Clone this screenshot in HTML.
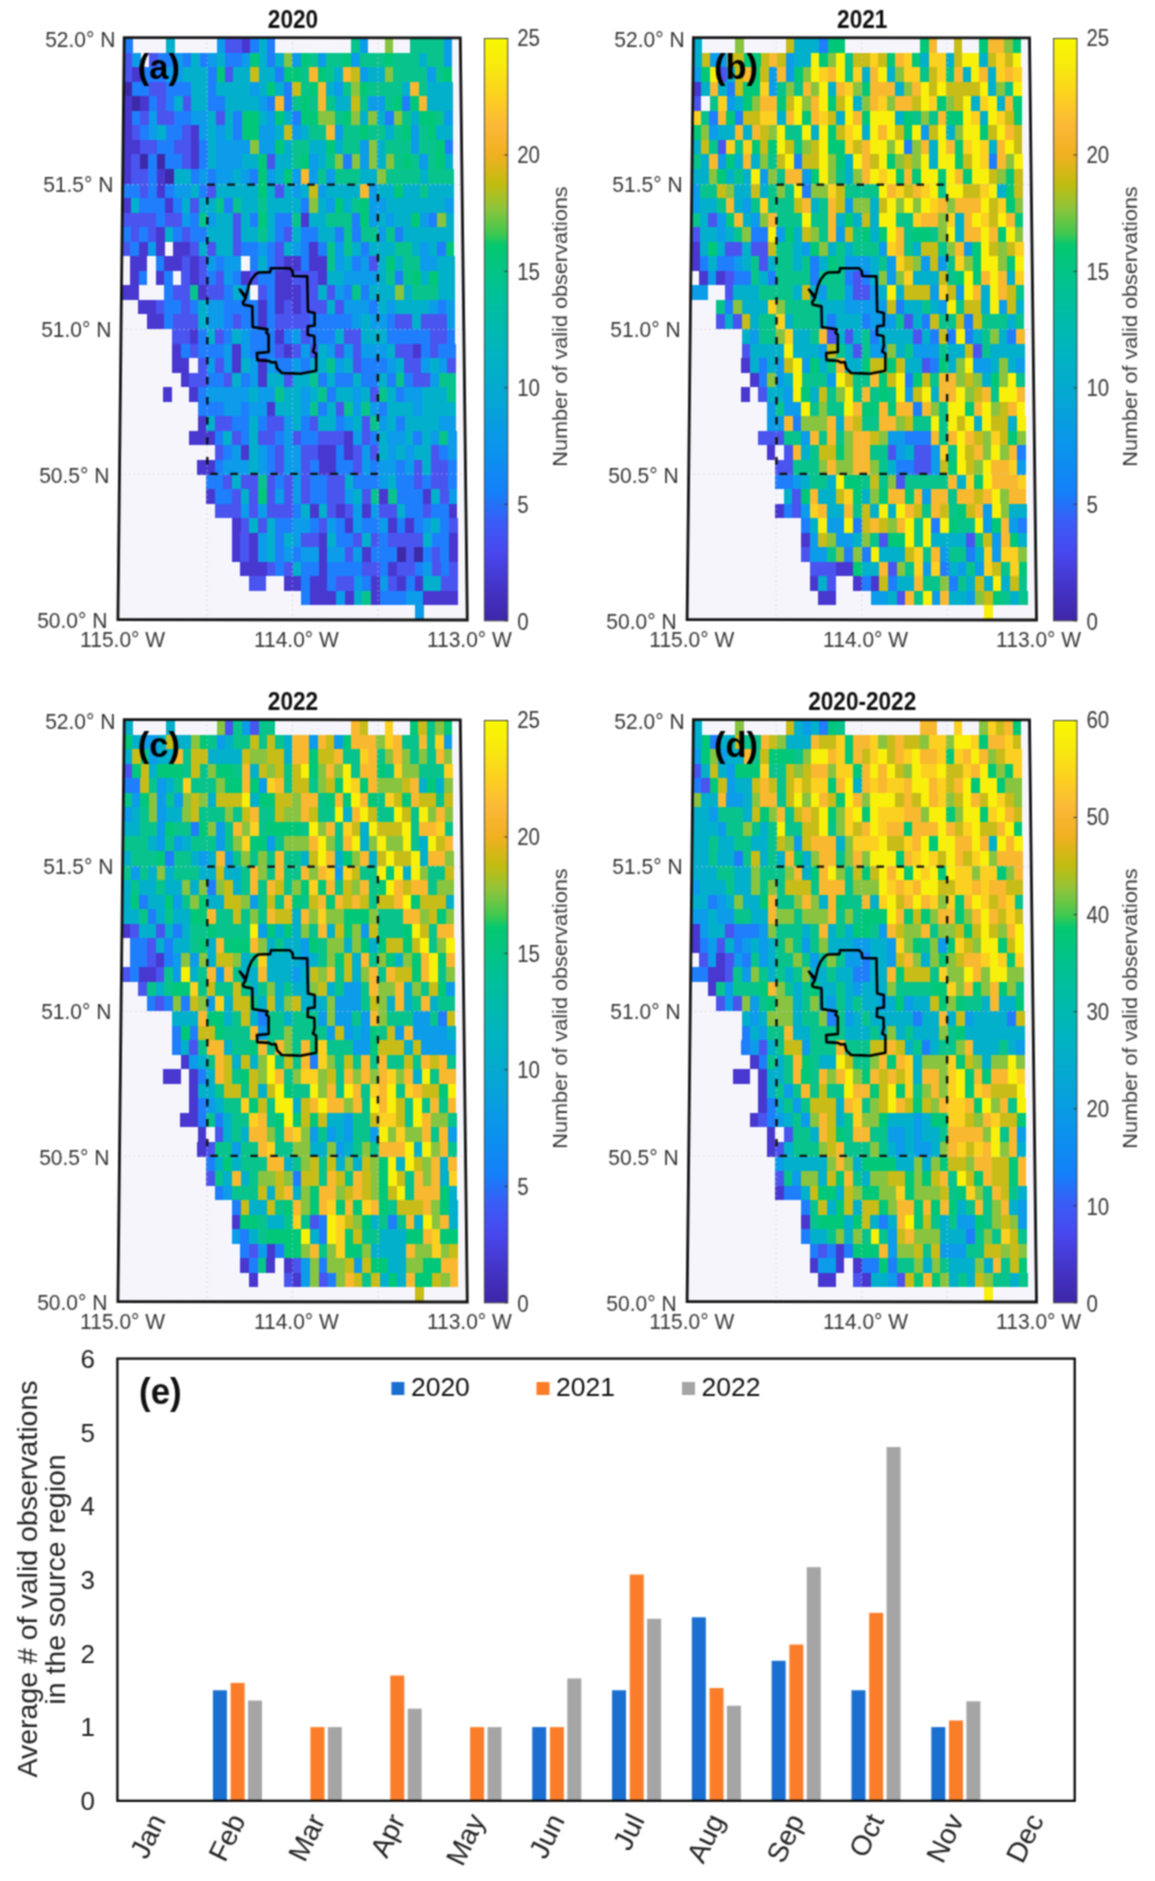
<!DOCTYPE html>
<html><head><meta charset="utf-8"><style>
html,body{margin:0;padding:0;background:#fff;width:1155px;height:1881px;overflow:hidden}
svg{display:block}
text{font-family:"Liberation Sans",sans-serif}
</style></head><body>
<svg width="1155" height="1881" viewBox="0 0 1155 1881" font-family="Liberation Sans, sans-serif">
<defs><filter id="soft" x="0" y="0" width="1155" height="1881" filterUnits="userSpaceOnUse" color-interpolation-filters="sRGB"><feConvolveMatrix order="3" kernelMatrix="1 2 1 2 4 2 1 2 1" divisor="16" edgeMode="duplicate"/></filter></defs>
<g filter="url(#soft)">
<rect width="1155" height="1881" fill="#fff"/>
<polygon points="124.20,37.60 460.30,37.80 467.30,620.00 117.90,619.60" fill="#f5f5fb"/>
<g shape-rendering="crispEdges">
<path fill="#3e2aa8" d="M123.6 81.65H132.1V96.20H123.6zM131.9 96.20H140.4V110.75H131.9zM139.8 154.40H148.3V168.95H139.8zM156.8 154.40H165.2V168.95H156.8zM165.1 168.95H173.6V183.50H165.1zM396.9 547.25H405.6V561.80H396.9zM414.3 547.25H423.0V561.80H414.3z"/>
<path fill="#4838d0" d="M241.8 38.00H250.2V52.55H241.8zM132.2 67.10H140.7V81.65H132.2zM123.5 96.20H131.9V110.75H123.5zM140.4 96.20H148.8V110.75H140.4zM123.3 110.75H131.8V125.30H123.3zM123.2 125.30H131.6V139.85H123.2zM190.8 125.30H199.3V139.85H190.8zM123.0 139.85H139.9V154.40H123.0zM190.7 139.85H199.2V154.40H190.7zM122.9 154.40H131.3V168.95H122.9zM190.6 154.40H199.1V168.95H190.6zM122.7 168.95H131.2V183.50H122.7zM156.6 168.95H165.1V183.50H156.6zM156.5 183.50H165.0V198.05H156.5zM122.4 198.05H130.9V212.60H122.4zM164.9 198.05H173.4V212.60H164.9zM300.9 212.60H309.4V227.15H300.9zM156.1 227.15H164.6V241.70H156.1zM139.0 241.70H147.5V256.25H139.0zM156.0 241.70H164.5V256.25H156.0zM173.1 241.70H190.1V256.25H173.1zM309.4 241.70H317.9V256.25H309.4zM130.3 256.25H147.4V270.80H130.3zM164.4 256.25H181.5V270.80H164.4zM190.0 256.25H198.5V270.80H190.0zM283.9 256.25H300.9V270.80H283.9zM309.4 256.25H326.5V270.80H309.4zM130.1 270.80H138.7V285.35H130.1zM155.8 270.80H164.3V285.35H155.8zM189.9 270.80H198.5V285.35H189.9zM241.2 270.80H249.7V285.35H241.2zM275.3 270.80H292.4V285.35H275.3zM318.0 270.80H326.6V285.35H318.0zM121.4 285.35H138.5V299.90H121.4zM198.4 285.35H206.9V299.90H198.4zM275.3 285.35H301.0V299.90H275.3zM138.4 299.90H155.5V314.45H138.4zM258.2 299.90H266.7V314.45H258.2zM275.3 299.90H283.9V314.45H275.3zM292.4 299.90H301.0V314.45H292.4zM146.8 314.45H164.0V329.00H146.8zM258.2 314.45H266.7V329.00H258.2zM189.6 329.00H198.1V343.55H189.6zM275.3 329.00H283.9V343.55H275.3zM172.3 343.55H180.9V358.10H172.3zM232.4 343.55H241.0V358.10H232.4zM283.9 343.55H292.4V358.10H283.9zM412.6 343.55H421.2V358.10H412.6zM172.2 358.10H189.4V372.65H172.2zM232.3 358.10H240.9V372.65H232.3zM258.1 358.10H266.7V372.65H258.1zM180.7 372.65H189.3V387.20H180.7zM258.1 372.65H266.7V387.20H258.1zM163.4 387.20H172.0V401.75H163.4zM189.2 387.20H197.8V401.75H189.2zM266.6 401.75H275.2V416.30H266.6zM197.6 416.30H206.3V430.85H197.6zM188.9 430.85H214.8V445.40H188.9zM344.3 430.85H352.9V445.40H344.3zM240.7 445.40H249.3V459.95H240.7zM318.4 445.40H335.7V459.95H318.4zM344.3 445.40H353.0V459.95H344.3zM197.4 459.95H214.7V474.50H197.4zM318.5 459.95H335.7V474.50H318.5zM205.9 489.05H214.5V503.60H205.9zM379.2 489.05H387.8V503.60H379.2zM422.5 489.05H431.2V503.60H422.5zM309.9 503.60H318.6V518.15H309.9zM335.9 503.60H344.6V518.15H335.9zM361.9 503.60H370.6V518.15H361.9zM448.6 503.60H457.3V518.15H448.6zM231.8 518.15H240.5V532.70H231.8zM344.6 518.15H353.3V532.70H344.6zM388.0 518.15H396.7V532.70H388.0zM405.4 518.15H414.1V532.70H405.4zM231.7 532.70H240.4V547.25H231.7zM249.1 532.70H257.8V547.25H249.1zM318.6 532.70H327.3V547.25H318.6zM449.0 532.70H457.6V547.25H449.0zM231.7 547.25H240.4V561.80H231.7zM249.1 547.25H257.8V561.80H249.1zM318.7 547.25H327.4V561.80H318.7zM362.1 547.25H370.8V561.80H362.1zM449.1 547.25H457.8V561.80H449.1zM240.3 561.80H266.5V576.35H240.3zM318.7 561.80H327.4V576.35H318.7zM388.3 561.80H397.0V576.35H388.3zM283.9 576.35H301.3V590.90H283.9zM310.0 576.35H327.4V590.90H310.0zM371.0 576.35H379.7V590.90H371.0zM397.1 576.35H405.9V590.90H397.1zM414.6 576.35H423.3V590.90H414.6zM310.0 590.90H336.2V605.45H310.0zM344.9 590.90H353.6V605.45H344.9zM371.1 590.90H379.8V605.45H371.1zM423.4 590.90H458.3V605.45H423.4z"/>
<path fill="#4a55f0" d="M225.0 38.00H241.8V52.55H225.0zM124.0 52.55H132.4V67.10H124.0zM149.2 52.55H157.6V67.10H149.2zM123.8 67.10H132.2V81.65H123.8zM224.9 67.10H233.3V81.65H224.9zM148.9 81.65H165.8V96.20H148.9zM157.3 96.20H165.7V110.75H157.3zM182.6 96.20H191.0V110.75H182.6zM140.2 110.75H148.7V125.30H140.2zM157.1 110.75H174.0V125.30H157.1zM216.3 110.75H224.7V125.30H216.3zM131.6 125.30H140.1V139.85H131.6zM182.4 125.30H190.8V139.85H182.4zM139.9 139.85H156.9V154.40H139.9zM173.8 139.85H190.7V154.40H173.8zM131.3 154.40H139.8V168.95H131.3zM182.2 154.40H190.6V168.95H182.2zM266.9 154.40H275.4V168.95H266.9zM131.2 168.95H148.1V183.50H131.2zM139.5 183.50H148.0V198.05H139.5zM207.4 183.50H215.9V198.05H207.4zM275.4 183.50H283.9V198.05H275.4zM190.4 198.05H198.9V212.60H190.4zM122.2 212.60H156.3V227.15H122.2zM164.8 212.60H181.8V227.15H164.8zM232.8 212.60H241.3V227.15H232.8zM130.6 227.15H139.1V241.70H130.6zM147.6 227.15H156.1V241.70H147.6zM181.7 227.15H190.2V241.70H181.7zM232.8 227.15H241.3V241.70H232.8zM283.9 227.15H292.4V241.70H283.9zM121.9 241.70H130.4V256.25H121.9zM190.1 241.70H198.6V256.25H190.1zM207.1 241.70H215.7V256.25H207.1zM232.7 241.70H241.2V256.25H232.7zM275.3 241.70H283.9V256.25H275.3zM181.5 256.25H190.0V270.80H181.5zM198.5 256.25H207.1V270.80H198.5zM275.3 256.25H283.9V270.80H275.3zM369.2 256.25H377.7V270.80H369.2zM181.4 270.80H189.9V285.35H181.4zM198.5 270.80H207.0V285.35H198.5zM215.5 270.80H224.1V285.35H215.5zM249.7 270.80H258.2V285.35H249.7zM292.4 270.80H318.0V285.35H292.4zM172.7 285.35H189.8V299.90H172.7zM206.9 285.35H224.0V299.90H206.9zM258.2 285.35H266.8V299.90H258.2zM301.0 285.35H318.0V299.90H301.0zM326.6 285.35H335.1V299.90H326.6zM155.5 299.90H164.1V314.45H155.5zM181.2 299.90H189.7V314.45H181.2zM283.9 299.90H292.4V314.45H283.9zM301.0 299.90H326.6V314.45H301.0zM335.2 299.90H343.7V314.45H335.2zM172.5 314.45H198.2V329.00H172.5zM232.5 314.45H241.0V329.00H232.5zM275.3 314.45H309.5V329.00H275.3zM395.2 314.45H412.3V329.00H395.2zM420.9 314.45H446.6V329.00H420.9zM172.4 329.00H189.6V343.55H172.4zM215.3 329.00H223.8V343.55H215.3zM301.0 329.00H309.6V343.55H301.0zM343.9 329.00H361.0V343.55H343.9zM429.6 329.00H446.7V343.55H429.6zM189.5 343.55H198.0V358.10H189.5zM275.3 343.55H283.9V358.10H275.3zM292.4 343.55H301.0V358.10H292.4zM309.6 343.55H318.2V358.10H309.6zM335.3 343.55H343.9V358.10H335.3zM352.5 343.55H361.1V358.10H352.5zM395.4 343.55H412.6V358.10H395.4zM429.7 343.55H438.3V358.10H429.7zM198.0 358.10H206.6V372.65H198.0zM215.1 358.10H223.7V372.65H215.1zM352.6 358.10H361.2V372.65H352.6zM404.1 358.10H421.3V372.65H404.1zM447.1 358.10H455.6V372.65H447.1zM189.3 372.65H206.5V387.20H189.3zM223.7 372.65H232.3V387.20H223.7zM283.9 372.65H292.5V387.20H283.9zM412.8 372.65H430.0V387.20H412.8zM369.9 387.20H378.5V401.75H369.9zM335.5 401.75H344.2V416.30H335.5zM214.9 416.30H232.1V430.85H214.9zM266.6 416.30H283.9V430.85H266.6zM309.7 416.30H318.4V430.85H309.7zM361.5 416.30H370.1V430.85H361.5zM232.1 430.85H240.7V445.40H232.1zM258.0 430.85H275.2V445.40H258.0zM292.5 430.85H301.1V445.40H292.5zM318.4 430.85H344.3V445.40H318.4zM361.5 430.85H370.2V445.40H361.5zM214.7 445.40H223.4V459.95H214.7zM275.2 445.40H283.9V459.95H275.2zM301.1 445.40H318.4V459.95H301.1zM353.0 445.40H361.6V459.95H353.0zM370.3 445.40H378.9V459.95H370.3zM430.7 445.40H439.4V459.95H430.7zM275.2 459.95H283.9V474.50H275.2zM301.2 459.95H309.8V474.50H301.2zM353.0 459.95H361.7V474.50H353.0zM413.6 459.95H422.2V474.50H413.6zM430.9 459.95H448.2V474.50H430.9zM223.3 474.50H231.9V489.05H223.3zM240.6 474.50H257.9V489.05H240.6zM266.5 474.50H275.2V489.05H266.5zM283.9 474.50H292.5V489.05H283.9zM301.2 474.50H309.8V489.05H301.2zM327.1 474.50H344.5V489.05H327.1zM413.7 474.50H422.4V489.05H413.7zM431.0 474.50H448.3V489.05H431.0zM231.9 489.05H240.5V503.60H231.9zM249.2 489.05H257.9V503.60H249.2zM266.5 489.05H275.2V503.60H266.5zM283.9 489.05H292.5V503.60H283.9zM301.2 489.05H309.9V503.60H301.2zM327.2 489.05H344.5V503.60H327.2zM361.8 489.05H370.5V503.60H361.8zM439.8 489.05H448.5V503.60H439.8zM214.5 503.60H240.5V518.15H214.5zM249.2 503.60H257.8V518.15H249.2zM266.5 503.60H292.5V518.15H266.5zM327.2 503.60H335.9V518.15H327.2zM344.6 503.60H353.2V518.15H344.6zM379.3 503.60H396.6V518.15H379.3zM422.6 503.60H431.3V518.15H422.6zM240.5 518.15H249.1V532.70H240.5zM257.8 518.15H266.5V532.70H257.8zM318.6 518.15H327.3V532.70H318.6zM448.8 518.15H457.5V532.70H448.8zM240.4 532.70H249.1V547.25H240.4zM301.2 532.70H318.6V547.25H301.2zM353.4 532.70H362.1V547.25H353.4zM370.8 532.70H379.4V547.25H370.8zM388.1 532.70H422.9V547.25H388.1zM240.4 547.25H249.1V561.80H240.4zM344.7 547.25H353.4V561.80H344.7zM405.6 547.25H414.3V561.80H405.6zM431.7 547.25H440.4V561.80H431.7zM266.5 561.80H275.2V576.35H266.5zM283.9 561.80H292.6V576.35H283.9zM362.2 561.80H379.6V576.35H362.2zM397.0 561.80H414.5V576.35H397.0zM431.9 561.80H440.6V576.35H431.9zM449.3 561.80H458.0V576.35H449.3zM249.0 576.35H266.4V590.90H249.0zM336.1 576.35H353.6V590.90H336.1zM388.4 576.35H397.1V590.90H388.4zM440.7 576.35H458.1V590.90H440.7z"/>
<path fill="#1e7efb" d="M124.1 38.00H132.5V52.55H124.1zM250.2 38.00H258.6V52.55H250.2zM267.0 38.00H275.4V52.55H267.0zM157.6 52.55H174.5V67.10H157.6zM182.9 52.55H191.3V67.10H182.9zM199.7 52.55H208.1V67.10H199.7zM224.9 52.55H241.8V67.10H224.9zM267.0 52.55H275.4V67.10H267.0zM140.7 67.10H165.9V81.65H140.7zM208.0 67.10H216.5V81.65H208.0zM275.4 67.10H283.8V81.65H275.4zM132.1 81.65H148.9V96.20H132.1zM165.8 81.65H191.1V96.20H165.8zM208.0 81.65H216.4V96.20H208.0zM283.8 81.65H292.3V96.20H283.8zM148.8 96.20H157.3V110.75H148.8zM165.7 96.20H174.1V110.75H165.7zM207.9 96.20H224.8V110.75H207.9zM267.0 96.20H275.4V110.75H267.0zM283.8 96.20H292.3V110.75H283.8zM402.0 96.20H410.4V110.75H402.0zM131.8 110.75H140.2V125.30H131.8zM174.0 110.75H190.9V125.30H174.0zM233.2 110.75H241.6V125.30H233.2zM292.3 110.75H300.7V125.30H292.3zM385.2 110.75H393.7V125.30H385.2zM140.1 125.30H148.5V139.85H140.1zM165.5 125.30H182.4V139.85H165.5zM233.1 125.30H241.6V139.85H233.1zM156.9 139.85H173.8V154.40H156.9zM199.2 139.85H207.7V154.40H199.2zM444.7 139.85H453.1V154.40H444.7zM148.3 154.40H156.8V168.95H148.3zM165.2 154.40H182.2V168.95H165.2zM199.1 154.40H207.6V168.95H199.1zM343.2 154.40H351.6V168.95H343.2zM148.1 168.95H156.6V183.50H148.1zM190.6 168.95H199.0V183.50H190.6zM207.5 168.95H216.0V183.50H207.5zM249.9 168.95H258.4V183.50H249.9zM122.5 183.50H139.5V198.05H122.5zM148.0 183.50H156.5V198.05H148.0zM165.0 183.50H173.5V198.05H165.0zM199.0 183.50H207.4V198.05H199.0zM139.4 198.05H164.9V212.60H139.4zM173.4 198.05H181.9V212.60H173.4zM224.4 198.05H232.9V212.60H224.4zM300.8 198.05H309.3V212.60H300.8zM156.3 212.60H164.8V227.15H156.3zM190.3 212.60H198.8V227.15H190.3zM249.8 212.60H258.3V227.15H249.8zM275.3 212.60H292.4V227.15H275.3zM351.9 212.60H360.4V227.15H351.9zM428.5 212.60H437.0V227.15H428.5zM122.1 227.15H130.6V241.70H122.1zM139.1 227.15H147.6V241.70H139.1zM173.2 227.15H181.7V241.70H173.2zM190.2 227.15H207.2V241.70H190.2zM275.3 227.15H283.9V241.70H275.3zM300.9 227.15H317.9V241.70H300.9zM334.9 227.15H343.5V241.70H334.9zM352.0 227.15H360.5V241.70H352.0zM394.5 227.15H403.1V241.70H394.5zM130.4 241.70H139.0V256.25H130.4zM241.2 241.70H258.3V256.25H241.2zM266.8 241.70H275.3V256.25H266.8zM300.9 241.70H309.4V256.25H300.9zM317.9 241.70H326.5V256.25H317.9zM360.6 241.70H369.1V256.25H360.6zM437.3 241.70H445.8V256.25H437.3zM155.9 256.25H164.4V270.80H155.9zM215.6 256.25H224.1V270.80H215.6zM249.7 256.25H258.3V270.80H249.7zM266.8 256.25H275.3V270.80H266.8zM300.9 256.25H309.4V270.80H300.9zM352.1 256.25H360.6V270.80H352.1zM138.7 270.80H147.2V285.35H138.7zM164.3 270.80H172.8V285.35H164.3zM207.0 270.80H215.5V285.35H207.0zM232.6 270.80H241.2V285.35H232.6zM258.2 270.80H275.3V285.35H258.2zM394.9 270.80H403.4V285.35H394.9zM164.2 285.35H172.7V299.90H164.2zM224.0 285.35H232.6V299.90H224.0zM266.8 285.35H275.3V299.90H266.8zM343.7 285.35H352.2V299.90H343.7zM360.8 285.35H369.3V299.90H360.8zM164.1 299.90H181.2V314.45H164.1zM189.7 299.90H198.3V314.45H189.7zM224.0 299.90H258.2V314.45H224.0zM266.7 299.90H275.3V314.45H266.7zM369.4 299.90H378.0V314.45H369.4zM437.9 299.90H446.4V314.45H437.9zM164.0 314.45H172.5V329.00H164.0zM223.9 314.45H232.5V329.00H223.9zM241.0 314.45H258.2V329.00H241.0zM266.7 314.45H275.3V329.00H266.7zM309.5 314.45H352.4V329.00H309.5zM386.6 314.45H395.2V329.00H386.6zM198.1 329.00H206.7V343.55H198.1zM223.8 329.00H232.4V343.55H223.8zM249.6 329.00H275.3V343.55H249.6zM283.9 329.00H292.4V343.55H283.9zM309.6 329.00H335.3V343.55H309.6zM386.7 329.00H429.6V343.55H386.7zM446.7 329.00H455.3V343.55H446.7zM180.9 343.55H189.5V358.10H180.9zM198.0 343.55H223.8V358.10H198.0zM249.5 343.55H275.3V358.10H249.5zM421.2 343.55H429.7V358.10H421.2zM438.3 343.55H455.5V358.10H438.3zM275.3 358.10H292.4V372.65H275.3zM301.0 358.10H309.6V372.65H301.0zM361.2 358.10H386.9V372.65H361.2zM206.5 372.65H223.7V387.20H206.5zM240.9 372.65H249.5V387.20H240.9zM318.2 372.65H326.8V387.20H318.2zM335.4 372.65H352.6V387.20H335.4zM361.2 372.65H378.4V387.20H361.2zM387.0 372.65H395.6V387.20H387.0zM404.2 372.65H412.8V387.20H404.2zM197.8 387.20H206.4V401.75H197.8zM326.9 387.20H335.5V401.75H326.9zM395.7 387.20H404.3V401.75H395.7zM197.7 401.75H223.6V416.30H197.7zM240.8 401.75H249.4V416.30H240.8zM318.3 401.75H326.9V416.30H318.3zM378.6 401.75H387.2V416.30H378.6zM232.1 416.30H249.4V430.85H232.1zM258.0 416.30H266.6V430.85H258.0zM301.1 416.30H309.7V430.85H301.1zM335.6 416.30H344.2V430.85H335.6zM396.0 416.30H404.6V430.85H396.0zM214.8 430.85H223.4V445.40H214.8zM240.7 430.85H249.3V445.40H240.7zM275.2 430.85H283.9V445.40H275.2zM301.1 430.85H318.4V445.40H301.1zM370.2 430.85H378.8V445.40H370.2zM413.3 430.85H422.0V445.40H413.3zM223.4 445.40H232.0V459.95H223.4zM266.6 445.40H275.2V459.95H266.6zM335.7 445.40H344.3V459.95H335.7zM439.4 445.40H448.0V459.95H439.4zM214.7 459.95H223.3V474.50H214.7zM266.6 459.95H275.2V474.50H266.6zM309.8 459.95H318.5V474.50H309.8zM335.7 459.95H353.0V474.50H335.7zM370.3 459.95H379.0V474.50H370.3zM396.3 459.95H404.9V474.50H396.3zM448.2 459.95H456.8V474.50H448.2zM206.0 474.50H223.3V489.05H206.0zM275.2 474.50H283.9V489.05H275.2zM309.8 474.50H327.1V489.05H309.8zM353.1 474.50H379.1V489.05H353.1zM396.4 474.50H413.7V489.05H396.4zM422.4 474.50H431.0V489.05H422.4zM448.3 474.50H457.0V489.05H448.3zM214.5 489.05H231.9V503.60H214.5zM309.9 489.05H327.2V503.60H309.9zM396.5 489.05H422.5V503.60H396.5zM292.5 503.60H301.2V518.15H292.5zM405.3 503.60H422.6V518.15H405.3zM431.3 503.60H448.6V518.15H431.3zM275.2 518.15H292.5V532.70H275.2zM309.9 518.15H318.6V532.70H309.9zM335.9 518.15H344.6V532.70H335.9zM362.0 518.15H379.4V532.70H362.0zM396.7 518.15H405.4V532.70H396.7zM414.1 518.15H422.8V532.70H414.1zM440.1 518.15H448.8V532.70H440.1zM275.2 532.70H283.9V547.25H275.2zM336.0 532.70H353.4V547.25H336.0zM379.4 532.70H388.1V547.25H379.4zM431.6 532.70H449.0V547.25H431.6zM275.2 547.25H283.9V561.80H275.2zM292.6 547.25H301.3V561.80H292.6zM370.8 547.25H396.9V561.80H370.8zM423.0 547.25H431.7V561.80H423.0zM440.4 547.25H449.1V561.80H440.4zM275.2 561.80H283.9V576.35H275.2zM301.3 561.80H318.7V576.35H301.3zM327.4 561.80H362.2V576.35H327.4zM379.6 561.80H388.3V576.35H379.6zM414.5 561.80H423.2V576.35H414.5zM440.6 561.80H449.3V576.35H440.6zM301.3 576.35H310.0V590.90H301.3zM327.4 576.35H336.1V590.90H327.4zM362.3 576.35H371.0V590.90H362.3zM405.9 576.35H414.6V590.90H405.9zM301.3 590.90H310.0V605.45H301.3zM379.8 590.90H406.0V605.45H379.8z"/>
<path fill="#0c9cea" d="M216.6 38.00H225.0V52.55H216.6zM359.5 38.00H367.9V52.55H359.5zM443.6 38.00H452.0V52.55H443.6zM132.4 52.55H140.8V67.10H132.4zM174.5 52.55H182.9V67.10H174.5zM208.1 52.55H216.5V67.10H208.1zM241.8 52.55H250.2V67.10H241.8zM292.3 52.55H300.7V67.10H292.3zM317.5 52.55H325.9V67.10H317.5zM351.2 52.55H359.6V67.10H351.2zM443.7 52.55H452.1V67.10H443.7zM165.9 67.10H182.8V81.65H165.9zM359.7 67.10H368.1V81.65H359.7zM427.0 67.10H435.5V81.65H427.0zM250.1 81.65H258.6V96.20H250.1zM334.4 81.65H342.9V96.20H334.4zM258.5 96.20H267.0V110.75H258.5zM368.2 96.20H385.1V110.75H368.2zM148.7 110.75H157.1V125.30H148.7zM190.9 110.75H207.8V125.30H190.9zM267.0 110.75H275.4V125.30H267.0zM444.4 110.75H452.8V125.30H444.4zM148.5 125.30H157.0V139.85H148.5zM199.3 125.30H207.7V139.85H199.3zM216.2 125.30H224.7V139.85H216.2zM258.5 125.30H275.4V139.85H258.5zM292.3 125.30H300.8V139.85H292.3zM334.6 125.30H343.0V139.85H334.6zM410.7 125.30H419.2V139.85H410.7zM216.1 139.85H250.0V154.40H216.1zM258.5 139.85H275.4V154.40H258.5zM360.0 139.85H368.5V154.40H360.0zM410.8 139.85H419.3V154.40H410.8zM216.1 154.40H241.5V168.95H216.1zM309.3 154.40H317.7V168.95H309.3zM360.1 154.40H368.6V168.95H360.1zM419.4 154.40H427.9V168.95H419.4zM199.0 168.95H207.5V183.50H199.0zM216.0 168.95H233.0V183.50H216.0zM241.4 168.95H249.9V183.50H241.4zM266.9 168.95H275.4V183.50H266.9zM292.3 168.95H300.8V183.50H292.3zM309.3 168.95H317.8V183.50H309.3zM326.3 168.95H334.7V183.50H326.3zM173.5 183.50H190.5V198.05H173.5zM292.3 183.50H300.8V198.05H292.3zM317.8 183.50H326.3V198.05H317.8zM368.7 183.50H377.2V198.05H368.7zM326.3 198.05H334.8V212.60H326.3zM368.8 198.05H385.8V212.60H368.8zM445.3 198.05H453.8V212.60H445.3zM181.8 212.60H190.3V227.15H181.8zM207.3 212.60H215.8V227.15H207.3zM368.9 212.60H377.4V227.15H368.9zM385.9 212.60H394.4V227.15H385.9zM420.0 212.60H428.5V227.15H420.0zM377.5 227.15H386.0V241.70H377.5zM147.5 241.70H156.0V256.25H147.5zM258.3 241.70H266.8V256.25H258.3zM292.4 241.70H300.9V256.25H292.4zM335.0 241.70H343.5V256.25H335.0zM420.2 241.70H428.7V256.25H420.2zM207.1 256.25H215.6V270.80H207.1zM224.1 256.25H241.2V270.80H224.1zM335.0 256.25H343.6V270.80H335.0zM360.6 256.25H369.2V270.80H360.6zM420.4 256.25H437.4V270.80H420.4zM224.1 270.80H232.6V285.35H224.1zM343.6 270.80H377.8V285.35H343.6zM241.1 285.35H249.7V299.90H241.1zM335.1 285.35H343.7V299.90H335.1zM206.8 299.90H224.0V314.45H206.8zM343.7 299.90H369.4V314.45H343.7zM386.5 299.90H395.1V314.45H386.5zM429.3 299.90H437.9V314.45H429.3zM446.4 299.90H455.0V314.45H446.4zM206.8 314.45H223.9V329.00H206.8zM352.4 314.45H360.9V329.00H352.4zM369.5 314.45H386.6V329.00H369.5zM446.6 314.45H455.1V329.00H446.6zM241.0 329.00H249.6V343.55H241.0zM292.4 329.00H301.0V343.55H292.4zM223.8 343.55H232.4V358.10H223.8zM241.0 343.55H249.5V358.10H241.0zM301.0 343.55H309.6V358.10H301.0zM326.8 343.55H335.3V358.10H326.8zM343.9 343.55H352.5V358.10H343.9zM361.1 343.55H386.8V358.10H361.1zM206.6 358.10H215.1V372.65H206.6zM223.7 358.10H232.3V372.65H223.7zM249.5 358.10H258.1V372.65H249.5zM266.7 358.10H275.3V372.65H266.7zM292.4 358.10H301.0V372.65H292.4zM335.4 358.10H344.0V372.65H335.4zM386.9 358.10H395.5V372.65H386.9zM421.3 358.10H429.9V372.65H421.3zM438.5 358.10H447.1V372.65H438.5zM249.5 372.65H258.1V387.20H249.5zM430.0 372.65H438.6V387.20H430.0zM206.4 387.20H249.4V401.75H206.4zM258.0 387.20H275.3V401.75H258.0zM301.1 387.20H309.7V401.75H301.1zM352.7 387.20H361.3V401.75H352.7zM404.3 387.20H421.6V401.75H404.3zM223.6 401.75H240.8V416.30H223.6zM249.4 401.75H266.6V416.30H249.4zM301.1 401.75H309.7V416.30H301.1zM352.8 401.75H361.4V416.30H352.8zM370.0 401.75H378.6V416.30H370.0zM413.1 401.75H421.7V416.30H413.1zM283.9 416.30H292.5V430.85H283.9zM344.2 416.30H352.8V430.85H344.2zM378.7 416.30H387.3V430.85H378.7zM439.1 416.30H456.3V430.85H439.1zM283.9 430.85H292.5V445.40H283.9zM352.9 430.85H361.5V445.40H352.9zM387.4 430.85H404.7V445.40H387.4zM430.6 430.85H439.2V445.40H430.6zM447.9 430.85H456.5V445.40H447.9zM232.0 445.40H240.7V459.95H232.0zM257.9 445.40H266.6V459.95H257.9zM283.9 445.40H301.1V459.95H283.9zM361.6 445.40H370.3V459.95H361.6zM387.5 445.40H396.2V459.95H387.5zM404.8 445.40H413.5V459.95H404.8zM448.0 445.40H456.6V459.95H448.0zM223.3 459.95H249.3V474.50H223.3zM257.9 459.95H266.6V474.50H257.9zM283.9 459.95H301.2V474.50H283.9zM361.7 459.95H370.3V474.50H361.7zM379.0 459.95H396.3V474.50H379.0zM404.9 459.95H413.6V474.50H404.9zM292.5 474.50H301.2V489.05H292.5zM379.1 474.50H387.7V489.05H379.1zM275.2 489.05H283.9V503.60H275.2zM292.5 489.05H301.2V503.60H292.5zM344.5 489.05H353.2V503.60H344.5zM448.5 489.05H457.1V503.60H448.5zM240.5 503.60H249.2V518.15H240.5zM257.8 503.60H266.5V518.15H257.8zM353.2 503.60H361.9V518.15H353.2zM370.6 503.60H379.3V518.15H370.6zM292.5 518.15H309.9V532.70H292.5zM327.3 518.15H335.9V532.70H327.3zM353.3 518.15H362.0V532.70H353.3zM379.4 518.15H388.0V532.70H379.4zM422.8 518.15H431.4V532.70H422.8zM257.8 532.70H266.5V547.25H257.8zM292.6 532.70H301.2V547.25H292.6zM257.8 547.25H266.5V561.80H257.8zM283.9 547.25H292.6V561.80H283.9zM301.3 547.25H318.7V561.80H301.3zM327.4 547.25H344.7V561.80H327.4zM353.4 547.25H362.1V561.80H353.4zM423.2 561.80H431.9V576.35H423.2zM353.6 576.35H362.3V590.90H353.6zM379.7 576.35H388.4V590.90H379.7zM336.2 590.90H344.9V605.45H336.2zM406.0 590.90H423.4V605.45H406.0zM414.8 605.45H423.6V620.00H414.8z"/>
<path fill="#02b0cc" d="M166.2 38.00H174.6V52.55H166.2zM258.6 38.00H267.0V52.55H258.6zM191.3 52.55H199.7V67.10H191.3zM216.5 52.55H224.9V67.10H216.5zM258.6 52.55H267.0V67.10H258.6zM275.4 52.55H283.8V67.10H275.4zM418.5 52.55H426.9V67.10H418.5zM182.8 67.10H208.0V81.65H182.8zM233.3 67.10H250.2V81.65H233.3zM258.6 67.10H275.4V81.65H258.6zM334.4 67.10H342.8V81.65H334.4zM368.1 67.10H384.9V81.65H368.1zM191.1 81.65H208.0V96.20H191.1zM216.4 81.65H250.1V96.20H216.4zM258.6 81.65H267.0V96.20H258.6zM275.4 81.65H283.8V96.20H275.4zM326.0 81.65H334.4V96.20H326.0zM401.9 81.65H410.3V96.20H401.9zM427.2 81.65H452.5V96.20H427.2zM174.1 96.20H182.6V110.75H174.1zM191.0 96.20H207.9V110.75H191.0zM224.8 96.20H258.5V110.75H224.8zM334.5 96.20H351.4V110.75H334.5zM427.3 96.20H452.6V110.75H427.3zM207.8 110.75H216.3V125.30H207.8zM224.7 110.75H233.2V125.30H224.7zM258.5 110.75H267.0V125.30H258.5zM283.8 110.75H292.3V125.30H283.8zM359.9 110.75H368.3V125.30H359.9zM376.8 110.75H385.2V125.30H376.8zM410.6 110.75H419.0V125.30H410.6zM157.0 125.30H165.5V139.85H157.0zM207.7 125.30H216.2V139.85H207.7zM224.7 125.30H233.1V139.85H224.7zM275.4 125.30H283.9V139.85H275.4zM300.8 125.30H309.2V139.85H300.8zM385.3 125.30H393.8V139.85H385.3zM436.1 125.30H453.0V139.85H436.1zM207.7 139.85H216.1V154.40H207.7zM283.9 139.85H292.3V154.40H283.9zM309.2 139.85H326.2V154.40H309.2zM334.6 139.85H343.1V154.40H334.6zM377.0 139.85H385.4V154.40H377.0zM207.6 154.40H216.1V168.95H207.6zM241.5 154.40H258.4V168.95H241.5zM275.4 154.40H292.3V168.95H275.4zM317.7 154.40H326.2V168.95H317.7zM377.1 154.40H385.5V168.95H377.1zM444.8 154.40H453.3V168.95H444.8zM173.6 168.95H190.6V183.50H173.6zM233.0 168.95H241.4V183.50H233.0zM275.4 168.95H283.9V183.50H275.4zM360.2 168.95H377.1V183.50H360.2zM419.6 168.95H428.0V183.50H419.6zM190.5 183.50H199.0V198.05H190.5zM215.9 183.50H258.4V198.05H215.9zM266.9 183.50H275.4V198.05H266.9zM283.9 183.50H292.3V198.05H283.9zM300.8 183.50H309.3V198.05H300.8zM326.3 183.50H360.3V198.05H326.3zM377.2 183.50H394.2V198.05H377.2zM402.7 183.50H419.7V198.05H402.7zM428.2 183.50H453.6V198.05H428.2zM130.9 198.05H139.4V212.60H130.9zM181.9 198.05H190.4V212.60H181.9zM198.9 198.05H215.9V212.60H198.9zM241.4 198.05H258.4V212.60H241.4zM266.9 198.05H300.8V212.60H266.9zM317.8 198.05H326.3V212.60H317.8zM343.3 198.05H351.8V212.60H343.3zM385.8 198.05H445.3V212.60H385.8zM215.8 212.60H232.8V227.15H215.8zM241.3 212.60H249.8V227.15H241.3zM266.8 212.60H275.3V227.15H266.8zM309.4 212.60H326.4V227.15H309.4zM377.4 212.60H385.9V227.15H377.4zM394.4 212.60H411.4V227.15H394.4zM445.5 212.60H454.0V227.15H445.5zM164.6 227.15H173.2V241.70H164.6zM207.2 227.15H232.8V241.70H207.2zM241.3 227.15H258.3V241.70H241.3zM266.8 227.15H275.3V241.70H266.8zM292.4 227.15H300.9V241.70H292.4zM317.9 227.15H334.9V241.70H317.9zM403.1 227.15H454.1V241.70H403.1zM198.6 241.70H207.1V256.25H198.6zM215.7 241.70H232.7V256.25H215.7zM283.9 241.70H292.4V256.25H283.9zM352.0 241.70H360.6V256.25H352.0zM369.1 241.70H394.7V256.25H369.1zM411.7 241.70H420.2V256.25H411.7zM428.7 241.70H437.3V256.25H428.7zM258.3 256.25H266.8V270.80H258.3zM343.6 256.25H352.1V270.80H343.6zM377.7 256.25H386.2V270.80H377.7zM394.8 256.25H403.3V270.80H394.8zM437.4 256.25H454.5V270.80H437.4zM326.6 270.80H343.6V285.35H326.6zM377.8 270.80H386.3V285.35H377.8zM420.5 270.80H429.0V285.35H420.5zM437.6 270.80H454.6V285.35H437.6zM232.6 285.35H241.1V299.90H232.6zM318.0 285.35H326.6V299.90H318.0zM369.3 285.35H395.0V299.90H369.3zM403.5 285.35H412.1V299.90H403.5zM437.7 285.35H454.8V299.90H437.7zM198.3 299.90H206.8V314.45H198.3zM326.6 299.90H335.2V314.45H326.6zM378.0 299.90H386.5V314.45H378.0zM395.1 299.90H429.3V314.45H395.1zM198.2 314.45H206.8V329.00H198.2zM360.9 314.45H369.5V329.00H360.9zM412.3 314.45H420.9V329.00H412.3zM206.7 329.00H215.3V343.55H206.7zM232.4 329.00H241.0V343.55H232.4zM335.3 329.00H343.9V343.55H335.3zM361.0 329.00H386.7V343.55H361.0zM318.2 343.55H326.8V358.10H318.2zM386.8 343.55H395.4V358.10H386.8zM240.9 358.10H249.5V372.65H240.9zM309.6 358.10H326.8V372.65H309.6zM344.0 358.10H352.6V372.65H344.0zM395.5 358.10H404.1V372.65H395.5zM429.9 358.10H438.5V372.65H429.9zM232.3 372.65H240.9V387.20H232.3zM266.7 372.65H283.9V387.20H266.7zM292.5 372.65H309.7V387.20H292.5zM326.8 372.65H335.4V387.20H326.8zM352.6 372.65H361.2V387.20H352.6zM378.4 372.65H387.0V387.20H378.4zM249.4 387.20H258.0V401.75H249.4zM283.9 387.20H301.1V401.75H283.9zM309.7 387.20H318.3V401.75H309.7zM335.5 387.20H352.7V401.75H335.5zM361.3 387.20H369.9V401.75H361.3zM387.1 387.20H395.7V401.75H387.1zM421.6 387.20H447.4V401.75H421.6zM275.2 401.75H301.1V416.30H275.2zM326.9 401.75H335.5V416.30H326.9zM387.2 401.75H413.1V416.30H387.2zM421.7 401.75H456.1V416.30H421.7zM206.3 416.30H214.9V430.85H206.3zM249.4 416.30H258.0V430.85H249.4zM292.5 416.30H301.1V430.85H292.5zM318.4 416.30H335.6V430.85H318.4zM352.8 416.30H361.5V430.85H352.8zM387.3 416.30H396.0V430.85H387.3zM404.6 416.30H439.1V430.85H404.6zM223.4 430.85H232.1V445.40H223.4zM249.3 430.85H258.0V445.40H249.3zM378.8 430.85H387.4V445.40H378.8zM404.7 430.85H413.3V445.40H404.7zM422.0 430.85H430.6V445.40H422.0zM249.3 445.40H257.9V459.95H249.3zM378.9 445.40H387.5V459.95H378.9zM396.2 445.40H404.8V459.95H396.2zM413.5 445.40H430.7V459.95H413.5zM249.3 459.95H257.9V474.50H249.3zM422.2 459.95H430.9V474.50H422.2zM231.9 474.50H240.6V489.05H231.9zM344.5 474.50H353.1V489.05H344.5zM387.7 474.50H396.4V489.05H387.7zM240.5 489.05H249.2V503.60H240.5zM353.2 489.05H361.8V503.60H353.2zM431.2 489.05H439.8V503.60H431.2zM301.2 503.60H309.9V518.15H301.2zM318.6 503.60H327.2V518.15H318.6zM396.6 503.60H405.3V518.15H396.6zM249.1 518.15H257.8V532.70H249.1zM266.5 518.15H275.2V532.70H266.5zM431.4 518.15H440.1V532.70H431.4zM266.5 532.70H275.2V547.25H266.5zM283.9 532.70H292.6V547.25H283.9zM327.3 532.70H336.0V547.25H327.3zM362.1 532.70H370.8V547.25H362.1zM422.9 532.70H431.6V547.25H422.9zM266.5 547.25H275.2V561.80H266.5zM292.6 561.80H301.3V576.35H292.6zM423.3 576.35H440.7V590.90H423.3zM353.6 590.90H362.4V605.45H353.6z"/>
<path fill="#08c48c" d="M351.1 38.00H359.5V52.55H351.1zM409.9 38.00H443.6V52.55H409.9zM309.1 52.55H317.5V67.10H309.1zM325.9 52.55H342.8V67.10H325.9zM359.6 52.55H384.8V67.10H359.6zM393.2 52.55H418.5V67.10H393.2zM426.9 52.55H443.7V67.10H426.9zM300.7 67.10H309.1V81.65H300.7zM326.0 67.10H334.4V81.65H326.0zM393.4 67.10H427.0V81.65H393.4zM435.5 67.10H443.9V81.65H435.5zM300.7 81.65H309.1V96.20H300.7zM342.9 81.65H351.3V96.20H342.9zM368.2 81.65H401.9V96.20H368.2zM418.8 81.65H427.2V96.20H418.8zM292.3 96.20H300.7V110.75H292.3zM309.2 96.20H317.6V110.75H309.2zM326.0 96.20H334.5V110.75H326.0zM359.8 96.20H368.2V110.75H359.8zM385.1 96.20H393.6V110.75H385.1zM334.5 110.75H343.0V125.30H334.5zM402.1 110.75H410.6V125.30H402.1zM435.9 110.75H444.4V125.30H435.9zM309.2 125.30H326.1V139.85H309.2zM343.0 125.30H360.0V139.85H343.0zM368.4 125.30H385.3V139.85H368.4zM393.8 125.30H402.2V139.85H393.8zM419.2 125.30H427.6V139.85H419.2zM292.3 139.85H309.2V154.40H292.3zM343.1 139.85H360.0V154.40H343.1zM385.4 139.85H410.8V154.40H385.4zM419.3 139.85H436.2V154.40H419.3zM292.3 154.40H300.8V168.95H292.3zM326.2 154.40H334.7V168.95H326.2zM394.0 154.40H402.5V168.95H394.0zM410.9 154.40H419.4V168.95H410.9zM427.9 154.40H436.4V168.95H427.9zM317.8 168.95H326.3V183.50H317.8zM334.7 168.95H360.2V183.50H334.7zM385.6 168.95H419.6V183.50H385.6zM428.0 168.95H453.5V183.50H428.0zM419.7 183.50H428.2V198.05H419.7zM215.9 198.05H224.4V212.60H215.9zM232.9 198.05H241.4V212.60H232.9zM258.4 198.05H266.9V212.60H258.4zM351.8 198.05H360.3V212.60H351.8zM198.8 212.60H207.3V227.15H198.8zM292.4 212.60H300.9V227.15H292.4zM326.4 212.60H351.9V227.15H326.4zM258.3 227.15H266.8V241.70H258.3zM343.5 227.15H352.0V241.70H343.5zM360.5 227.15H377.5V241.70H360.5zM386.0 227.15H394.5V241.70H386.0zM326.5 241.70H335.0V256.25H326.5zM343.5 241.70H352.0V256.25H343.5zM394.7 241.70H411.7V256.25H394.7zM326.5 256.25H335.0V270.80H326.5zM403.3 256.25H420.4V270.80H403.3zM386.3 270.80H394.9V285.35H386.3zM403.4 270.80H411.9V285.35H403.4zM189.8 285.35H198.4V299.90H189.8zM352.2 285.35H360.8V299.90H352.2zM412.1 285.35H437.7V299.90H412.1zM326.8 358.10H335.4V372.65H326.8zM309.7 372.65H318.2V387.20H309.7zM395.6 372.65H404.2V387.20H395.6zM438.6 372.65H455.8V387.20H438.6zM275.3 387.20H283.9V401.75H275.3zM318.3 387.20H326.9V401.75H318.3zM378.5 387.20H387.1V401.75H378.5zM447.4 387.20H456.0V401.75H447.4zM309.7 401.75H318.3V416.30H309.7zM344.2 401.75H352.8V416.30H344.2zM361.4 401.75H370.0V416.30H361.4zM370.1 416.30H378.7V430.85H370.1zM439.2 430.85H447.9V445.40H439.2zM257.9 474.50H266.5V489.05H257.9zM370.5 489.05H379.2V503.60H370.5zM387.8 489.05H396.5V503.60H387.8zM362.4 590.90H371.1V605.45H362.4z"/>
<path fill="#00c878" d="M250.2 52.55H258.6V67.10H250.2zM300.7 52.55H309.1V67.10H300.7zM342.8 52.55H351.2V67.10H342.8zM384.8 52.55H393.2V67.10H384.8zM216.5 67.10H224.9V81.65H216.5zM283.8 67.10H300.7V81.65H283.8zM317.5 67.10H326.0V81.65H317.5zM443.9 67.10H452.3V81.65H443.9zM267.0 81.65H275.4V96.20H267.0zM309.1 81.65H317.6V96.20H309.1zM359.7 81.65H368.2V96.20H359.7zM300.7 96.20H309.2V110.75H300.7zM393.6 96.20H402.0V110.75H393.6zM410.4 96.20H418.9V110.75H410.4zM241.6 110.75H258.5V125.30H241.6zM275.4 110.75H283.8V125.30H275.4zM300.7 110.75H317.6V125.30H300.7zM343.0 110.75H351.4V125.30H343.0zM419.0 110.75H435.9V125.30H419.0zM241.6 125.30H258.5V139.85H241.6zM360.0 125.30H368.4V139.85H360.0zM402.2 125.30H410.7V139.85H402.2zM427.6 125.30H436.1V139.85H427.6zM275.4 139.85H283.9V154.40H275.4zM326.2 139.85H334.6V154.40H326.2zM436.2 139.85H444.7V154.40H436.2zM258.4 154.40H266.9V168.95H258.4zM300.8 154.40H309.3V168.95H300.8zM402.5 154.40H410.9V168.95H402.5zM436.4 154.40H444.8V168.95H436.4zM258.4 168.95H266.9V183.50H258.4zM283.9 168.95H292.3V183.50H283.9zM258.4 183.50H266.9V198.05H258.4zM394.2 183.50H402.7V198.05H394.2zM334.8 198.05H343.3V212.60H334.8zM360.3 198.05H368.8V212.60H360.3zM258.3 212.60H266.8V227.15H258.3zM360.4 212.60H368.9V227.15H360.4zM411.4 212.60H420.0V227.15H411.4zM445.8 241.70H454.3V256.25H445.8zM386.2 256.25H394.8V270.80H386.2zM411.9 270.80H420.5V285.35H411.9zM429.0 270.80H437.6V285.35H429.0zM257.9 489.05H266.5V503.60H257.9z"/>
<path fill="#88c440" d="M384.7 38.00H393.1V52.55H384.7zM283.8 52.55H292.3V67.10H283.8zM384.9 67.10H393.4V81.65H384.9zM351.3 81.65H359.7V96.20H351.3zM317.6 110.75H334.5V125.30H317.6zM351.4 110.75H359.9V125.30H351.4zM368.3 110.75H376.8V125.30H368.3zM393.7 110.75H402.1V125.30H393.7zM250.0 139.85H258.5V154.40H250.0zM368.5 139.85H377.0V154.40H368.5zM334.7 154.40H343.2V168.95H334.7zM351.6 154.40H360.1V168.95H351.6zM368.6 154.40H377.1V168.95H368.6zM385.5 154.40H394.0V168.95H385.5zM377.1 168.95H385.6V183.50H377.1zM309.3 198.05H317.8V212.60H309.3zM437.0 212.60H445.5V227.15H437.0zM395.0 285.35H403.5V299.90H395.0z"/>
<path fill="#c8bc18" d="M250.2 67.10H258.6V81.65H250.2zM351.2 67.10H359.7V81.65H351.2zM292.3 81.65H300.7V96.20H292.3zM351.4 96.20H359.8V110.75H351.4zM283.9 125.30H292.3V139.85H283.9zM309.3 183.50H317.8V198.05H309.3z"/>
<path fill="#f8b830" d="M309.1 67.10H317.5V81.65H309.1zM342.8 67.10H351.2V81.65H342.8zM317.6 81.65H326.0V96.20H317.6zM410.3 81.65H418.8V96.20H410.3zM275.4 96.20H283.8V110.75H275.4zM317.6 96.20H326.0V110.75H317.6zM418.9 96.20H427.3V110.75H418.9zM326.1 125.30H334.6V139.85H326.1zM300.8 168.95H309.3V183.50H300.8zM360.3 183.50H368.7V198.05H360.3z"/>
</g>
<line x1="207.0" y1="38" x2="207.0" y2="620" stroke="#d2c8d4" stroke-width="1.1" stroke-dasharray="1.4 3.4" opacity="0.7"/>
<line x1="292.4" y1="38" x2="292.4" y2="620" stroke="#d2c8d4" stroke-width="1.1" stroke-dasharray="1.4 3.4" opacity="0.7"/>
<line x1="378.0" y1="38" x2="378.0" y2="620" stroke="#d2c8d4" stroke-width="1.1" stroke-dasharray="1.4 3.4" opacity="0.7"/>
<line x1="122.61309278350515" y1="184.6" x2="462.06323024054984" y2="184.6" stroke="#d2c8d4" stroke-width="1.1" stroke-dasharray="1.4 3.4" opacity="0.7"/>
<line x1="121.04458762886598" y1="329.5" x2="463.8060137457045" y2="329.5" stroke="#d2c8d4" stroke-width="1.1" stroke-dasharray="1.4 3.4" opacity="0.7"/>
<line x1="119.48041237113402" y1="474.0" x2="465.54398625429553" y2="474.0" stroke="#d2c8d4" stroke-width="1.1" stroke-dasharray="1.4 3.4" opacity="0.7"/>
<polyline points="270.96,268.18 289.66,268.18 292.39,270.91 293.17,275.97 307.20,276.36 307.98,311.43 314.60,312.99 314.60,325.46 307.98,326.24 307.59,334.81 314.21,335.98 314.60,345.72 313.04,351.56 316.16,353.51 316.16,370.65 300.57,373.77 292.78,373.38 281.87,372.99 277.20,368.31 275.64,362.08 271.74,362.47 268.62,360.91 257.33,360.13 256.94,353.12 268.62,351.95 268.62,334.81 266.29,332.86 267.45,329.35 252.65,327.01 252.26,306.36 243.69,304.81 242.91,302.47 245.64,298.18 239.79,289.61 246.03,296.62 248.75,285.71 251.48,279.48 255.38,274.42 258.88,272.47 270.18,272.08 270.96,268.18" fill="none" stroke="#000" stroke-width="2.6" stroke-linejoin="round" stroke-linecap="round"/>
<polygon points="124.20,37.60 460.30,37.80 467.30,620.00 117.90,619.60" fill="none" stroke="#141414" stroke-width="2.8"/>
<rect x="207.3" y="184.6" width="170.6" height="289.3" fill="none" stroke="#111" stroke-width="2.4" stroke-dasharray="7.5 12.5"/>
<text transform="translate(293.00,28.00) scale(1.0,1.13)" font-size="22.6" text-anchor="middle" font-weight="bold" fill="#111" >2020</text>
<text transform="translate(115.40,46.60) scale(1.0,1.09)" font-size="21" text-anchor="end" font-weight="normal" fill="#383838" >52.0° N</text>
<text transform="translate(113.38,191.80) scale(1.0,1.09)" font-size="21" text-anchor="end" font-weight="normal" fill="#383838" >51.5° N</text>
<text transform="translate(111.39,337.30) scale(1.0,1.09)" font-size="21" text-anchor="end" font-weight="normal" fill="#383838" >51.0° N</text>
<text transform="translate(109.40,482.50) scale(1.0,1.09)" font-size="21" text-anchor="end" font-weight="normal" fill="#383838" >50.5° N</text>
<text transform="translate(107.40,627.50) scale(1.0,1.09)" font-size="21" text-anchor="end" font-weight="normal" fill="#383838" >50.0° N</text>
<text transform="translate(122.60,646.90) scale(1.0,1.09)" font-size="21" text-anchor="middle" font-weight="normal" fill="#383838" >115.0° W</text>
<text transform="translate(296.40,646.90) scale(1.0,1.09)" font-size="21" text-anchor="middle" font-weight="normal" fill="#383838" >114.0° W</text>
<text transform="translate(469.40,646.90) scale(1.0,1.09)" font-size="21" text-anchor="middle" font-weight="normal" fill="#383838" >113.0° W</text>
<defs><linearGradient id="cba" x1="0" y1="0" x2="0" y2="1"><stop offset="0.000" stop-color="#f8f800"/><stop offset="0.050" stop-color="#f8e810"/><stop offset="0.100" stop-color="#fcd020"/><stop offset="0.150" stop-color="#fbb838"/><stop offset="0.200" stop-color="#f0b020"/><stop offset="0.250" stop-color="#c0bc10"/><stop offset="0.290" stop-color="#90c43a"/><stop offset="0.335" stop-color="#40c850"/><stop offset="0.355" stop-color="#05c870"/><stop offset="0.440" stop-color="#00c098"/><stop offset="0.540" stop-color="#00b4c0"/><stop offset="0.620" stop-color="#06a6d4"/><stop offset="0.700" stop-color="#0a94ec"/><stop offset="0.780" stop-color="#1480fa"/><stop offset="0.830" stop-color="#3a5cf6"/><stop offset="0.880" stop-color="#4848f0"/><stop offset="0.940" stop-color="#4434c8"/><stop offset="1.000" stop-color="#3e26a8"/></linearGradient></defs>
<rect x="484.4" y="38.5" width="23.400000000000034" height="582.3" fill="url(#cba)" stroke="#444" stroke-width="1"/>
<line x1="504.3" x2="507.8" y1="620.8" y2="620.8" stroke="#333" stroke-width="1"/>
<text transform="translate(517.20,630.10) scale(1.0,1.13)" font-size="20.5" text-anchor="start" font-weight="normal" fill="#383838" >0</text>
<line x1="504.3" x2="507.8" y1="504.34" y2="504.34" stroke="#333" stroke-width="1"/>
<text transform="translate(517.20,513.24) scale(1.0,1.13)" font-size="20.5" text-anchor="start" font-weight="normal" fill="#383838" >5</text>
<line x1="504.3" x2="507.8" y1="387.88" y2="387.88" stroke="#333" stroke-width="1"/>
<text transform="translate(517.20,396.38) scale(1.0,1.13)" font-size="20.5" text-anchor="start" font-weight="normal" fill="#383838" >10</text>
<line x1="504.3" x2="507.8" y1="271.41999999999996" y2="271.41999999999996" stroke="#333" stroke-width="1"/>
<text transform="translate(517.20,279.52) scale(1.0,1.13)" font-size="20.5" text-anchor="start" font-weight="normal" fill="#383838" >15</text>
<line x1="504.3" x2="507.8" y1="154.95999999999998" y2="154.95999999999998" stroke="#333" stroke-width="1"/>
<text transform="translate(517.20,162.66) scale(1.0,1.13)" font-size="20.5" text-anchor="start" font-weight="normal" fill="#383838" >20</text>
<line x1="504.3" x2="507.8" y1="38.5" y2="38.5" stroke="#333" stroke-width="1"/>
<text transform="translate(517.20,45.80) scale(1.0,1.13)" font-size="20.5" text-anchor="start" font-weight="normal" fill="#383838" >25</text>
<text transform="translate(567.30,326.50) rotate(-90) scale(1.056,1.0)" font-size="20.5" text-anchor="middle" font-weight="normal" fill="#383838" >Number of valid observations</text>
<text transform="translate(137.80,78.60)" font-size="34.5" text-anchor="start" font-weight="bold" fill="#000" >(a)</text>
<polygon points="693.40,37.60 1029.50,37.80 1036.50,620.00 687.10,619.60" fill="#f5f5fb"/>
<g shape-rendering="crispEdges">
<path fill="#4838d0" d="M692.8 81.65H701.3V96.20H692.8zM691.1 241.70H699.6V256.25H691.1zM691.0 256.25H699.5V270.80H691.0zM699.3 270.80H707.9V285.35H699.3zM716.4 270.80H725.0V285.35H716.4zM741.4 358.10H750.0V372.65H741.4zM749.9 372.65H758.5V387.20H749.9zM741.2 387.20H749.8V401.75H741.2zM766.7 445.40H775.3V459.95H766.7zM775.0 503.60H783.7V518.15H775.0zM800.9 532.70H809.6V547.25H800.9zM835.7 561.80H853.1V576.35H835.7zM809.5 576.35H818.2V590.90H809.5zM853.1 576.35H861.8V590.90H853.1zM870.5 576.35H879.2V590.90H870.5zM818.2 590.90H835.6V605.45H818.2z"/>
<path fill="#4a55f0" d="M718.3 67.10H726.7V81.65H718.3zM692.7 96.20H701.1V110.75H692.7zM717.6 139.85H726.1V154.40H717.6zM708.4 212.60H717.0V227.15H708.4zM691.3 227.15H699.8V241.70H691.3zM725.2 241.70H742.3V256.25H725.2zM750.8 241.70H767.8V256.25H750.8zM759.2 256.25H767.7V270.80H759.2zM725.0 270.80H733.5V285.35H725.0zM853.1 270.80H861.6V285.35H853.1zM724.8 285.35H733.4V299.90H724.8zM853.1 285.35H870.2V299.90H853.1zM716.0 314.45H724.6V329.00H716.0zM733.2 314.45H741.7V329.00H733.2zM904.4 314.45H913.0V329.00H904.4zM827.3 329.00H835.9V343.55H827.3zM844.5 329.00H853.1V343.55H844.5zM913.1 329.00H921.6V343.55H913.1zM741.5 343.55H750.1V358.10H741.5zM853.1 343.55H861.6V358.10H853.1zM973.2 343.55H981.8V358.10H973.2zM921.8 358.10H930.4V372.65H921.8zM758.4 387.20H767.0V401.75H758.4zM758.1 430.85H784.0V445.40H758.1zM783.9 445.40H792.6V459.95H783.9zM887.6 445.40H896.3V459.95H887.6zM913.5 445.40H930.8V459.95H913.5zM775.2 459.95H792.5V474.50H775.2zM913.6 459.95H930.9V474.50H913.6zM896.3 474.50H905.0V489.05H896.3zM792.4 489.05H801.1V503.60H792.4zM792.4 503.60H801.0V518.15H792.4zM879.1 532.70H887.8V547.25H879.1zM966.0 532.70H974.7V547.25H966.0zM800.9 547.25H809.6V561.80H800.9zM809.5 561.80H835.7V576.35H809.5zM887.9 561.80H896.6V576.35H887.9zM826.9 576.35H835.6V590.90H826.9zM896.7 590.90H905.4V605.45H896.7z"/>
<path fill="#1e7efb" d="M819.4 38.00H827.8V52.55H819.4zM726.6 81.65H735.0V96.20H726.6zM709.4 110.75H717.9V125.30H709.4zM734.8 110.75H743.2V125.30H734.8zM903.8 139.85H912.3V154.40H903.8zM793.7 154.40H802.2V168.95H793.7zM988.6 154.40H997.1V168.95H988.6zM802.1 183.50H810.6V198.05H802.1zM750.9 227.15H767.9V241.70H750.9zM699.5 256.25H708.0V270.80H699.5zM716.6 256.25H733.6V270.80H716.6zM810.4 256.25H818.9V270.80H810.4zM733.5 270.80H750.6V285.35H733.5zM767.7 270.80H776.2V285.35H767.7zM810.4 270.80H818.9V285.35H810.4zM844.5 270.80H853.1V285.35H844.5zM861.6 270.80H870.1V285.35H861.6zM724.7 299.90H733.3V314.45H724.7zM895.8 299.90H904.4V314.45H895.8zM827.4 314.45H835.9V329.00H827.4zM861.6 314.45H870.2V329.00H861.6zM921.6 314.45H930.1V329.00H921.6zM964.4 314.45H973.0V329.00H964.4zM870.2 329.00H878.8V343.55H870.2zM930.2 329.00H938.8V343.55H930.2zM947.4 329.00H955.9V343.55H947.4zM964.5 329.00H973.1V343.55H964.5zM1007.4 329.00H1015.9V343.55H1007.4zM758.6 358.10H767.2V372.65H758.6zM930.4 358.10H939.0V372.65H930.4zM758.5 372.65H767.1V387.20H758.5zM904.6 372.65H913.2V387.20H904.6zM913.4 401.75H922.0V416.30H913.4zM792.7 416.30H801.3V430.85H792.7zM904.8 430.85H930.7V445.40H904.8zM1017.2 445.40H1025.8V459.95H1017.2zM896.3 459.95H913.6V474.50H896.3zM775.2 474.50H792.5V489.05H775.2zM783.7 503.60H792.4V518.15H783.7zM801.0 518.15H809.7V532.70H801.0zM853.1 518.15H861.7V532.70H853.1zM931.2 518.15H939.9V532.70H931.2zM1018.0 518.15H1026.7V532.70H1018.0zM844.4 547.25H853.1V561.80H844.4zM861.8 547.25H870.5V561.80H861.8zM966.1 547.25H974.8V561.80H966.1zM940.1 561.80H948.8V576.35H940.1zM861.8 576.35H870.5V590.90H861.8zM887.9 576.35H896.6V590.90H887.9zM948.9 576.35H957.6V590.90H948.9z"/>
<path fill="#0c9cea" d="M710.0 52.55H726.8V67.10H710.0zM785.7 52.55H794.1V67.10H785.7zM693.0 67.10H701.4V81.65H693.0zM768.8 67.10H777.2V81.65H768.8zM785.7 67.10H794.1V81.65H785.7zM768.7 81.65H777.2V96.20H768.7zM726.5 96.20H734.9V110.75H726.5zM709.3 125.30H717.7V139.85H709.3zM920.7 125.30H929.2V139.85H920.7zM717.5 154.40H726.0V168.95H717.5zM759.8 168.95H768.2V183.50H759.8zM802.2 168.95H810.6V183.50H802.2zM691.7 183.50H700.2V198.05H691.7zM691.6 198.05H700.1V212.60H691.6zM742.6 198.05H751.1V212.60H742.6zM844.6 198.05H853.1V212.60H844.6zM717.0 212.60H725.5V227.15H717.0zM751.0 212.60H759.5V227.15H751.0zM716.8 227.15H725.3V241.70H716.8zM776.4 227.15H784.9V241.70H776.4zM836.0 227.15H844.5V241.70H836.0zM801.9 241.70H810.4V256.25H801.9zM878.6 241.70H887.1V256.25H878.6zM963.9 241.70H972.4V256.25H963.9zM733.6 256.25H742.1V270.80H733.6zM844.5 256.25H870.1V270.80H844.5zM887.2 256.25H895.7V270.80H887.2zM921.3 256.25H929.8V270.80H921.3zM938.4 256.25H946.9V270.80H938.4zM707.9 270.80H716.4V285.35H707.9zM887.2 270.80H895.8V285.35H887.2zM690.6 285.35H707.7V299.90H690.6zM818.9 285.35H827.4V299.90H818.9zM844.5 285.35H853.1V299.90H844.5zM870.2 285.35H878.7V299.90H870.2zM930.0 285.35H938.5V299.90H930.0zM955.6 285.35H964.2V299.90H955.6zM844.5 299.90H887.3V314.45H844.5zM938.6 299.90H947.2V314.45H938.6zM998.5 299.90H1007.1V314.45H998.5zM870.2 314.45H895.9V329.00H870.2zM750.2 329.00H758.8V343.55H750.2zM818.7 343.55H827.3V358.10H818.7zM870.2 343.55H887.4V358.10H870.2zM913.1 343.55H938.9V358.10H913.1zM775.8 358.10H784.3V372.65H775.8zM801.5 358.10H810.1V372.65H801.5zM973.3 358.10H990.5V372.65H973.3zM1016.3 358.10H1024.8V372.65H1016.3zM775.7 372.65H784.3V387.20H775.7zM827.3 372.65H835.9V387.20H827.3zM784.2 387.20H792.8V401.75H784.2zM904.7 387.20H913.3V401.75H904.7zM766.9 401.75H775.5V416.30H766.9zM784.1 401.75H801.4V416.30H784.1zM766.8 416.30H784.1V430.85H766.8zM801.3 430.85H809.9V445.40H801.3zM887.6 430.85H904.8V445.40H887.6zM896.3 445.40H904.9V459.95H896.3zM930.8 445.40H939.5V459.95H930.8zM930.9 459.95H939.5V474.50H930.9zM1017.4 459.95H1026.0V474.50H1017.4zM792.5 474.50H801.1V489.05H792.5zM922.4 489.05H931.0V503.60H922.4zM801.0 503.60H809.7V518.15H801.0zM983.2 503.60H991.8V518.15H983.2zM827.0 518.15H844.4V532.70H827.0zM983.3 518.15H992.0V532.70H983.3zM1009.3 518.15H1018.0V532.70H1009.3zM809.6 532.70H818.3V547.25H809.6zM835.7 532.70H853.1V547.25H835.7zM992.1 532.70H1000.8V547.25H992.1zM809.6 547.25H827.0V561.80H809.6zM940.0 547.25H948.7V561.80H940.0zM992.2 547.25H1000.9V561.80H992.2zM922.7 561.80H931.4V576.35H922.7zM957.5 561.80H966.2V576.35H957.5zM974.9 561.80H983.7V576.35H974.9zM870.5 590.90H888.0V605.45H870.5zM931.6 590.90H940.3V605.45H931.6zM966.5 590.90H975.2V605.45H966.5z"/>
<path fill="#02b0cc" d="M693.3 38.00H701.7V52.55H693.3zM794.2 38.00H819.4V52.55H794.2zM693.2 52.55H701.6V67.10H693.2zM794.1 52.55H811.0V67.10H794.1zM920.4 52.55H928.8V67.10H920.4zM945.6 52.55H954.0V67.10H945.6zM979.3 52.55H987.7V67.10H979.3zM726.7 67.10H735.1V81.65H726.7zM861.5 67.10H869.9V81.65H861.5zM886.7 67.10H895.2V81.65H886.7zM962.6 67.10H971.0V81.65H962.6zM987.8 67.10H996.2V81.65H987.8zM701.3 81.65H709.7V96.20H701.3zM718.1 81.65H726.6V96.20H718.1zM827.8 81.65H836.2V96.20H827.8zM895.2 81.65H903.6V96.20H895.2zM988.0 81.65H996.4V96.20H988.0zM734.9 96.20H743.3V110.75H734.9zM853.0 96.20H861.5V110.75H853.0zM971.2 96.20H979.6V110.75H971.2zM996.5 96.20H1005.0V110.75H996.5zM777.0 110.75H785.5V125.30H777.0zM836.2 110.75H844.6V125.30H836.2zM895.3 110.75H903.7V125.30H895.3zM979.8 110.75H988.2V125.30H979.8zM717.7 125.30H734.7V139.85H717.7zM743.1 125.30H751.6V139.85H743.1zM810.8 125.30H819.2V139.85H810.8zM861.5 125.30H870.0V139.85H861.5zM946.1 125.30H954.5V139.85H946.1zM692.2 139.85H700.7V154.40H692.2zM929.2 139.85H937.7V154.40H929.2zM988.5 139.85H997.0V154.40H988.5zM700.5 154.40H709.0V168.95H700.5zM734.4 154.40H742.9V168.95H734.4zM751.4 154.40H759.8V168.95H751.4zM844.6 154.40H853.1V168.95H844.6zM929.3 154.40H937.8V168.95H929.3zM691.9 168.95H708.9V183.50H691.9zM725.8 168.95H734.3V183.50H725.8zM742.8 168.95H751.3V183.50H742.8zM844.6 168.95H853.1V183.50H844.6zM734.2 183.50H751.2V198.05H734.2zM759.7 183.50H768.2V198.05H759.7zM997.4 183.50H1005.9V198.05H997.4zM700.1 198.05H717.1V212.60H700.1zM734.1 198.05H742.6V212.60H734.1zM810.6 198.05H819.1V212.60H810.6zM870.0 198.05H878.5V212.60H870.0zM699.9 212.60H708.4V227.15H699.9zM742.5 212.60H751.0V227.15H742.5zM836.0 212.60H844.5V227.15H836.0zM853.1 212.60H861.6V227.15H853.1zM870.1 212.60H878.6V227.15H870.1zM955.1 212.60H963.6V227.15H955.1zM699.8 227.15H716.8V241.70H699.8zM725.3 227.15H733.8V241.70H725.3zM793.5 227.15H802.0V241.70H793.5zM870.1 227.15H878.6V241.70H870.1zM955.2 227.15H963.7V241.70H955.2zM699.6 241.70H708.2V256.25H699.6zM716.7 241.70H725.2V256.25H716.7zM742.3 241.70H750.8V256.25H742.3zM793.4 241.70H801.9V256.25H793.4zM827.5 241.70H836.0V256.25H827.5zM844.5 241.70H853.1V256.25H844.5zM912.7 241.70H921.2V256.25H912.7zM708.0 256.25H716.6V270.80H708.0zM742.1 256.25H750.7V270.80H742.1zM767.7 256.25H776.3V270.80H767.7zM793.3 256.25H801.9V270.80H793.3zM818.9 256.25H827.5V270.80H818.9zM870.1 256.25H878.6V270.80H870.1zM759.1 270.80H767.7V285.35H759.1zM870.1 270.80H878.7V285.35H870.1zM912.8 270.80H938.5V285.35H912.8zM1006.8 270.80H1015.3V285.35H1006.8zM733.4 285.35H759.0V299.90H733.4zM793.2 285.35H801.8V299.90H793.2zM810.3 285.35H818.9V299.90H810.3zM878.7 285.35H887.2V299.90H878.7zM895.8 285.35H904.3V299.90H895.8zM981.3 285.35H989.8V299.90H981.3zM741.8 299.90H767.5V314.45H741.8zM818.8 299.90H844.5V314.45H818.8zM904.4 299.90H921.5V314.45H904.4zM930.1 299.90H938.6V314.45H930.1zM981.4 299.90H990.0V314.45H981.4zM1015.6 299.90H1024.2V314.45H1015.6zM724.6 314.45H733.2V329.00H724.6zM750.3 314.45H758.8V329.00H750.3zM784.5 314.45H793.1V329.00H784.5zM818.8 314.45H827.4V329.00H818.8zM835.9 314.45H861.6V329.00H835.9zM913.0 314.45H921.6V329.00H913.0zM1007.2 314.45H1015.8V329.00H1007.2zM741.6 329.00H750.2V343.55H741.6zM793.0 329.00H810.2V343.55H793.0zM835.9 329.00H844.5V343.55H835.9zM853.1 329.00H861.6V343.55H853.1zM878.8 329.00H913.1V343.55H878.8zM921.6 329.00H930.2V343.55H921.6zM973.1 329.00H981.7V343.55H973.1zM998.8 329.00H1007.4V343.55H998.8zM750.1 343.55H784.4V358.10H750.1zM793.0 343.55H818.7V358.10H793.0zM844.5 343.55H853.1V358.10H844.5zM896.0 343.55H904.5V358.10H896.0zM947.5 343.55H964.6V358.10H947.5zM990.4 343.55H1024.7V358.10H990.4zM750.0 358.10H758.6V372.65H750.0zM767.2 358.10H775.8V372.65H767.2zM818.7 358.10H827.3V372.65H818.7zM844.5 358.10H861.6V372.65H844.5zM904.6 358.10H921.8V372.65H904.6zM947.5 358.10H956.1V372.65H947.5zM990.5 358.10H999.1V372.65H990.5zM1007.7 358.10H1016.3V372.65H1007.7zM784.3 372.65H792.9V387.20H784.3zM982.0 372.65H990.6V387.20H982.0zM767.0 387.20H784.2V401.75H767.0zM810.0 387.20H818.6V401.75H810.0zM930.5 387.20H939.1V401.75H930.5zM835.8 416.30H844.4V430.85H835.8zM973.8 416.30H982.4V430.85H973.8zM1008.3 416.30H1016.9V430.85H1008.3zM801.2 445.40H809.9V459.95H801.2zM904.9 445.40H913.5V459.95H904.9zM887.7 459.95H896.3V474.50H887.7zM801.1 474.50H809.8V489.05H801.1zM827.1 474.50H835.7V489.05H827.1zM956.9 474.50H965.6V489.05H956.9zM783.7 489.05H792.4V503.60H783.7zM818.4 489.05H835.7V503.60H818.4zM861.7 489.05H870.4V503.60H861.7zM827.0 503.60H844.4V518.15H827.0zM870.4 503.60H879.1V518.15H870.4zM887.8 503.60H896.4V518.15H887.8zM1009.2 503.60H1026.5V518.15H1009.2zM809.7 518.15H818.3V532.70H809.7zM853.1 532.70H861.8V547.25H853.1zM931.3 532.70H966.0V547.25H931.3zM1018.2 532.70H1026.8V547.25H1018.2zM879.2 547.25H905.2V561.80H879.2zM974.8 547.25H983.5V561.80H974.8zM861.8 561.80H879.2V576.35H861.8zM948.8 561.80H957.5V576.35H948.8zM818.2 576.35H826.9V590.90H818.2zM896.6 576.35H914.1V590.90H896.6zM966.3 576.35H975.1V590.90H966.3zM983.8 576.35H992.5V590.90H983.8zM1001.2 576.35H1009.9V590.90H1001.2zM888.0 590.90H896.7V605.45H888.0zM949.0 590.90H966.5V605.45H949.0zM1010.1 590.90H1018.8V605.45H1010.1z"/>
<path fill="#08c48c" d="M844.6 52.55H853.0V67.10H844.6zM844.6 67.10H853.0V81.65H844.6zM920.4 67.10H928.9V81.65H920.4zM945.7 67.10H954.1V81.65H945.7zM777.2 81.65H785.6V96.20H777.2zM794.0 81.65H802.5V96.20H794.0zM1004.8 81.65H1013.2V96.20H1004.8zM709.6 96.20H718.0V110.75H709.6zM701.0 110.75H709.4V125.30H701.0zM912.2 110.75H920.6V125.30H912.2zM929.1 110.75H937.5V125.30H929.1zM785.4 125.30H802.3V139.85H785.4zM709.1 139.85H717.6V154.40H709.1zM734.5 139.85H743.0V154.40H734.5zM793.8 139.85H802.3V154.40H793.8zM692.1 154.40H700.5V168.95H692.1zM768.3 154.40H776.8V168.95H768.3zM734.3 168.95H742.8V183.50H734.3zM776.7 168.95H785.2V183.50H776.7zM836.1 168.95H844.6V183.50H836.1zM700.2 183.50H717.2V198.05H700.2zM768.2 183.50H776.6V198.05H768.2zM785.1 183.50H793.6V198.05H785.1zM844.6 183.50H878.5V198.05H844.6zM937.9 183.50H946.4V198.05H937.9zM717.1 198.05H725.6V212.60H717.1zM751.1 198.05H759.6V212.60H751.1zM768.1 198.05H793.6V212.60H768.1zM819.1 198.05H827.6V212.60H819.1zM691.4 212.60H699.9V227.15H691.4zM776.5 212.60H802.0V227.15H776.5zM810.5 212.60H827.5V227.15H810.5zM895.6 212.60H912.6V227.15H895.6zM733.8 227.15H742.4V241.70H733.8zM819.0 227.15H827.5V241.70H819.0zM853.1 227.15H861.6V241.70H853.1zM904.1 227.15H912.7V241.70H904.1zM929.7 227.15H938.2V241.70H929.7zM776.3 241.70H793.4V256.25H776.3zM836.0 241.70H844.5V256.25H836.0zM853.1 241.70H878.6V256.25H853.1zM904.2 241.70H912.7V256.25H904.2zM938.3 241.70H946.8V256.25H938.3zM750.7 256.25H759.2V270.80H750.7zM776.3 256.25H793.3V270.80H776.3zM801.9 256.25H810.4V270.80H801.9zM836.0 256.25H844.5V270.80H836.0zM878.6 256.25H887.2V270.80H878.6zM946.9 256.25H955.4V270.80H946.9zM750.6 270.80H759.1V285.35H750.6zM776.2 270.80H810.4V285.35H776.2zM818.9 270.80H844.5V285.35H818.9zM947.0 270.80H955.5V285.35H947.0zM759.0 285.35H793.2V299.90H759.0zM827.4 285.35H844.5V299.90H827.4zM1015.5 285.35H1024.0V299.90H1015.5zM716.2 299.90H724.7V314.45H716.2zM784.6 299.90H818.8V314.45H784.6zM921.5 299.90H930.1V314.45H921.5zM955.7 299.90H964.3V314.45H955.7zM758.8 314.45H776.0V329.00H758.8zM793.1 314.45H818.8V329.00H793.1zM895.9 314.45H904.4V329.00H895.9zM938.7 314.45H955.8V329.00H938.7zM981.5 314.45H1007.2V329.00H981.5zM1015.8 314.45H1024.3V329.00H1015.8zM758.8 329.00H775.9V343.55H758.8zM810.2 329.00H818.8V343.55H810.2zM861.6 329.00H870.2V343.55H861.6zM981.7 329.00H990.2V343.55H981.7zM835.9 343.55H844.5V358.10H835.9zM861.6 343.55H870.2V358.10H861.6zM904.5 343.55H913.1V358.10H904.5zM938.9 343.55H947.5V358.10H938.9zM981.8 343.55H990.4V358.10H981.8zM827.3 358.10H835.9V372.65H827.3zM801.5 372.65H827.3V387.20H801.5zM853.1 372.65H870.3V387.20H853.1zM930.4 372.65H939.0V387.20H930.4zM1016.4 372.65H1025.0V387.20H1016.4zM827.2 387.20H835.8V401.75H827.2zM853.1 387.20H861.7V401.75H853.1zM870.3 387.20H878.9V401.75H870.3zM887.5 387.20H896.1V401.75H887.5zM990.8 387.20H999.4V401.75H990.8zM775.5 401.75H784.1V416.30H775.5zM810.0 401.75H818.6V416.30H810.0zM827.2 401.75H844.4V416.30H827.2zM939.2 401.75H947.8V416.30H939.2zM861.7 416.30H878.9V430.85H861.7zM913.4 416.30H930.7V430.85H913.4zM939.3 416.30H947.9V430.85H939.3zM784.0 430.85H801.3V445.40H784.0zM818.5 430.85H827.2V445.40H818.5zM835.8 430.85H844.4V445.40H835.8zM939.4 430.85H948.0V445.40H939.4zM809.9 445.40H818.5V459.95H809.9zM870.3 445.40H887.6V459.95H870.3zM948.1 445.40H956.7V459.95H948.1zM792.5 459.95H818.5V474.50H792.5zM879.0 459.95H887.7V474.50H879.0zM809.8 474.50H827.1V489.05H809.8zM861.7 474.50H870.4V489.05H861.7zM879.0 474.50H887.7V489.05H879.0zM905.0 474.50H948.3V489.05H905.0zM948.4 489.05H957.0V503.60H948.4zM853.1 503.60H861.7V518.15H853.1zM922.4 503.60H931.1V518.15H922.4zM948.5 503.60H957.1V518.15H948.5zM913.8 518.15H922.5V532.70H913.8zM957.2 518.15H974.6V532.70H957.2zM870.4 532.70H879.1V547.25H870.4zM913.9 532.70H922.6V547.25H913.9zM974.7 532.70H983.4V547.25H974.7zM827.0 547.25H835.7V561.80H827.0zM922.6 547.25H931.3V561.80H922.6zM948.7 547.25H966.1V561.80H948.7zM905.3 561.80H914.0V576.35H905.3zM966.2 561.80H974.9V576.35H966.2zM1001.1 561.80H1009.8V576.35H1001.1zM922.8 576.35H940.2V590.90H922.8zM957.6 576.35H966.3V590.90H957.6zM1018.6 576.35H1027.3V590.90H1018.6zM914.1 590.90H922.8V605.45H914.1zM1001.3 590.90H1010.1V605.45H1001.3zM1018.8 590.90H1027.5V605.45H1018.8z"/>
<path fill="#00c878" d="M827.8 38.00H844.6V52.55H827.8zM920.3 38.00H928.7V52.55H920.3zM979.1 38.00H987.6V52.55H979.1zM1012.8 38.00H1021.2V52.55H1012.8zM743.7 52.55H760.5V67.10H743.7zM819.4 52.55H827.8V67.10H819.4zM886.7 52.55H895.1V67.10H886.7zM912.0 52.55H920.4V67.10H912.0zM701.4 67.10H709.9V81.65H701.4zM752.0 67.10H760.4V81.65H752.0zM794.1 67.10H802.5V81.65H794.1zM743.4 81.65H760.3V96.20H743.4zM861.5 81.65H869.9V96.20H861.5zM743.3 96.20H751.8V110.75H743.3zM777.1 96.20H785.5V110.75H777.1zM827.7 96.20H836.2V110.75H827.7zM937.4 96.20H945.9V110.75H937.4zM1013.4 96.20H1021.8V110.75H1013.4zM726.3 110.75H734.8V125.30H726.3zM802.4 110.75H810.8V125.30H802.4zM861.5 110.75H869.9V125.30H861.5zM903.7 110.75H912.2V125.30H903.7zM946.0 110.75H962.9V125.30H946.0zM1013.6 110.75H1022.0V125.30H1013.6zM692.4 125.30H700.8V139.85H692.4zM827.7 125.30H836.1V139.85H827.7zM903.8 125.30H912.2V139.85H903.8zM979.9 125.30H988.4V139.85H979.9zM751.5 139.85H759.9V154.40H751.5zM768.4 139.85H776.9V154.40H768.4zM827.7 139.85H844.6V154.40H827.7zM954.6 139.85H963.1V154.40H954.6zM726.0 154.40H734.4V168.95H726.0zM836.1 154.40H844.6V168.95H836.1zM886.9 154.40H895.4V168.95H886.9zM954.7 154.40H963.2V168.95H954.7zM717.3 168.95H725.8V183.50H717.3zM810.6 168.95H819.1V183.50H810.6zM895.5 168.95H903.9V183.50H895.5zM912.4 168.95H920.9V183.50H912.4zM937.9 168.95H946.3V183.50H937.9zM963.3 168.95H971.8V183.50H963.3zM1005.7 168.95H1014.2V183.50H1005.7zM1005.9 183.50H1014.4V198.05H1005.9zM1006.0 198.05H1014.5V212.60H1006.0zM725.5 212.60H734.0V227.15H725.5zM844.5 212.60H853.1V227.15H844.5zM1014.7 212.60H1023.2V227.15H1014.7zM784.9 227.15H793.5V241.70H784.9zM861.6 227.15H870.1V241.70H861.6zM878.6 227.15H887.1V241.70H878.6zM912.7 227.15H929.7V241.70H912.7zM997.8 227.15H1006.3V241.70H997.8zM708.2 241.70H716.7V256.25H708.2zM810.4 241.70H819.0V256.25H810.4zM972.4 241.70H980.9V256.25H972.4zM827.5 256.25H836.0V270.80H827.5zM972.5 256.25H981.0V270.80H972.5zM1006.6 256.25H1015.1V270.80H1006.6zM955.5 270.80H964.1V285.35H955.5zM972.6 270.80H981.1V285.35H972.6zM810.1 358.10H818.7V372.65H810.1zM861.6 358.10H870.2V372.65H861.6zM887.4 358.10H896.0V372.65H887.4zM939.0 358.10H947.5V372.65H939.0zM878.9 372.65H887.4V387.20H878.9zM913.2 372.65H921.8V387.20H913.2zM990.6 372.65H999.2V387.20H990.6zM801.4 387.20H810.0V401.75H801.4zM878.9 387.20H887.5V401.75H878.9zM861.7 401.75H878.9V416.30H861.7zM887.5 401.75H896.1V416.30H887.5zM965.0 401.75H973.7V416.30H965.0zM1008.4 430.85H1017.1V445.40H1008.4zM835.8 445.40H844.4V459.95H835.8zM948.2 459.95H956.8V474.50H948.2zM844.4 474.50H861.7V489.05H844.4zM974.2 474.50H982.9V489.05H974.2zM801.1 489.05H809.7V503.60H801.1zM853.1 489.05H861.7V503.60H853.1zM879.1 489.05H887.7V503.60H879.1zM905.0 489.05H913.7V503.60H905.0zM957.1 503.60H965.8V518.15H957.1zM948.6 518.15H957.2V532.70H948.6zM992.0 518.15H1000.6V532.70H992.0zM887.8 532.70H905.2V547.25H887.8zM1009.5 532.70H1018.2V547.25H1009.5zM853.1 561.80H861.8V576.35H853.1zM1018.5 561.80H1027.2V576.35H1018.5zM992.6 590.90H1001.3V605.45H992.6z"/>
<path fill="#88c440" d="M735.4 38.00H743.8V52.55H735.4zM1004.4 38.00H1012.8V52.55H1004.4zM827.8 52.55H836.2V67.10H827.8zM802.5 67.10H810.9V81.65H802.5zM895.2 67.10H903.6V81.65H895.2zM785.6 81.65H794.0V96.20H785.6zM810.9 81.65H819.3V96.20H810.9zM853.0 81.65H861.5V96.20H853.0zM903.6 81.65H912.1V96.20H903.6zM996.4 81.65H1004.8V96.20H996.4zM751.8 96.20H760.2V110.75H751.8zM802.4 96.20H810.8V110.75H802.4zM861.5 96.20H869.9V110.75H861.5zM886.8 96.20H895.2V110.75H886.8zM945.9 96.20H954.3V110.75H945.9zM920.6 110.75H929.1V125.30H920.6zM700.8 125.30H709.3V139.85H700.8zM768.5 125.30H776.9V139.85H768.5zM954.5 125.30H963.0V139.85H954.5zM802.3 139.85H810.7V154.40H802.3zM886.9 139.85H895.4V154.40H886.9zM912.3 139.85H920.8V154.40H912.3zM759.8 154.40H768.3V168.95H759.8zM827.6 154.40H836.1V168.95H827.6zM895.4 154.40H903.9V168.95H895.4zM912.4 154.40H920.8V168.95H912.4zM1005.6 154.40H1014.0V168.95H1005.6zM708.9 168.95H717.3V183.50H708.9zM768.2 168.95H776.7V183.50H768.2zM827.6 168.95H836.1V183.50H827.6zM853.1 168.95H861.5V183.50H853.1zM997.2 168.95H1005.7V183.50H997.2zM725.7 183.50H734.2V198.05H725.7zM776.6 183.50H785.1V198.05H776.6zM810.6 183.50H827.6V198.05H810.6zM853.1 198.05H870.0V212.60H853.1zM895.5 198.05H904.0V212.60H895.5zM912.5 198.05H921.0V212.60H912.5zM946.5 198.05H955.0V212.60H946.5zM1014.5 198.05H1023.0V212.60H1014.5zM759.5 212.60H768.0V227.15H759.5zM938.1 212.60H946.6V227.15H938.1zM742.4 227.15H750.9V241.70H742.4zM810.5 227.15H819.0V241.70H810.5zM938.2 227.15H946.7V241.70H938.2zM1014.8 227.15H1023.3V241.70H1014.8zM819.0 241.70H827.5V256.25H819.0zM946.8 241.70H955.3V256.25H946.8zM997.9 241.70H1006.5V256.25H997.9zM912.8 256.25H921.3V270.80H912.8zM964.0 256.25H972.5V270.80H964.0zM998.1 256.25H1006.6V270.80H998.1zM878.7 270.80H887.2V285.35H878.7zM895.8 270.80H904.3V285.35H895.8zM733.3 299.90H741.8V314.45H733.3zM776.0 299.90H784.6V314.45H776.0zM775.9 329.00H784.5V343.55H775.9zM990.2 329.00H998.8V343.55H990.2zM887.4 343.55H896.0V358.10H887.4zM956.1 358.10H964.7V372.65H956.1zM999.1 358.10H1007.7V372.65H999.1zM767.1 372.65H775.7V387.20H767.1zM956.2 372.65H964.8V387.20H956.2zM973.4 372.65H982.0V387.20H973.4zM999.2 372.65H1007.8V387.20H999.2zM835.8 387.20H844.5V401.75H835.8zM964.9 387.20H973.5V401.75H964.9zM818.6 401.75H827.2V416.30H818.6zM930.6 401.75H939.2V416.30H930.6zM990.9 401.75H999.5V416.30H990.9zM801.3 416.30H827.2V430.85H801.3zM896.2 416.30H904.8V430.85H896.2zM844.4 430.85H853.1V445.40H844.4zM879.0 430.85H887.6V445.40H879.0zM982.5 430.85H991.2V445.40H982.5zM1017.1 430.85H1025.7V445.40H1017.1zM844.4 445.40H853.1V459.95H844.4zM982.7 445.40H991.3V459.95H982.7zM999.9 445.40H1008.6V459.95H999.9zM818.5 459.95H827.1V474.50H818.5zM835.8 459.95H853.1V474.50H835.8zM870.4 459.95H879.0V474.50H870.4zM974.1 459.95H982.8V474.50H974.1zM887.7 474.50H896.3V489.05H887.7zM870.4 489.05H879.1V503.60H870.4zM1000.4 489.05H1009.0V503.60H1000.4zM1000.5 503.60H1009.2V518.15H1000.5zM887.8 518.15H896.5V532.70H887.8zM827.0 532.70H835.7V547.25H827.0zM861.8 532.70H870.4V547.25H861.8zM835.7 547.25H844.4V561.80H835.7zM853.1 547.25H861.8V561.80H853.1zM1018.3 547.25H1027.0V561.80H1018.3zM896.6 561.80H905.3V576.35H896.6zM940.2 576.35H948.9V590.90H940.2zM975.2 590.90H983.9V605.45H975.2z"/>
<path fill="#c8bc18" d="M785.8 38.00H794.2V52.55H785.8zM953.9 38.00H962.3V52.55H953.9zM701.6 52.55H710.0V67.10H701.6zM726.8 52.55H743.7V67.10H726.8zM760.5 52.55H768.9V67.10H760.5zM777.3 52.55H785.7V67.10H777.3zM853.0 52.55H869.9V67.10H853.0zM878.3 52.55H886.7V67.10H878.3zM954.0 52.55H962.4V67.10H954.0zM987.7 52.55H996.1V67.10H987.7zM1004.5 52.55H1012.9V67.10H1004.5zM735.1 67.10H743.5V81.65H735.1zM760.4 67.10H768.8V81.65H760.4zM928.9 67.10H937.3V81.65H928.9zM735.0 81.65H743.4V96.20H735.0zM928.9 81.65H937.4V96.20H928.9zM945.8 81.65H979.5V96.20H945.8zM785.5 96.20H794.0V110.75H785.5zM836.2 96.20H844.6V110.75H836.2zM912.1 96.20H920.6V110.75H912.1zM954.3 96.20H962.8V110.75H954.3zM743.2 110.75H760.1V125.30H743.2zM827.7 110.75H836.2V125.30H827.7zM1005.1 110.75H1013.6V125.30H1005.1zM760.0 125.30H768.5V139.85H760.0zM836.1 125.30H844.6V139.85H836.1zM895.3 125.30H903.8V139.85H895.3zM929.2 125.30H937.6V139.85H929.2zM988.4 125.30H996.8V139.85H988.4zM1013.7 125.30H1022.2V139.85H1013.7zM700.7 139.85H709.1V154.40H700.7zM759.9 139.85H768.4V154.40H759.9zM785.3 139.85H793.8V154.40H785.3zM810.7 139.85H819.2V154.40H810.7zM853.1 139.85H861.5V154.40H853.1zM1013.9 139.85H1022.3V154.40H1013.9zM776.8 154.40H785.3V168.95H776.8zM802.2 154.40H819.2V168.95H802.2zM870.0 154.40H878.5V168.95H870.0zM903.9 154.40H912.4V168.95H903.9zM963.2 154.40H971.7V168.95H963.2zM988.8 168.95H997.2V183.50H988.8zM1014.2 168.95H1022.7V183.50H1014.2zM717.2 183.50H725.7V198.05H717.2zM751.2 183.50H759.7V198.05H751.2zM836.1 183.50H844.6V198.05H836.1zM904.0 183.50H912.5V198.05H904.0zM963.4 183.50H980.4V198.05H963.4zM1014.4 183.50H1022.8V198.05H1014.4zM793.6 198.05H802.1V212.60H793.6zM836.1 198.05H844.6V212.60H836.1zM878.5 198.05H887.0V212.60H878.5zM989.0 198.05H997.5V212.60H989.0zM861.6 212.60H870.1V227.15H861.6zM989.2 212.60H997.7V227.15H989.2zM802.0 227.15H810.5V241.70H802.0zM844.5 227.15H853.1V241.70H844.5zM767.8 241.70H776.3V256.25H767.8zM921.2 241.70H938.3V256.25H921.2zM989.4 241.70H997.9V256.25H989.4zM1006.5 241.70H1015.0V256.25H1006.5zM904.2 256.25H912.8V270.80H904.2zM929.8 256.25H938.4V270.80H929.8zM938.5 270.80H947.0V285.35H938.5zM801.8 285.35H810.3V299.90H801.8zM904.3 285.35H930.0V299.90H904.3zM947.1 285.35H955.6V299.90H947.1zM1006.9 285.35H1015.5V299.90H1006.9zM887.3 299.90H895.8V314.45H887.3zM964.3 299.90H981.4V314.45H964.3zM1007.1 299.90H1015.6V314.45H1007.1zM741.7 314.45H750.3V329.00H741.7zM930.1 314.45H938.7V329.00H930.1zM955.8 314.45H964.4V329.00H955.8zM973.0 314.45H981.5V329.00H973.0zM938.8 329.00H947.4V343.55H938.8zM827.3 343.55H835.9V358.10H827.3zM964.6 343.55H973.2V358.10H964.6zM784.3 358.10H792.9V372.65H784.3zM870.2 358.10H887.4V372.65H870.2zM896.0 358.10H904.6V372.65H896.0zM844.5 372.65H853.1V387.20H844.5zM887.4 372.65H896.0V387.20H887.4zM921.8 372.65H930.4V387.20H921.8zM964.8 372.65H973.4V387.20H964.8zM818.6 387.20H827.2V401.75H818.6zM913.3 387.20H921.9V401.75H913.3zM973.5 387.20H982.2V401.75H973.5zM999.5 401.75H1008.1V416.30H999.5zM853.1 416.30H861.7V430.85H853.1zM904.8 416.30H913.4V430.85H904.8zM956.5 416.30H965.2V430.85H956.5zM991.0 416.30H1008.3V430.85H991.0zM870.3 430.85H879.0V445.40H870.3zM973.9 430.85H982.5V445.40H973.9zM999.8 430.85H1008.4V445.40H999.8zM818.5 445.40H835.8V459.95H818.5zM965.4 445.40H974.0V459.95H965.4zM939.5 459.95H948.2V474.50H939.5zM965.5 459.95H974.1V474.50H965.5zM870.4 474.50H879.0V489.05H870.4zM835.7 489.05H844.4V503.60H835.7zM974.4 489.05H983.0V503.60H974.4zM861.7 503.60H870.4V518.15H861.7zM913.8 503.60H922.4V518.15H913.8zM939.8 503.60H948.5V518.15H939.8zM965.8 503.60H974.5V518.15H965.8zM861.7 518.15H870.4V532.70H861.7zM879.1 518.15H887.8V532.70H879.1zM818.3 532.70H827.0V547.25H818.3zM983.4 532.70H992.1V547.25H983.4zM905.2 547.25H913.9V561.80H905.2zM992.4 561.80H1001.1V576.35H992.4zM879.2 576.35H887.9V590.90H879.2zM975.1 576.35H983.8V590.90H975.1zM1009.9 576.35H1018.6V590.90H1009.9zM983.9 590.90H992.6V605.45H983.9z"/>
<path fill="#f8b830" d="M928.7 38.00H937.1V52.55H928.7zM987.6 38.00H1004.4V52.55H987.6zM768.9 52.55H777.3V67.10H768.9zM895.1 52.55H903.5V67.10H895.1zM743.5 67.10H752.0V81.65H743.5zM777.2 67.10H785.7V81.65H777.2zM827.8 67.10H836.2V81.65H827.8zM869.9 67.10H878.3V81.65H869.9zM954.1 67.10H962.6V81.65H954.1zM979.4 67.10H987.8V81.65H979.4zM1004.7 67.10H1013.1V81.65H1004.7zM709.7 81.65H718.1V96.20H709.7zM802.5 81.65H810.9V96.20H802.5zM836.2 81.65H844.6V96.20H836.2zM869.9 81.65H895.2V96.20H869.9zM912.1 81.65H920.5V96.20H912.1zM760.2 96.20H777.1V110.75H760.2zM810.8 96.20H819.3V110.75H810.8zM869.9 96.20H878.4V110.75H869.9zM895.2 96.20H912.1V110.75H895.2zM1005.0 96.20H1013.4V110.75H1005.0zM717.9 110.75H726.3V125.30H717.9zM785.5 110.75H793.9V125.30H785.5zM810.8 110.75H819.3V125.30H810.8zM853.0 110.75H861.5V125.30H853.0zM937.5 110.75H946.0V125.30H937.5zM734.7 125.30H743.1V139.85H734.7zM751.6 125.30H760.0V139.85H751.6zM878.4 125.30H886.9V139.85H878.4zM1005.3 125.30H1013.7V139.85H1005.3zM861.5 139.85H870.0V154.40H861.5zM920.8 139.85H929.2V154.40H920.8zM946.2 139.85H954.6V154.40H946.2zM997.0 139.85H1005.4V154.40H997.0zM709.0 154.40H717.5V168.95H709.0zM742.9 154.40H751.4V168.95H742.9zM861.5 154.40H870.0V168.95H861.5zM997.1 154.40H1005.6V168.95H997.1zM785.2 168.95H802.2V183.50H785.2zM861.5 168.95H870.0V183.50H861.5zM903.9 168.95H912.4V183.50H903.9zM954.8 168.95H963.3V183.50H954.8zM887.0 183.50H895.5V198.05H887.0zM912.5 183.50H921.0V198.05H912.5zM725.6 198.05H734.1V212.60H725.6zM802.1 198.05H810.6V212.60H802.1zM827.6 198.05H836.1V212.60H827.6zM938.0 198.05H946.5V212.60H938.0zM955.0 198.05H980.5V212.60H955.0zM734.0 212.60H742.5V227.15H734.0zM768.0 212.60H776.5V227.15H768.0zM827.5 212.60H836.0V227.15H827.5zM921.1 212.60H938.1V227.15H921.1zM963.6 212.60H972.1V227.15H963.6zM1006.2 212.60H1014.7V227.15H1006.2zM827.5 227.15H836.0V241.70H827.5zM895.6 227.15H904.1V241.70H895.6zM963.7 227.15H980.8V241.70H963.7zM989.3 227.15H997.8V241.70H989.3zM895.7 241.70H904.2V256.25H895.7zM955.3 241.70H963.9V256.25H955.3zM981.1 270.80H989.7V285.35H981.1zM998.2 270.80H1006.8V285.35H998.2zM972.7 285.35H981.3V299.90H972.7zM998.4 285.35H1006.9V299.90H998.4zM818.8 329.00H827.3V343.55H818.8zM1015.9 329.00H1024.5V343.55H1015.9zM835.9 358.10H844.5V372.65H835.9zM870.3 372.65H878.9V387.20H870.3zM939.0 372.65H956.2V387.20H939.0zM861.7 387.20H870.3V401.75H861.7zM939.1 387.20H956.3V401.75H939.1zM982.2 387.20H990.8V401.75H982.2zM1016.6 387.20H1025.2V401.75H1016.6zM853.1 401.75H861.7V416.30H853.1zM878.9 401.75H887.5V416.30H878.9zM896.1 401.75H913.4V416.30H896.1zM922.0 401.75H930.6V416.30H922.0zM973.7 401.75H982.3V416.30H973.7zM1008.1 401.75H1016.7V416.30H1008.1zM784.1 416.30H792.7V430.85H784.1zM827.2 416.30H835.8V430.85H827.2zM844.4 416.30H853.1V430.85H844.4zM878.9 416.30H896.2V430.85H878.9zM809.9 430.85H818.5V445.40H809.9zM827.2 430.85H835.8V445.40H827.2zM853.1 430.85H870.3V445.40H853.1zM930.7 430.85H939.4V445.40H930.7zM948.0 430.85H956.6V445.40H948.0zM965.3 430.85H973.9V445.40H965.3zM792.6 445.40H801.2V459.95H792.6zM853.1 445.40H870.3V459.95H853.1zM974.0 445.40H982.7V459.95H974.0zM1008.6 445.40H1017.2V459.95H1008.6zM827.1 459.95H835.8V474.50H827.1zM853.1 459.95H870.4V474.50H853.1zM991.4 459.95H1008.7V474.50H991.4zM948.3 474.50H956.9V489.05H948.3zM991.6 474.50H1017.5V489.05H991.6zM809.7 489.05H818.4V503.60H809.7zM887.7 489.05H905.0V503.60H887.7zM913.7 489.05H922.4V503.60H913.7zM931.0 489.05H948.4V503.60H931.0zM957.0 489.05H974.4V503.60H957.0zM983.0 489.05H991.7V503.60H983.0zM1009.0 489.05H1026.3V503.60H1009.0zM818.4 503.60H827.0V518.15H818.4zM844.4 503.60H853.1V518.15H844.4zM905.1 503.60H913.8V518.15H905.1zM931.1 503.60H939.8V518.15H931.1zM974.5 503.60H983.2V518.15H974.5zM870.4 518.15H879.1V532.70H870.4zM896.5 518.15H905.1V532.70H896.5zM1000.6 518.15H1009.3V532.70H1000.6zM1000.8 532.70H1009.5V547.25H1000.8zM931.3 547.25H940.0V561.80H931.3zM879.2 561.80H887.9V576.35H879.2zM914.1 576.35H922.8V590.90H914.1zM905.4 590.90H914.1V605.45H905.4zM940.3 590.90H949.0V605.45H940.3z"/>
<path fill="#fcd020" d="M869.9 52.55H878.3V67.10H869.9zM903.5 52.55H912.0V67.10H903.5zM928.8 52.55H945.6V67.10H928.8zM996.1 52.55H1004.5V67.10H996.1zM819.4 67.10H827.8V81.65H819.4zM853.0 67.10H861.5V81.65H853.0zM903.6 67.10H920.4V81.65H903.6zM937.3 67.10H945.7V81.65H937.3zM996.2 67.10H1004.7V81.65H996.2zM1013.1 67.10H1021.5V81.65H1013.1zM760.3 81.65H768.7V96.20H760.3zM844.6 81.65H853.0V96.20H844.6zM718.0 96.20H726.5V110.75H718.0zM878.4 96.20H886.8V110.75H878.4zM929.0 96.20H937.4V110.75H929.0zM979.6 96.20H988.1V110.75H979.6zM692.5 110.75H701.0V125.30H692.5zM760.1 110.75H777.0V125.30H760.1zM819.3 110.75H827.7V125.30H819.3zM971.3 110.75H979.8V125.30H971.3zM996.7 110.75H1005.1V125.30H996.7zM844.6 125.30H853.1V139.85H844.6zM726.1 139.85H734.5V154.40H726.1zM743.0 139.85H751.5V154.40H743.0zM844.6 139.85H853.1V154.40H844.6zM963.1 139.85H971.6V154.40H963.1zM980.0 139.85H988.5V154.40H980.0zM980.1 154.40H988.6V168.95H980.1zM878.5 168.95H887.0V183.50H878.5zM827.6 183.50H836.1V198.05H827.6zM895.5 183.50H904.0V198.05H895.5zM921.0 183.50H929.5V198.05H921.0zM980.4 183.50H988.9V198.05H980.4zM759.6 198.05H768.1V212.60H759.6zM929.5 198.05H938.0V212.60H929.5zM997.5 198.05H1006.0V212.60H997.5zM912.6 212.60H921.1V227.15H912.6zM946.6 212.60H955.1V227.15H946.6zM980.6 212.60H989.2V227.15H980.6zM887.1 241.70H895.7V256.25H887.1zM1015.0 241.70H1023.5V256.25H1015.0zM895.7 256.25H904.2V270.80H895.7zM955.4 256.25H964.0V270.80H955.4zM904.3 270.80H912.8V285.35H904.3zM1015.3 270.80H1023.8V285.35H1015.3zM938.5 285.35H947.1V299.90H938.5zM767.5 299.90H776.0V314.45H767.5zM776.0 314.45H784.5V329.00H776.0zM784.5 329.00H793.0V343.55H784.5zM991.2 430.85H999.8V445.40H991.2zM939.5 445.40H948.1V459.95H939.5zM1008.7 459.95H1017.4V474.50H1008.7zM965.6 474.50H974.2V489.05H965.6zM1017.5 474.50H1026.2V489.05H1017.5zM844.4 489.05H853.1V503.60H844.4zM809.7 503.60H818.4V518.15H809.7zM913.9 547.25H922.6V561.80H913.9zM983.5 547.25H992.2V561.80H983.5zM1000.9 547.25H1018.3V561.80H1000.9zM914.0 561.80H922.7V576.35H914.0zM931.4 561.80H940.1V576.35H931.4zM983.7 561.80H992.4V576.35H983.7zM1009.8 561.80H1018.5V576.35H1009.8z"/>
<path fill="#f8f00a" d="M811.0 52.55H819.4V67.10H811.0zM836.2 52.55H844.6V67.10H836.2zM962.4 52.55H979.3V67.10H962.4zM1012.9 52.55H1021.3V67.10H1012.9zM709.9 67.10H718.3V81.65H709.9zM810.9 67.10H819.4V81.65H810.9zM836.2 67.10H844.6V81.65H836.2zM878.3 67.10H886.7V81.65H878.3zM971.0 67.10H979.4V81.65H971.0zM819.3 81.65H827.8V96.20H819.3zM920.5 81.65H928.9V96.20H920.5zM937.4 81.65H945.8V96.20H937.4zM979.5 81.65H988.0V96.20H979.5zM1013.2 81.65H1021.7V96.20H1013.2zM794.0 96.20H802.4V110.75H794.0zM819.3 96.20H827.7V110.75H819.3zM844.6 96.20H853.0V110.75H844.6zM920.6 96.20H929.0V110.75H920.6zM962.8 96.20H971.2V110.75H962.8zM988.1 96.20H996.5V110.75H988.1zM793.9 110.75H802.4V125.30H793.9zM844.6 110.75H853.0V125.30H844.6zM869.9 110.75H895.3V125.30H869.9zM962.9 110.75H971.3V125.30H962.9zM988.2 110.75H996.7V125.30H988.2zM776.9 125.30H785.4V139.85H776.9zM802.3 125.30H810.8V139.85H802.3zM819.2 125.30H827.7V139.85H819.2zM853.1 125.30H861.5V139.85H853.1zM870.0 125.30H878.4V139.85H870.0zM886.9 125.30H895.3V139.85H886.9zM912.2 125.30H920.7V139.85H912.2zM937.6 125.30H946.1V139.85H937.6zM963.0 125.30H979.9V139.85H963.0zM996.8 125.30H1005.3V139.85H996.8zM776.9 139.85H785.3V154.40H776.9zM819.2 139.85H827.7V154.40H819.2zM870.0 139.85H886.9V154.40H870.0zM895.4 139.85H903.8V154.40H895.4zM937.7 139.85H946.2V154.40H937.7zM971.6 139.85H980.0V154.40H971.6zM1005.4 139.85H1013.9V154.40H1005.4zM785.3 154.40H793.7V168.95H785.3zM819.2 154.40H827.6V168.95H819.2zM853.1 154.40H861.5V168.95H853.1zM878.5 154.40H886.9V168.95H878.5zM920.8 154.40H929.3V168.95H920.8zM937.8 154.40H954.7V168.95H937.8zM971.7 154.40H980.1V168.95H971.7zM1014.0 154.40H1022.5V168.95H1014.0zM751.3 168.95H759.8V183.50H751.3zM819.1 168.95H827.6V183.50H819.1zM870.0 168.95H878.5V183.50H870.0zM887.0 168.95H895.5V183.50H887.0zM920.9 168.95H937.9V183.50H920.9zM946.3 168.95H954.8V183.50H946.3zM971.8 168.95H988.8V183.50H971.8zM793.6 183.50H802.1V198.05H793.6zM878.5 183.50H887.0V198.05H878.5zM929.5 183.50H937.9V198.05H929.5zM946.4 183.50H963.4V198.05H946.4zM988.9 183.50H997.4V198.05H988.9zM887.0 198.05H895.5V212.60H887.0zM904.0 198.05H912.5V212.60H904.0zM921.0 198.05H929.5V212.60H921.0zM980.5 198.05H989.0V212.60H980.5zM802.0 212.60H810.5V227.15H802.0zM878.6 212.60H895.6V227.15H878.6zM972.1 212.60H980.6V227.15H972.1zM997.7 212.60H1006.2V227.15H997.7zM767.9 227.15H776.4V241.70H767.9zM887.1 227.15H895.6V241.70H887.1zM946.7 227.15H955.2V241.70H946.7zM980.8 227.15H989.3V241.70H980.8zM1006.3 227.15H1014.8V241.70H1006.3zM980.9 241.70H989.4V256.25H980.9zM981.0 256.25H998.1V270.80H981.0zM1015.1 256.25H1023.7V270.80H1015.1zM964.1 270.80H972.6V285.35H964.1zM989.7 270.80H998.2V285.35H989.7zM887.2 285.35H895.8V299.90H887.2zM964.2 285.35H972.7V299.90H964.2zM989.8 285.35H998.4V299.90H989.8zM947.2 299.90H955.7V314.45H947.2zM990.0 299.90H998.5V314.45H990.0zM955.9 329.00H964.5V343.55H955.9zM784.4 343.55H793.0V358.10H784.4zM792.9 358.10H801.5V372.65H792.9zM964.7 358.10H973.3V372.65H964.7zM792.9 372.65H801.5V387.20H792.9zM835.9 372.65H844.5V387.20H835.9zM896.0 372.65H904.6V387.20H896.0zM1007.8 372.65H1016.4V387.20H1007.8zM792.8 387.20H801.4V401.75H792.8zM844.5 387.20H853.1V401.75H844.5zM896.1 387.20H904.7V401.75H896.1zM921.9 387.20H930.5V401.75H921.9zM956.3 387.20H964.9V401.75H956.3zM999.4 387.20H1016.6V401.75H999.4zM801.4 401.75H810.0V416.30H801.4zM844.4 401.75H853.1V416.30H844.4zM947.8 401.75H965.0V416.30H947.8zM982.3 401.75H990.9V416.30H982.3zM1016.7 401.75H1025.3V416.30H1016.7zM930.7 416.30H939.3V430.85H930.7zM947.9 416.30H956.5V430.85H947.9zM965.2 416.30H973.8V430.85H965.2zM982.4 416.30H991.0V430.85H982.4zM1016.9 416.30H1025.5V430.85H1016.9zM956.6 430.85H965.3V445.40H956.6zM956.7 445.40H965.4V459.95H956.7zM991.3 445.40H999.9V459.95H991.3zM956.8 459.95H965.5V474.50H956.8zM982.8 459.95H991.4V474.50H982.8zM835.7 474.50H844.4V489.05H835.7zM982.9 474.50H991.6V489.05H982.9zM991.7 489.05H1000.4V503.60H991.7zM879.1 503.60H887.8V518.15H879.1zM896.4 503.60H905.1V518.15H896.4zM991.8 503.60H1000.5V518.15H991.8zM818.3 518.15H827.0V532.70H818.3zM844.4 518.15H853.1V532.70H844.4zM905.1 518.15H913.8V532.70H905.1zM922.5 518.15H931.2V532.70H922.5zM939.9 518.15H948.6V532.70H939.9zM974.6 518.15H983.3V532.70H974.6zM905.2 532.70H913.9V547.25H905.2zM922.6 532.70H931.3V547.25H922.6zM870.5 547.25H879.2V561.80H870.5zM992.5 576.35H1001.2V590.90H992.5zM922.8 590.90H931.6V605.45H922.8zM984.0 605.45H992.8V620.00H984.0z"/>
</g>
<line x1="776.2" y1="38" x2="776.2" y2="620" stroke="#d2c8d4" stroke-width="1.1" stroke-dasharray="1.4 3.4" opacity="0.7"/>
<line x1="861.6" y1="38" x2="861.6" y2="620" stroke="#d2c8d4" stroke-width="1.1" stroke-dasharray="1.4 3.4" opacity="0.7"/>
<line x1="947.2" y1="38" x2="947.2" y2="620" stroke="#d2c8d4" stroke-width="1.1" stroke-dasharray="1.4 3.4" opacity="0.7"/>
<line x1="691.8130927835052" y1="184.6" x2="1031.26323024055" y2="184.6" stroke="#d2c8d4" stroke-width="1.1" stroke-dasharray="1.4 3.4" opacity="0.7"/>
<line x1="690.244587628866" y1="329.5" x2="1033.0060137457044" y2="329.5" stroke="#d2c8d4" stroke-width="1.1" stroke-dasharray="1.4 3.4" opacity="0.7"/>
<line x1="688.680412371134" y1="474.0" x2="1034.7439862542956" y2="474.0" stroke="#d2c8d4" stroke-width="1.1" stroke-dasharray="1.4 3.4" opacity="0.7"/>
<polyline points="840.16,268.18 858.86,268.18 861.59,270.91 862.37,275.97 876.40,276.36 877.18,311.43 883.80,312.99 883.80,325.46 877.18,326.24 876.79,334.81 883.41,335.98 883.80,345.72 882.24,351.56 885.36,353.51 885.36,370.65 869.77,373.77 861.98,373.38 851.07,372.99 846.40,368.31 844.84,362.08 840.94,362.47 837.82,360.91 826.53,360.13 826.14,353.12 837.82,351.95 837.82,334.81 835.49,332.86 836.65,329.35 821.85,327.01 821.46,306.36 812.89,304.81 812.11,302.47 814.84,298.18 808.99,289.61 815.23,296.62 817.95,285.71 820.68,279.48 824.58,274.42 828.08,272.47 839.38,272.08 840.16,268.18" fill="none" stroke="#000" stroke-width="2.6" stroke-linejoin="round" stroke-linecap="round"/>
<polygon points="693.40,37.60 1029.50,37.80 1036.50,620.00 687.10,619.60" fill="none" stroke="#141414" stroke-width="2.8"/>
<rect x="776.5" y="184.6" width="170.6" height="289.3" fill="none" stroke="#111" stroke-width="2.4" stroke-dasharray="7.5 12.5"/>
<text transform="translate(862.20,28.00) scale(1.0,1.13)" font-size="22.6" text-anchor="middle" font-weight="bold" fill="#111" >2021</text>
<text transform="translate(684.60,46.60) scale(1.0,1.09)" font-size="21" text-anchor="end" font-weight="normal" fill="#383838" >52.0° N</text>
<text transform="translate(682.58,191.80) scale(1.0,1.09)" font-size="21" text-anchor="end" font-weight="normal" fill="#383838" >51.5° N</text>
<text transform="translate(680.59,337.30) scale(1.0,1.09)" font-size="21" text-anchor="end" font-weight="normal" fill="#383838" >51.0° N</text>
<text transform="translate(678.60,482.50) scale(1.0,1.09)" font-size="21" text-anchor="end" font-weight="normal" fill="#383838" >50.5° N</text>
<text transform="translate(676.60,628.50) scale(1.0,1.09)" font-size="21" text-anchor="end" font-weight="normal" fill="#383838" >50.0° N</text>
<text transform="translate(691.80,646.90) scale(1.0,1.09)" font-size="21" text-anchor="middle" font-weight="normal" fill="#383838" >115.0° W</text>
<text transform="translate(865.60,646.90) scale(1.0,1.09)" font-size="21" text-anchor="middle" font-weight="normal" fill="#383838" >114.0° W</text>
<text transform="translate(1038.60,646.90) scale(1.0,1.09)" font-size="21" text-anchor="middle" font-weight="normal" fill="#383838" >113.0° W</text>
<defs><linearGradient id="cbb" x1="0" y1="0" x2="0" y2="1"><stop offset="0.000" stop-color="#f8f800"/><stop offset="0.050" stop-color="#f8e810"/><stop offset="0.100" stop-color="#fcd020"/><stop offset="0.150" stop-color="#fbb838"/><stop offset="0.200" stop-color="#f0b020"/><stop offset="0.250" stop-color="#c0bc10"/><stop offset="0.290" stop-color="#90c43a"/><stop offset="0.335" stop-color="#40c850"/><stop offset="0.355" stop-color="#05c870"/><stop offset="0.440" stop-color="#00c098"/><stop offset="0.540" stop-color="#00b4c0"/><stop offset="0.620" stop-color="#06a6d4"/><stop offset="0.700" stop-color="#0a94ec"/><stop offset="0.780" stop-color="#1480fa"/><stop offset="0.830" stop-color="#3a5cf6"/><stop offset="0.880" stop-color="#4848f0"/><stop offset="0.940" stop-color="#4434c8"/><stop offset="1.000" stop-color="#3e26a8"/></linearGradient></defs>
<rect x="1053.6" y="38.5" width="23.400000000000034" height="582.3" fill="url(#cbb)" stroke="#444" stroke-width="1"/>
<line x1="1073.5" x2="1077.0" y1="620.8" y2="620.8" stroke="#333" stroke-width="1"/>
<text transform="translate(1086.40,630.10) scale(1.0,1.13)" font-size="20.5" text-anchor="start" font-weight="normal" fill="#383838" >0</text>
<line x1="1073.5" x2="1077.0" y1="504.34" y2="504.34" stroke="#333" stroke-width="1"/>
<text transform="translate(1086.40,513.24) scale(1.0,1.13)" font-size="20.5" text-anchor="start" font-weight="normal" fill="#383838" >5</text>
<line x1="1073.5" x2="1077.0" y1="387.88" y2="387.88" stroke="#333" stroke-width="1"/>
<text transform="translate(1086.40,396.38) scale(1.0,1.13)" font-size="20.5" text-anchor="start" font-weight="normal" fill="#383838" >10</text>
<line x1="1073.5" x2="1077.0" y1="271.41999999999996" y2="271.41999999999996" stroke="#333" stroke-width="1"/>
<text transform="translate(1086.40,279.52) scale(1.0,1.13)" font-size="20.5" text-anchor="start" font-weight="normal" fill="#383838" >15</text>
<line x1="1073.5" x2="1077.0" y1="154.95999999999998" y2="154.95999999999998" stroke="#333" stroke-width="1"/>
<text transform="translate(1086.40,162.66) scale(1.0,1.13)" font-size="20.5" text-anchor="start" font-weight="normal" fill="#383838" >20</text>
<line x1="1073.5" x2="1077.0" y1="38.5" y2="38.5" stroke="#333" stroke-width="1"/>
<text transform="translate(1086.40,45.80) scale(1.0,1.13)" font-size="20.5" text-anchor="start" font-weight="normal" fill="#383838" >25</text>
<text transform="translate(1136.50,326.50) rotate(-90) scale(1.056,1.0)" font-size="20.5" text-anchor="middle" font-weight="normal" fill="#383838" >Number of valid observations</text>
<text transform="translate(714.00,78.60)" font-size="34.5" text-anchor="start" font-weight="bold" fill="#000" >(b)</text>
<polygon points="124.20,719.60 460.30,719.80 467.30,1302.00 117.90,1301.60" fill="#f5f5fb"/>
<g shape-rendering="crispEdges">
<path fill="#4838d0" d="M121.9 923.70H130.4V938.25H121.9zM155.8 952.80H164.3V967.35H155.8zM138.5 967.35H155.6V981.90H138.5zM180.7 1054.65H189.3V1069.20H180.7zM163.4 1069.20H180.6V1083.75H163.4zM189.2 1069.20H197.8V1083.75H189.2zM189.1 1083.75H197.7V1098.30H189.1zM189.0 1098.30H197.6V1112.85H189.0zM180.3 1112.85H197.5V1127.40H180.3zM197.5 1127.40H206.1V1141.95H197.5zM197.4 1141.95H206.0V1156.50H197.4zM231.7 1214.70H240.4V1229.25H231.7zM266.5 1243.80H275.2V1258.35H266.5zM240.3 1258.35H249.0V1272.90H240.3zM266.4 1258.35H275.1V1272.90H266.4zM283.9 1258.35H292.6V1272.90H283.9zM249.0 1272.90H257.7V1287.45H249.0zM292.6 1272.90H301.3V1287.45H292.6z"/>
<path fill="#4a55f0" d="M225.0 720.00H233.4V734.55H225.0zM250.2 720.00H258.6V734.55H250.2zM123.6 763.65H132.1V778.20H123.6zM130.4 923.70H139.0V938.25H130.4zM156.0 923.70H164.5V938.25H156.0zM147.4 938.25H155.9V952.80H147.4zM147.2 952.80H155.8V967.35H147.2zM121.4 967.35H130.0V981.90H121.4zM155.6 967.35H164.2V981.90H155.6zM138.4 981.90H147.0V996.45H138.4zM155.4 996.45H164.0V1011.00H155.4zM189.4 1040.10H198.0V1054.65H189.4zM214.7 1127.40H223.4V1141.95H214.7zM206.0 1141.95H214.7V1156.50H206.0zM205.9 1171.05H214.5V1185.60H205.9zM309.9 1214.70H318.6V1229.25H309.9zM249.0 1243.80H257.7V1258.35H249.0zM292.6 1258.35H301.3V1272.90H292.6zM283.9 1272.90H292.6V1287.45H283.9zM318.8 1272.90H327.5V1287.45H318.8z"/>
<path fill="#1e7efb" d="M123.5 778.20H140.4V792.75H123.5zM190.7 821.85H199.2V836.40H190.7zM165.1 850.95H173.6V865.50H165.1zM207.4 880.05H215.9V894.60H207.4zM139.2 894.60H147.8V909.15H139.2zM147.6 909.15H156.1V923.70H147.6zM173.1 923.70H181.6V938.25H173.1zM130.3 938.25H147.4V952.80H130.3zM164.4 938.25H172.9V952.80H164.4zM130.1 952.80H147.2V967.35H130.1zM164.3 952.80H172.8V967.35H164.3zM130.0 967.35H138.5V981.90H130.0zM146.8 996.45H155.4V1011.00H146.8zM164.0 996.45H172.5V1011.00H164.0zM181.1 996.45H189.6V1011.00H181.1zM258.1 1011.00H266.7V1025.55H258.1zM438.2 1011.00H446.7V1025.55H438.2zM172.3 1025.55H180.9V1040.10H172.3zM189.5 1025.55H198.0V1040.10H189.5zM172.2 1040.10H180.8V1054.65H172.2zM309.7 1054.65H318.2V1069.20H309.7zM197.8 1069.20H206.4V1083.75H197.8zM197.6 1098.30H206.3V1112.85H197.6zM197.5 1112.85H206.2V1127.40H197.5zM214.8 1112.85H223.4V1127.40H214.8zM206.0 1156.50H214.6V1171.05H206.0zM292.5 1171.05H301.2V1185.60H292.5zM214.5 1185.60H223.2V1200.15H214.5zM231.8 1200.15H240.5V1214.70H231.8zM318.6 1214.70H327.3V1229.25H318.6zM388.1 1214.70H396.8V1229.25H388.1zM240.4 1229.25H249.1V1243.80H240.4zM318.7 1229.25H327.4V1243.80H318.7zM240.3 1243.80H249.0V1258.35H240.3zM275.2 1243.80H283.9V1258.35H275.2zM249.0 1258.35H257.7V1272.90H249.0zM318.7 1258.35H327.4V1272.90H318.7zM327.5 1272.90H336.2V1287.45H327.5z"/>
<path fill="#0c9cea" d="M241.8 720.00H250.2V734.55H241.8zM140.8 734.55H157.6V749.10H140.8zM216.5 734.55H224.9V749.10H216.5zM309.1 734.55H317.5V749.10H309.1zM334.3 734.55H342.8V749.10H334.3zM443.7 734.55H452.1V749.10H443.7zM149.1 749.10H157.5V763.65H149.1zM157.3 778.20H165.7V792.75H157.3zM258.5 778.20H267.0V792.75H258.5zM131.8 792.75H140.2V807.30H131.8zM157.1 792.75H165.6V807.30H157.1zM174.0 792.75H182.5V807.30H174.0zM123.2 807.30H131.6V821.85H123.2zM157.0 807.30H165.5V821.85H157.0zM156.9 821.85H165.3V836.40H156.9zM216.1 821.85H224.6V836.40H216.1zM156.8 836.40H165.2V850.95H156.8zM173.7 836.40H182.2V850.95H173.7zM216.1 836.40H224.5V850.95H216.1zM266.9 836.40H275.4V850.95H266.9zM199.0 850.95H207.5V865.50H199.0zM224.5 850.95H233.0V865.50H224.5zM131.0 865.50H139.5V880.05H131.0zM334.8 865.50H343.3V880.05H334.8zM173.3 894.60H181.8V909.15H173.3zM249.8 894.60H258.3V909.15H249.8zM258.3 923.70H266.8V938.25H258.3zM360.6 923.70H369.1V938.25H360.6zM300.9 938.25H309.4V952.80H300.9zM172.8 952.80H181.4V967.35H172.8zM189.9 952.80H198.5V967.35H189.9zM300.9 952.80H309.5V967.35H300.9zM172.7 967.35H181.3V981.90H172.7zM215.5 967.35H224.0V981.90H215.5zM292.4 967.35H301.0V981.90H292.4zM343.7 981.90H360.9V996.45H343.7zM446.4 981.90H455.0V996.45H446.4zM206.8 996.45H215.3V1011.00H206.8zM335.2 996.45H360.9V1011.00H335.2zM318.1 1011.00H326.7V1025.55H318.1zM335.3 1011.00H352.4V1025.55H335.3zM361.0 1011.00H369.6V1025.55H361.0zM412.5 1011.00H429.6V1025.55H412.5zM258.1 1025.55H266.7V1040.10H258.1zM326.8 1025.55H335.3V1040.10H326.8zM343.9 1025.55H352.5V1040.10H343.9zM361.1 1025.55H369.7V1040.10H361.1zM395.4 1025.55H404.0V1040.10H395.4zM412.6 1025.55H446.9V1040.10H412.6zM352.6 1040.10H369.8V1054.65H352.6zM421.3 1040.10H455.6V1054.65H421.3zM189.3 1054.65H197.9V1069.20H189.3zM206.3 1098.30H214.9V1112.85H206.3zM344.3 1112.85H352.9V1127.40H344.3zM309.8 1127.40H318.4V1141.95H309.8zM327.1 1127.40H335.7V1141.95H327.1zM344.3 1127.40H353.0V1141.95H344.3zM370.3 1127.40H378.9V1141.95H370.3zM448.0 1127.40H456.6V1141.95H448.0zM232.0 1141.95H240.6V1156.50H232.0zM335.7 1141.95H344.4V1156.50H335.7zM223.2 1185.60H231.8V1200.15H223.2zM231.7 1229.25H240.4V1243.80H231.7zM257.7 1243.80H266.5V1258.35H257.7zM301.3 1258.35H310.0V1272.90H301.3zM353.6 1258.35H362.3V1272.90H353.6zM301.3 1272.90H310.0V1287.45H301.3z"/>
<path fill="#02b0cc" d="M124.1 720.00H132.5V734.55H124.1zM166.2 720.00H174.6V734.55H166.2zM132.4 734.55H140.8V749.10H132.4zM157.6 734.55H166.0V749.10H157.6zM174.5 734.55H191.3V749.10H174.5zM224.9 734.55H233.4V749.10H224.9zM283.8 734.55H292.3V749.10H283.8zM123.8 749.10H132.2V763.65H123.8zM157.5 749.10H174.3V763.65H157.5zM208.0 749.10H241.7V763.65H208.0zM283.8 749.10H292.3V763.65H283.8zM148.9 763.65H157.4V778.20H148.9zM250.1 763.65H258.6V778.20H250.1zM165.7 778.20H174.1V792.75H165.7zM418.9 778.20H427.3V792.75H418.9zM435.8 778.20H444.2V792.75H435.8zM207.8 792.75H216.3V807.30H207.8zM250.1 792.75H258.5V807.30H250.1zM131.6 807.30H140.1V821.85H131.6zM165.5 807.30H182.4V821.85H165.5zM343.0 807.30H351.5V821.85H343.0zM123.0 821.85H139.9V836.40H123.0zM360.0 821.85H368.5V836.40H360.0zM148.3 836.40H156.8V850.95H148.3zM182.2 836.40H190.6V850.95H182.2zM360.1 836.40H368.6V850.95H360.1zM419.4 836.40H427.9V850.95H419.4zM122.7 850.95H131.2V865.50H122.7zM190.6 850.95H199.0V865.50H190.6zM207.5 850.95H216.0V865.50H207.5zM300.8 850.95H309.3V865.50H300.8zM334.7 850.95H343.2V865.50H334.7zM368.7 850.95H377.1V865.50H368.7zM419.6 850.95H428.0V865.50H419.6zM148.0 865.50H156.5V880.05H148.0zM165.0 865.50H173.5V880.05H165.0zM199.0 865.50H215.9V880.05H199.0zM224.4 865.50H241.4V880.05H224.4zM402.7 865.50H411.2V880.05H402.7zM122.4 880.05H130.9V894.60H122.4zM139.4 880.05H156.4V894.60H139.4zM164.9 880.05H181.9V894.60H164.9zM190.4 880.05H198.9V894.60H190.4zM232.9 880.05H241.4V894.60H232.9zM122.2 894.60H130.7V909.15H122.2zM147.8 894.60H164.8V909.15H147.8zM207.3 894.60H224.3V909.15H207.3zM445.5 894.60H454.0V909.15H445.5zM122.1 909.15H139.1V923.70H122.1zM156.1 909.15H164.6V923.70H156.1zM173.2 909.15H190.2V923.70H173.2zM292.4 909.15H300.9V923.70H292.4zM139.0 923.70H156.0V938.25H139.0zM164.5 923.70H173.1V938.25H164.5zM181.6 923.70H190.1V938.25H181.6zM275.3 923.70H283.9V938.25H275.3zM292.4 923.70H300.9V938.25H292.4zM326.5 923.70H335.0V938.25H326.5zM155.9 938.25H164.4V952.80H155.9zM172.9 938.25H190.0V952.80H172.9zM207.1 938.25H215.6V952.80H207.1zM266.8 938.25H275.3V952.80H266.8zM283.9 938.25H300.9V952.80H283.9zM343.6 938.25H352.1V952.80H343.6zM369.2 938.25H377.7V952.80H369.2zM207.0 952.80H215.5V967.35H207.0zM241.2 952.80H249.7V967.35H241.2zM266.8 952.80H300.9V967.35H266.8zM309.5 952.80H318.0V967.35H309.5zM352.2 952.80H360.7V967.35H352.2zM394.9 952.80H403.4V967.35H394.9zM189.8 967.35H198.4V981.90H189.8zM241.1 967.35H258.2V981.90H241.1zM266.8 967.35H292.4V981.90H266.8zM301.0 967.35H309.5V981.90H301.0zM352.2 967.35H360.8V981.90H352.2zM155.5 981.90H164.1V996.45H155.5zM249.6 981.90H258.2V996.45H249.6zM275.3 981.90H283.9V996.45H275.3zM292.4 981.90H309.5V996.45H292.4zM326.6 981.90H335.2V996.45H326.6zM403.6 981.90H412.2V996.45H403.6zM223.9 996.45H232.5V1011.00H223.9zM258.2 996.45H266.7V1011.00H258.2zM275.3 996.45H283.9V1011.00H275.3zM301.0 996.45H326.7V1011.00H301.0zM386.6 996.45H395.2V1011.00H386.6zM403.8 996.45H412.3V1011.00H403.8zM429.5 996.45H438.0V1011.00H429.5zM172.4 1011.00H198.1V1025.55H172.4zM223.8 1011.00H232.4V1025.55H223.8zM249.6 1011.00H258.1V1025.55H249.6zM283.9 1011.00H292.4V1025.55H283.9zM352.5 1025.55H361.1V1040.10H352.5zM446.9 1025.55H455.5V1040.10H446.9zM180.8 1040.10H189.4V1054.65H180.8zM223.7 1040.10H232.3V1054.65H223.7zM404.1 1040.10H412.7V1054.65H404.1zM197.9 1054.65H206.5V1069.20H197.9zM232.3 1054.65H240.9V1069.20H232.3zM249.5 1054.65H258.1V1069.20H249.5zM206.4 1069.20H215.0V1083.75H206.4zM413.0 1069.20H421.6V1083.75H413.0zM197.7 1083.75H214.9V1098.30H197.7zM258.0 1083.75H266.6V1098.30H258.0zM214.9 1098.30H223.5V1112.85H214.9zM292.5 1098.30H301.1V1112.85H292.5zM223.4 1112.85H232.1V1127.40H223.4zM327.0 1112.85H344.3V1127.40H327.0zM223.4 1127.40H232.0V1141.95H223.4zM240.7 1127.40H249.3V1141.95H240.7zM335.7 1127.40H344.3V1141.95H335.7zM309.8 1141.95H327.1V1156.50H309.8zM344.4 1141.95H353.0V1156.50H344.4zM413.6 1141.95H422.2V1156.50H413.6zM214.6 1156.50H223.3V1171.05H214.6zM231.9 1156.50H240.6V1171.05H231.9zM283.9 1156.50H292.5V1171.05H283.9zM335.8 1156.50H344.5V1171.05H335.8zM353.1 1156.50H361.8V1171.05H353.1zM396.4 1156.50H405.0V1171.05H396.4zM439.7 1156.50H448.3V1171.05H439.7zM223.2 1171.05H231.9V1185.60H223.2zM240.5 1171.05H249.2V1185.60H240.5zM439.8 1171.05H448.5V1185.60H439.8zM266.5 1185.60H275.2V1200.15H266.5zM292.5 1185.60H301.2V1200.15H292.5zM448.6 1185.60H457.3V1200.15H448.6zM249.1 1200.15H266.5V1214.70H249.1zM448.8 1200.15H457.5V1214.70H448.8zM266.5 1214.70H283.9V1229.25H266.5zM370.8 1214.70H379.4V1229.25H370.8zM414.2 1214.70H422.9V1229.25H414.2zM449.0 1214.70H457.6V1229.25H449.0zM249.1 1229.25H257.8V1243.80H249.1zM310.0 1229.25H318.7V1243.80H310.0zM379.5 1229.25H405.6V1243.80H379.5zM370.9 1243.80H405.7V1258.35H370.9zM388.4 1258.35H405.9V1272.90H388.4zM379.8 1272.90H388.5V1287.45H379.8zM397.3 1272.90H406.0V1287.45H397.3z"/>
<path fill="#08c48c" d="M233.4 720.00H241.8V734.55H233.4zM258.6 720.00H275.4V734.55H258.6zM426.8 720.00H435.2V734.55H426.8zM208.1 734.55H216.5V749.10H208.1zM233.4 734.55H250.2V749.10H233.4zM258.6 734.55H267.0V749.10H258.6zM275.4 734.55H283.8V749.10H275.4zM401.7 734.55H418.5V749.10H401.7zM426.9 734.55H435.3V749.10H426.9zM140.7 749.10H149.1V763.65H140.7zM182.8 749.10H191.2V763.65H182.8zM342.8 749.10H359.7V763.65H342.8zM376.5 749.10H384.9V763.65H376.5zM410.2 749.10H418.6V763.65H410.2zM427.0 749.10H435.5V763.65H427.0zM182.7 763.65H191.1V778.20H182.7zM199.5 763.65H208.0V778.20H199.5zM233.3 763.65H241.7V778.20H233.3zM283.8 763.65H292.3V778.20H283.8zM351.3 763.65H359.7V778.20H351.3zM385.0 763.65H393.5V778.20H385.0zM418.8 763.65H444.0V778.20H418.8zM148.8 778.20H157.3V792.75H148.8zM174.1 778.20H182.6V792.75H174.1zM191.0 778.20H216.3V792.75H191.0zM283.8 778.20H292.3V792.75H283.8zM309.2 778.20H317.6V792.75H309.2zM123.3 792.75H131.8V807.30H123.3zM165.6 792.75H174.0V807.30H165.6zM317.6 792.75H326.1V807.30H317.6zM376.8 792.75H385.2V807.30H376.8zM435.9 792.75H444.4V807.30H435.9zM140.1 807.30H148.5V821.85H140.1zM199.3 807.30H224.7V821.85H199.3zM233.1 807.30H241.6V821.85H233.1zM258.5 807.30H275.4V821.85H258.5zM317.7 807.30H334.6V821.85H317.7zM376.9 807.30H393.8V821.85H376.9zM410.7 807.30H419.2V821.85H410.7zM139.9 821.85H156.9V836.40H139.9zM173.8 821.85H190.7V836.40H173.8zM224.6 821.85H233.1V836.40H224.6zM258.5 821.85H266.9V836.40H258.5zM300.8 821.85H309.2V836.40H300.8zM334.6 821.85H343.1V836.40H334.6zM410.8 821.85H419.3V836.40H410.8zM444.7 821.85H453.1V836.40H444.7zM122.9 836.40H148.3V850.95H122.9zM165.2 836.40H173.7V850.95H165.2zM190.6 836.40H216.1V850.95H190.6zM224.5 836.40H233.0V850.95H224.5zM275.4 836.40H283.9V850.95H275.4zM334.7 836.40H343.2V850.95H334.7zM410.9 836.40H419.4V850.95H410.9zM131.2 850.95H156.6V865.50H131.2zM173.6 850.95H190.6V865.50H173.6zM233.0 850.95H241.4V865.50H233.0zM249.9 850.95H258.4V865.50H249.9zM266.9 850.95H275.4V865.50H266.9zM283.9 850.95H300.8V865.50H283.9zM122.5 865.50H131.0V880.05H122.5zM139.5 865.50H148.0V880.05H139.5zM173.5 865.50H199.0V880.05H173.5zM241.4 865.50H249.9V880.05H241.4zM266.9 865.50H275.4V880.05H266.9zM283.9 865.50H300.8V880.05H283.9zM360.3 865.50H377.2V880.05H360.3zM428.2 865.50H445.2V880.05H428.2zM130.9 880.05H139.4V894.60H130.9zM156.4 880.05H164.9V894.60H156.4zM241.4 880.05H249.9V894.60H241.4zM258.4 880.05H266.9V894.60H258.4zM283.9 880.05H292.4V894.60H283.9zM334.8 880.05H343.3V894.60H334.8zM368.8 880.05H377.3V894.60H368.8zM428.3 880.05H436.8V894.60H428.3zM181.8 894.60H190.3V909.15H181.8zM258.3 894.60H266.8V909.15H258.3zM275.3 894.60H283.9V909.15H275.3zM300.9 894.60H309.4V909.15H300.9zM368.9 894.60H377.4V909.15H368.9zM139.1 909.15H147.6V923.70H139.1zM164.6 909.15H173.2V923.70H164.6zM215.7 909.15H232.8V923.70H215.7zM241.3 909.15H249.8V923.70H241.3zM258.3 909.15H266.8V923.70H258.3zM377.5 909.15H403.1V923.70H377.5zM190.1 923.70H207.1V938.25H190.1zM215.7 923.70H249.8V938.25H215.7zM309.4 923.70H317.9V938.25H309.4zM377.6 923.70H403.2V938.25H377.6zM428.7 923.70H437.3V938.25H428.7zM190.0 938.25H198.5V952.80H190.0zM275.3 938.25H283.9V952.80H275.3zM318.0 938.25H326.5V952.80H318.0zM428.9 938.25H437.4V952.80H428.9zM249.7 952.80H258.2V967.35H249.7zM318.0 952.80H326.6V967.35H318.0zM369.3 952.80H377.8V967.35H369.3zM164.2 967.35H172.7V981.90H164.2zM198.4 967.35H206.9V981.90H198.4zM232.6 967.35H241.1V981.90H232.6zM335.1 967.35H343.7V981.90H335.1zM377.9 967.35H386.4V981.90H377.9zM437.7 967.35H446.3V981.90H437.7zM147.0 981.90H155.5V996.45H147.0zM164.1 981.90H172.6V996.45H164.1zM198.3 981.90H206.8V996.45H198.3zM215.4 981.90H232.5V996.45H215.4zM241.1 981.90H249.6V996.45H241.1zM258.2 981.90H266.7V996.45H258.2zM283.9 981.90H292.4V996.45H283.9zM335.2 981.90H343.7V996.45H335.2zM360.9 981.90H369.4V996.45H360.9zM420.8 981.90H429.3V996.45H420.8zM249.6 996.45H258.2V1011.00H249.6zM360.9 996.45H369.5V1011.00H360.9zM412.3 996.45H420.9V1011.00H412.3zM438.0 996.45H455.1V1011.00H438.0zM232.4 1011.00H241.0V1025.55H232.4zM266.7 1011.00H283.9V1025.55H266.7zM292.4 1011.00H318.1V1025.55H292.4zM352.4 1011.00H361.0V1025.55H352.4zM386.7 1011.00H412.5V1025.55H386.7zM429.6 1011.00H438.2V1025.55H429.6zM223.8 1025.55H249.5V1040.10H223.8zM266.7 1025.55H283.9V1040.10H266.7zM292.4 1025.55H326.8V1040.10H292.4zM378.3 1025.55H386.8V1040.10H378.3zM198.0 1040.10H206.6V1054.65H198.0zM232.3 1040.10H249.5V1054.65H232.3zM266.7 1040.10H275.3V1054.65H266.7zM292.4 1040.10H301.0V1054.65H292.4zM326.8 1040.10H352.6V1054.65H326.8zM206.5 1054.65H215.1V1069.20H206.5zM275.3 1054.65H283.9V1069.20H275.3zM292.5 1054.65H301.1V1069.20H292.5zM335.4 1054.65H344.0V1069.20H335.4zM352.6 1054.65H361.2V1069.20H352.6zM369.8 1054.65H378.4V1069.20H369.8zM387.0 1054.65H404.2V1069.20H387.0zM412.8 1054.65H421.4V1069.20H412.8zM447.2 1054.65H455.8V1069.20H447.2zM232.2 1069.20H240.8V1083.75H232.2zM283.9 1069.20H292.5V1083.75H283.9zM335.5 1069.20H344.1V1083.75H335.5zM430.2 1069.20H438.8V1083.75H430.2zM214.9 1083.75H223.6V1098.30H214.9zM240.8 1083.75H249.4V1098.30H240.8zM292.5 1083.75H309.7V1098.30H292.5zM335.5 1083.75H344.2V1098.30H335.5zM361.4 1083.75H370.0V1098.30H361.4zM395.8 1083.75H404.5V1098.30H395.8zM223.5 1098.30H240.7V1112.85H223.5zM266.6 1098.30H275.2V1112.85H266.6zM361.5 1098.30H370.1V1112.85H361.5zM404.6 1098.30H413.2V1112.85H404.6zM421.8 1098.30H430.4V1112.85H421.8zM439.1 1098.30H447.7V1112.85H439.1zM206.2 1112.85H214.8V1127.40H206.2zM232.1 1112.85H249.3V1127.40H232.1zM266.6 1112.85H275.2V1127.40H266.6zM352.9 1112.85H370.2V1127.40H352.9zM404.7 1112.85H413.3V1127.40H404.7zM447.9 1112.85H456.5V1127.40H447.9zM232.0 1127.40H240.7V1141.95H232.0zM275.2 1127.40H283.9V1141.95H275.2zM318.4 1127.40H327.1V1141.95H318.4zM353.0 1127.40H370.3V1141.95H353.0zM430.7 1127.40H439.4V1141.95H430.7zM214.7 1141.95H232.0V1156.50H214.7zM240.6 1141.95H257.9V1156.50H240.6zM275.2 1141.95H292.5V1156.50H275.2zM353.0 1141.95H361.7V1156.50H353.0zM370.3 1141.95H379.0V1156.50H370.3zM448.2 1141.95H456.8V1156.50H448.2zM240.6 1156.50H266.5V1171.05H240.6zM292.5 1156.50H301.2V1171.05H292.5zM318.5 1156.50H327.1V1171.05H318.5zM214.5 1171.05H223.2V1185.60H214.5zM249.2 1171.05H257.9V1185.60H249.2zM318.5 1171.05H327.2V1185.60H318.5zM344.5 1171.05H353.2V1185.60H344.5zM405.2 1171.05H413.8V1185.60H405.2zM231.8 1185.60H257.8V1200.15H231.8zM405.3 1185.60H414.0V1200.15H405.3zM275.2 1200.15H283.9V1214.70H275.2zM388.0 1200.15H396.7V1214.70H388.0zM257.8 1214.70H266.5V1229.25H257.8zM283.9 1214.70H292.6V1229.25H283.9zM301.2 1214.70H309.9V1229.25H301.2zM379.4 1214.70H388.1V1229.25H379.4zM396.8 1214.70H405.5V1229.25H396.8zM257.8 1229.25H266.5V1243.80H257.8zM362.1 1229.25H379.5V1243.80H362.1zM318.7 1243.80H327.4V1258.35H318.7zM257.7 1258.35H266.4V1272.90H257.7zM362.4 1272.90H371.1V1287.45H362.4z"/>
<path fill="#00c878" d="M409.9 720.00H418.4V734.55H409.9zM443.6 720.00H452.0V734.55H443.6zM124.0 734.55H132.4V749.10H124.0zM199.7 734.55H208.1V749.10H199.7zM342.8 734.55H351.2V749.10H342.8zM309.1 749.10H317.5V763.65H309.1zM132.1 763.65H140.5V778.20H132.1zM157.4 763.65H182.7V778.20H157.4zM216.4 763.65H233.3V778.20H216.4zM309.1 763.65H317.6V778.20H309.1zM376.6 763.65H385.0V778.20H376.6zM224.8 778.20H241.6V792.75H224.8zM250.1 778.20H258.5V792.75H250.1zM334.5 778.20H342.9V792.75H334.5zM359.8 778.20H368.2V792.75H359.8zM427.3 778.20H435.8V792.75H427.3zM140.2 792.75H148.7V807.30H140.2zM258.5 792.75H275.4V807.30H258.5zM326.1 792.75H334.5V807.30H326.1zM343.0 792.75H351.4V807.30H343.0zM368.3 792.75H376.8V807.30H368.3zM402.1 792.75H410.6V807.30H402.1zM165.3 821.85H173.8V836.40H165.3zM199.2 821.85H207.7V836.40H199.2zM266.9 821.85H300.8V836.40H266.9zM250.0 836.40H266.9V850.95H250.0zM156.6 850.95H165.1V865.50H156.6zM343.2 850.95H351.7V865.50H343.2zM385.7 865.50H394.2V880.05H385.7zM300.8 880.05H309.3V894.60H300.8zM317.8 880.05H326.3V894.60H317.8zM377.3 880.05H385.8V894.60H377.3zM130.7 894.60H139.2V909.15H130.7zM164.8 894.60H173.3V909.15H164.8zM198.8 894.60H207.3V909.15H198.8zM292.4 894.60H300.9V909.15H292.4zM326.4 894.60H334.9V909.15H326.4zM411.4 894.60H420.0V909.15H411.4zM190.2 909.15H207.2V923.70H190.2zM343.5 909.15H369.0V923.70H343.5zM437.1 909.15H445.6V923.70H437.1zM207.1 923.70H215.7V938.25H207.1zM266.8 923.70H275.3V938.25H266.8zM283.9 923.70H292.4V938.25H283.9zM343.5 923.70H352.0V938.25H343.5zM403.2 923.70H411.7V938.25H403.2zM198.5 938.25H207.1V952.80H198.5zM224.1 938.25H249.7V952.80H224.1zM309.4 938.25H318.0V952.80H309.4zM360.6 938.25H369.2V952.80H360.6zM377.7 938.25H386.2V952.80H377.7zM403.3 938.25H411.8V952.80H403.3zM335.1 952.80H343.6V967.35H335.1zM386.3 952.80H394.9V967.35H386.3zM411.9 952.80H420.5V967.35H411.9zM437.6 952.80H446.1V967.35H437.6zM412.1 967.35H420.6V981.90H412.1zM172.6 981.90H189.7V996.45H172.6zM437.9 981.90H446.4V996.45H437.9zM206.7 1011.00H223.8V1025.55H206.7zM180.9 1025.55H189.5V1040.10H180.9zM215.2 1025.55H223.8V1040.10H215.2zM369.7 1025.55H378.3V1040.10H369.7zM249.5 1040.10H258.1V1054.65H249.5zM309.6 1040.10H318.2V1054.65H309.6zM369.8 1040.10H378.3V1054.65H369.8zM240.8 1069.20H249.4V1083.75H240.8zM283.9 1083.75H292.5V1098.30H283.9zM438.9 1083.75H447.5V1098.30H438.9zM249.4 1098.30H258.0V1112.85H249.4zM275.2 1112.85H283.9V1127.40H275.2zM292.5 1112.85H301.1V1127.40H292.5zM309.8 1112.85H318.4V1127.40H309.8zM223.3 1156.50H231.9V1171.05H223.3zM379.1 1156.50H387.7V1171.05H379.1zM379.2 1171.05H387.8V1185.60H379.2zM309.9 1185.60H318.6V1200.15H309.9zM379.3 1185.60H387.9V1200.15H379.3zM440.0 1185.60H448.6V1200.15H440.0zM283.9 1200.15H292.5V1214.70H283.9zM309.9 1200.15H318.6V1214.70H309.9zM335.9 1200.15H344.6V1214.70H335.9zM353.3 1200.15H362.0V1214.70H353.3zM379.4 1200.15H388.0V1214.70H379.4zM440.1 1200.15H448.8V1214.70H440.1zM240.4 1214.70H257.8V1229.25H240.4zM362.1 1214.70H370.8V1229.25H362.1zM266.5 1229.25H301.3V1243.80H266.5zM344.7 1229.25H353.4V1243.80H344.7zM405.6 1229.25H423.0V1243.80H405.6zM440.4 1229.25H457.8V1243.80H440.4zM283.9 1243.80H301.3V1258.35H283.9zM344.8 1243.80H362.2V1258.35H344.8zM371.0 1258.35H388.4V1272.90H371.0zM423.3 1258.35H440.7V1272.90H423.3zM388.5 1272.90H397.3V1287.45H388.5zM414.7 1272.90H432.1V1287.45H414.7z"/>
<path fill="#88c440" d="M216.6 720.00H225.0V734.55H216.6zM435.2 720.00H443.6V734.55H435.2zM191.3 734.55H199.7V749.10H191.3zM376.4 734.55H384.8V749.10H376.4zM250.2 749.10H267.0V763.65H250.2zM384.9 749.10H393.4V763.65H384.9zM401.8 749.10H410.2V763.65H401.8zM418.6 749.10H427.0V763.65H418.6zM443.9 749.10H452.3V763.65H443.9zM208.0 763.65H216.4V778.20H208.0zM267.0 763.65H275.4V778.20H267.0zM317.6 763.65H326.0V778.20H317.6zM334.4 763.65H342.9V778.20H334.4zM401.9 763.65H418.8V778.20H401.9zM216.3 778.20H224.8V792.75H216.3zM317.6 778.20H326.0V792.75H317.6zM376.7 778.20H402.0V792.75H376.7zM444.2 778.20H452.6V792.75H444.2zM148.7 792.75H157.1V807.30H148.7zM182.5 792.75H190.9V807.30H182.5zM199.4 792.75H207.8V807.30H199.4zM292.3 792.75H300.7V807.30H292.3zM148.5 807.30H157.0V821.85H148.5zM182.4 807.30H190.8V821.85H182.4zM224.7 807.30H233.1V821.85H224.7zM283.9 807.30H300.8V821.85H283.9zM427.6 807.30H436.1V821.85H427.6zM444.5 807.30H453.0V821.85H444.5zM207.7 821.85H216.1V836.40H207.7zM241.5 821.85H250.0V836.40H241.5zM317.7 821.85H326.2V836.40H317.7zM233.0 836.40H241.5V850.95H233.0zM283.9 836.40H309.3V850.95H283.9zM326.2 836.40H334.7V850.95H326.2zM368.6 836.40H377.1V850.95H368.6zM385.5 836.40H402.5V850.95H385.5zM241.4 850.95H249.9V865.50H241.4zM258.4 850.95H266.9V865.50H258.4zM351.7 850.95H360.2V865.50H351.7zM445.0 850.95H453.5V865.50H445.0zM156.5 865.50H165.0V880.05H156.5zM258.4 865.50H266.9V880.05H258.4zM309.3 865.50H317.8V880.05H309.3zM419.7 865.50H428.2V880.05H419.7zM181.9 880.05H190.4V894.60H181.9zM198.9 880.05H207.4V894.60H198.9zM215.9 880.05H224.4V894.60H215.9zM292.4 880.05H300.8V894.60H292.4zM351.8 880.05H360.3V894.60H351.8zM436.8 880.05H453.8V894.60H436.8zM190.3 894.60H198.8V909.15H190.3zM241.3 894.60H249.8V909.15H241.3zM249.8 909.15H258.3V923.70H249.8zM309.4 909.15H317.9V923.70H309.4zM326.4 909.15H343.5V923.70H326.4zM369.0 909.15H377.5V923.70H369.0zM420.1 909.15H428.6V923.70H420.1zM445.6 909.15H454.1V923.70H445.6zM300.9 923.70H309.4V938.25H300.9zM352.0 923.70H360.6V938.25H352.0zM258.3 938.25H266.8V952.80H258.3zM326.5 938.25H343.6V952.80H326.5zM352.1 938.25H360.6V952.80H352.1zM437.4 938.25H445.9V952.80H437.4zM181.4 952.80H189.9V967.35H181.4zM198.5 952.80H207.0V967.35H198.5zM232.6 952.80H241.2V967.35H232.6zM326.6 952.80H335.1V967.35H326.6zM377.8 952.80H386.3V967.35H377.8zM403.4 952.80H411.9V967.35H403.4zM318.0 967.35H326.6V981.90H318.0zM360.8 967.35H369.3V981.90H360.8zM446.3 967.35H454.8V981.90H446.3zM266.7 981.90H275.3V996.45H266.7zM309.5 981.90H318.1V996.45H309.5zM378.0 981.90H395.1V996.45H378.0zM412.2 981.90H420.8V996.45H412.2zM172.5 996.45H181.1V1011.00H172.5zM198.2 996.45H206.8V1011.00H198.2zM283.9 996.45H292.4V1011.00H283.9zM326.7 996.45H335.2V1011.00H326.7zM378.1 996.45H386.6V1011.00H378.1zM326.7 1011.00H335.3V1025.55H326.7zM378.2 1011.00H386.7V1025.55H378.2zM283.9 1025.55H292.4V1040.10H283.9zM283.9 1040.10H292.4V1054.65H283.9zM258.1 1054.65H266.7V1069.20H258.1zM326.8 1054.65H335.4V1069.20H326.8zM258.0 1069.20H266.6V1083.75H258.0zM292.5 1069.20H301.1V1083.75H292.5zM318.3 1069.20H326.9V1083.75H318.3zM352.7 1069.20H361.3V1083.75H352.7zM369.9 1069.20H378.5V1083.75H369.9zM395.7 1069.20H404.3V1083.75H395.7zM318.3 1083.75H326.9V1098.30H318.3zM344.2 1098.30H352.8V1112.85H344.2zM430.6 1112.85H447.9V1127.40H430.6zM266.6 1127.40H275.2V1141.95H266.6zM301.1 1127.40H309.8V1141.95H301.1zM387.5 1127.40H396.2V1141.95H387.5zM404.8 1127.40H422.1V1141.95H404.8zM292.5 1141.95H309.8V1156.50H292.5zM327.1 1141.95H335.7V1156.50H327.1zM361.7 1141.95H370.3V1156.50H361.7zM430.9 1141.95H439.5V1156.50H430.9zM301.2 1156.50H309.8V1171.05H301.2zM344.5 1156.50H353.1V1171.05H344.5zM370.4 1156.50H379.1V1171.05H370.4zM422.4 1156.50H431.0V1171.05H422.4zM257.9 1171.05H275.2V1185.60H257.9zM283.9 1171.05H292.5V1185.60H283.9zM370.5 1171.05H379.2V1185.60H370.5zM422.5 1171.05H431.2V1185.60H422.5zM301.2 1185.60H309.9V1200.15H301.2zM335.9 1185.60H344.6V1200.15H335.9zM370.6 1185.60H379.3V1200.15H370.6zM301.2 1200.15H309.9V1214.70H301.2zM431.4 1200.15H440.1V1214.70H431.4zM353.4 1214.70H362.1V1229.25H353.4zM431.6 1214.70H440.3V1229.25H431.6zM301.3 1243.80H310.0V1258.35H301.3zM327.4 1243.80H336.1V1258.35H327.4zM362.2 1243.80H370.9V1258.35H362.2zM414.5 1243.80H431.9V1258.35H414.5zM440.6 1243.80H449.3V1258.35H440.6zM310.0 1258.35H318.7V1272.90H310.0zM327.4 1258.35H344.9V1272.90H327.4zM405.9 1258.35H423.3V1272.90H405.9zM310.0 1272.90H318.8V1287.45H310.0zM336.2 1272.90H344.9V1287.45H336.2zM440.9 1272.90H449.6V1287.45H440.9z"/>
<path fill="#c8bc18" d="M359.5 720.00H367.9V734.55H359.5zM418.4 720.00H426.8V734.55H418.4zM166.0 734.55H174.5V749.10H166.0zM250.2 734.55H258.6V749.10H250.2zM267.0 734.55H275.4V749.10H267.0zM325.9 734.55H334.3V749.10H325.9zM132.2 749.10H140.7V763.65H132.2zM191.2 749.10H208.0V763.65H191.2zM241.7 749.10H250.2V763.65H241.7zM267.0 749.10H283.8V763.65H267.0zM317.5 749.10H334.4V763.65H317.5zM140.5 763.65H148.9V778.20H140.5zM191.1 763.65H199.5V778.20H191.1zM258.6 763.65H267.0V778.20H258.6zM275.4 763.65H283.8V778.20H275.4zM292.3 763.65H300.7V778.20H292.3zM140.4 778.20H148.8V792.75H140.4zM292.3 778.20H309.2V792.75H292.3zM326.0 778.20H334.5V792.75H326.0zM402.0 778.20H410.4V792.75H402.0zM190.9 792.75H199.4V807.30H190.9zM216.3 792.75H241.6V807.30H216.3zM275.4 792.75H292.3V807.30H275.4zM393.7 792.75H402.1V807.30H393.7zM419.0 792.75H435.9V807.30H419.0zM444.4 792.75H452.8V807.30H444.4zM190.8 807.30H199.3V821.85H190.8zM241.6 807.30H250.0V821.85H241.6zM275.4 807.30H283.9V821.85H275.4zM309.2 807.30H317.7V821.85H309.2zM368.4 807.30H376.9V821.85H368.4zM402.2 807.30H410.7V821.85H402.2zM351.6 821.85H360.0V836.40H351.6zM377.0 821.85H402.4V836.40H377.0zM436.4 836.40H444.8V850.95H436.4zM309.3 850.95H317.8V865.50H309.3zM377.1 850.95H385.6V865.50H377.1zM394.1 850.95H411.1V865.50H394.1zM215.9 865.50H224.4V880.05H215.9zM351.8 865.50H360.3V880.05H351.8zM445.2 865.50H453.6V880.05H445.2zM224.4 880.05H232.9V894.60H224.4zM275.4 880.05H283.9V894.60H275.4zM343.3 880.05H351.8V894.60H343.3zM402.8 880.05H411.3V894.60H402.8zM224.3 894.60H241.3V909.15H224.3zM266.8 894.60H275.3V909.15H266.8zM309.4 894.60H317.9V909.15H309.4zM343.4 894.60H351.9V909.15H343.4zM360.4 894.60H368.9V909.15H360.4zM377.4 894.60H394.4V909.15H377.4zM420.0 894.60H445.5V909.15H420.0zM232.8 909.15H241.3V923.70H232.8zM275.3 909.15H292.4V923.70H275.3zM428.6 909.15H437.1V923.70H428.6zM335.0 923.70H343.5V938.25H335.0zM369.1 923.70H377.6V938.25H369.1zM420.2 923.70H428.7V938.25H420.2zM386.2 938.25H403.3V952.80H386.2zM411.8 938.25H420.4V952.80H411.8zM215.5 952.80H232.6V967.35H215.5zM343.6 952.80H352.2V967.35H343.6zM309.5 967.35H318.0V981.90H309.5zM343.7 967.35H352.2V981.90H343.7zM395.0 967.35H412.1V981.90H395.0zM206.8 981.90H215.4V996.45H206.8zM232.5 981.90H241.1V996.45H232.5zM318.1 981.90H326.6V996.45H318.1zM429.3 981.90H437.9V996.45H429.3zM189.6 996.45H198.2V1011.00H189.6zM232.5 996.45H249.6V1011.00H232.5zM266.7 996.45H275.3V1011.00H266.7zM292.4 996.45H301.0V1011.00H292.4zM369.5 996.45H378.1V1011.00H369.5zM241.0 1011.00H249.6V1025.55H241.0zM446.7 1011.00H455.3V1025.55H446.7zM198.0 1025.55H215.2V1040.10H198.0zM335.3 1025.55H343.9V1040.10H335.3zM386.8 1025.55H395.4V1040.10H386.8zM378.3 1040.10H404.1V1054.65H378.3zM412.7 1040.10H421.3V1054.65H412.7zM223.7 1054.65H232.3V1069.20H223.7zM240.9 1054.65H249.5V1069.20H240.9zM283.9 1054.65H292.5V1069.20H283.9zM344.0 1054.65H352.6V1069.20H344.0zM404.2 1054.65H412.8V1069.20H404.2zM430.0 1054.65H438.6V1069.20H430.0zM223.6 1069.20H232.2V1083.75H223.6zM249.4 1069.20H258.0V1083.75H249.4zM326.9 1069.20H335.5V1083.75H326.9zM223.6 1083.75H240.8V1098.30H223.6zM249.4 1083.75H258.0V1098.30H249.4zM266.6 1083.75H275.2V1098.30H266.6zM421.7 1083.75H438.9V1098.30H421.7zM258.0 1098.30H266.6V1112.85H258.0zM301.1 1098.30H309.7V1112.85H301.1zM396.0 1098.30H404.6V1112.85H396.0zM301.1 1112.85H309.8V1127.40H301.1zM318.4 1112.85H327.0V1127.40H318.4zM370.2 1112.85H378.8V1127.40H370.2zM396.1 1112.85H404.7V1127.40H396.1zM309.8 1156.50H318.5V1171.05H309.8zM327.1 1156.50H335.8V1171.05H327.1zM361.8 1156.50H370.4V1171.05H361.8zM413.7 1156.50H422.4V1171.05H413.7zM275.2 1171.05H283.9V1185.60H275.2zM301.2 1171.05H318.5V1185.60H301.2zM335.8 1171.05H344.5V1185.60H335.8zM361.8 1171.05H370.5V1185.60H361.8zM396.5 1171.05H405.2V1185.60H396.5zM257.8 1185.60H266.5V1200.15H257.8zM275.2 1185.60H283.9V1200.15H275.2zM344.6 1185.60H353.2V1200.15H344.6zM361.9 1185.60H370.6V1200.15H361.9zM387.9 1185.60H396.6V1200.15H387.9zM240.5 1200.15H249.1V1214.70H240.5zM266.5 1200.15H275.2V1214.70H266.5zM396.7 1200.15H422.8V1214.70H396.7zM344.7 1214.70H353.4V1229.25H344.7zM353.4 1229.25H362.1V1243.80H353.4zM449.3 1243.80H458.0V1258.35H449.3zM344.9 1258.35H353.6V1272.90H344.9zM362.3 1258.35H371.0V1272.90H362.3zM353.6 1272.90H362.4V1287.45H353.6zM371.1 1272.90H379.8V1287.45H371.1zM432.1 1272.90H440.9V1287.45H432.1zM414.8 1287.45H423.6V1302.00H414.8z"/>
<path fill="#f8b830" d="M351.1 720.00H359.5V734.55H351.1zM292.3 734.55H309.1V749.10H292.3zM317.5 734.55H325.9V749.10H317.5zM351.2 734.55H376.4V749.10H351.2zM393.2 734.55H401.7V749.10H393.2zM418.5 734.55H426.9V749.10H418.5zM174.3 749.10H182.8V763.65H174.3zM292.3 749.10H309.1V763.65H292.3zM334.4 749.10H342.8V763.65H334.4zM368.1 749.10H376.5V763.65H368.1zM393.4 749.10H401.8V763.65H393.4zM435.5 749.10H443.9V763.65H435.5zM241.7 763.65H250.1V778.20H241.7zM326.0 763.65H334.4V778.20H326.0zM359.7 763.65H376.6V778.20H359.7zM241.6 778.20H250.1V792.75H241.6zM275.4 778.20H283.8V792.75H275.4zM368.2 778.20H376.7V792.75H368.2zM410.4 778.20H418.9V792.75H410.4zM300.7 792.75H317.6V807.30H300.7zM334.5 792.75H343.0V807.30H334.5zM359.9 792.75H368.3V807.30H359.9zM410.6 792.75H419.0V807.30H410.6zM250.0 807.30H258.5V821.85H250.0zM300.8 807.30H309.2V821.85H300.8zM351.5 807.30H360.0V821.85H351.5zM436.1 807.30H444.5V821.85H436.1zM233.1 821.85H241.5V836.40H233.1zM326.2 821.85H334.6V836.40H326.2zM419.3 821.85H436.2V836.40H419.3zM309.3 836.40H317.7V850.95H309.3zM343.2 836.40H351.6V850.95H343.2zM444.8 836.40H453.3V850.95H444.8zM216.0 850.95H224.5V865.50H216.0zM275.4 850.95H283.9V865.50H275.4zM326.3 850.95H334.7V865.50H326.3zM360.2 850.95H368.7V865.50H360.2zM428.0 850.95H445.0V865.50H428.0zM249.9 865.50H258.4V880.05H249.9zM275.4 865.50H283.9V880.05H275.4zM300.8 865.50H309.3V880.05H300.8zM317.8 865.50H326.3V880.05H317.8zM249.9 880.05H258.4V894.60H249.9zM266.9 880.05H275.4V894.60H266.9zM326.3 880.05H334.8V894.60H326.3zM360.3 880.05H368.8V894.60H360.3zM394.3 880.05H402.8V894.60H394.3zM411.3 880.05H428.3V894.60H411.3zM283.9 894.60H292.4V909.15H283.9zM317.9 894.60H326.4V909.15H317.9zM334.9 894.60H343.4V909.15H334.9zM351.9 894.60H360.4V909.15H351.9zM394.4 894.60H402.9V909.15H394.4zM207.2 909.15H215.7V923.70H207.2zM266.8 909.15H275.3V923.70H266.8zM300.9 909.15H309.4V923.70H300.9zM403.1 909.15H420.1V923.70H403.1zM317.9 923.70H326.5V938.25H317.9zM437.3 923.70H454.3V938.25H437.3zM215.6 938.25H224.1V952.80H215.6zM249.7 938.25H258.3V952.80H249.7zM360.7 952.80H369.3V967.35H360.7zM420.5 952.80H429.0V967.35H420.5zM446.1 952.80H454.6V967.35H446.1zM206.9 967.35H215.5V981.90H206.9zM224.0 967.35H232.6V981.90H224.0zM258.2 967.35H266.8V981.90H258.2zM326.6 967.35H335.1V981.90H326.6zM369.3 967.35H377.9V981.90H369.3zM386.4 967.35H395.0V981.90H386.4zM420.6 967.35H429.2V981.90H420.6zM369.4 981.90H378.0V996.45H369.4zM395.1 981.90H403.6V996.45H395.1zM395.2 996.45H403.8V1011.00H395.2zM420.9 996.45H429.5V1011.00H420.9zM198.1 1011.00H206.7V1025.55H198.1zM369.6 1011.00H378.2V1025.55H369.6zM249.5 1025.55H258.1V1040.10H249.5zM404.0 1025.55H412.6V1040.10H404.0zM206.6 1040.10H223.7V1054.65H206.6zM258.1 1040.10H266.7V1054.65H258.1zM275.3 1040.10H283.9V1054.65H275.3zM301.0 1040.10H309.6V1054.65H301.0zM215.1 1054.65H223.7V1069.20H215.1zM301.1 1054.65H309.7V1069.20H301.1zM361.2 1054.65H369.8V1069.20H361.2zM378.4 1054.65H387.0V1069.20H378.4zM421.4 1054.65H430.0V1069.20H421.4zM438.6 1054.65H447.2V1069.20H438.6zM215.0 1069.20H223.6V1083.75H215.0zM275.3 1069.20H283.9V1083.75H275.3zM344.1 1069.20H352.7V1083.75H344.1zM361.3 1069.20H369.9V1083.75H361.3zM378.5 1069.20H387.1V1083.75H378.5zM404.3 1069.20H413.0V1083.75H404.3zM438.8 1069.20H456.0V1083.75H438.8zM326.9 1083.75H335.5V1098.30H326.9zM352.8 1083.75H361.4V1098.30H352.8zM378.6 1083.75H387.2V1098.30H378.6zM413.1 1083.75H421.7V1098.30H413.1zM309.7 1098.30H318.4V1112.85H309.7zM327.0 1098.30H344.2V1112.85H327.0zM352.8 1098.30H361.5V1112.85H352.8zM378.7 1098.30H387.3V1112.85H378.7zM430.4 1098.30H439.1V1112.85H430.4zM447.7 1098.30H456.3V1112.85H447.7zM258.0 1112.85H266.6V1127.40H258.0zM422.0 1112.85H430.6V1127.40H422.0zM249.3 1127.40H266.6V1141.95H249.3zM283.9 1127.40H292.5V1141.95H283.9zM422.1 1127.40H430.7V1141.95H422.1zM439.4 1127.40H448.0V1141.95H439.4zM257.9 1141.95H266.6V1156.50H257.9zM379.0 1141.95H404.9V1156.50H379.0zM439.5 1141.95H448.2V1156.50H439.5zM266.5 1156.50H283.9V1171.05H266.5zM431.0 1156.50H439.7V1171.05H431.0zM448.3 1156.50H457.0V1171.05H448.3zM231.9 1171.05H240.5V1185.60H231.9zM327.2 1171.05H335.8V1185.60H327.2zM353.2 1171.05H361.8V1185.60H353.2zM413.8 1171.05H422.5V1185.60H413.8zM431.2 1171.05H439.8V1185.60H431.2zM283.9 1185.60H292.5V1200.15H283.9zM318.6 1185.60H335.9V1200.15H318.6zM353.2 1185.60H361.9V1200.15H353.2zM414.0 1185.60H440.0V1200.15H414.0zM292.5 1200.15H301.2V1214.70H292.5zM318.6 1200.15H327.3V1214.70H318.6zM344.6 1200.15H353.3V1214.70H344.6zM370.7 1200.15H379.4V1214.70H370.7zM422.8 1200.15H431.4V1214.70H422.8zM405.5 1214.70H414.2V1229.25H405.5zM440.3 1214.70H449.0V1229.25H440.3zM423.0 1229.25H431.7V1243.80H423.0zM310.0 1243.80H318.7V1258.35H310.0zM405.7 1243.80H414.5V1258.35H405.7zM440.7 1258.35H458.1V1272.90H440.7zM344.9 1272.90H353.6V1287.45H344.9zM406.0 1272.90H414.7V1287.45H406.0zM449.6 1272.90H458.3V1287.45H449.6z"/>
<path fill="#fcd020" d="M384.7 720.00H393.1V734.55H384.7zM384.8 734.55H393.2V749.10H384.8zM435.3 734.55H443.7V749.10H435.3zM359.7 749.10H368.1V763.65H359.7zM393.5 763.65H401.9V778.20H393.5zM444.0 763.65H452.5V778.20H444.0zM182.6 778.20H191.0V792.75H182.6zM267.0 778.20H275.4V792.75H267.0zM351.4 778.20H359.8V792.75H351.4zM385.2 792.75H393.7V807.30H385.2zM250.0 821.85H258.5V836.40H250.0zM343.1 821.85H351.6V836.40H343.1zM436.2 821.85H444.7V836.40H436.2zM241.5 836.40H250.0V850.95H241.5zM326.3 865.50H334.8V880.05H326.3zM343.3 865.50H351.8V880.05H343.3zM309.3 880.05H317.8V894.60H309.3zM317.9 909.15H326.4V923.70H317.9zM258.2 952.80H266.8V967.35H258.2zM189.7 981.90H198.3V996.45H189.7zM215.3 996.45H223.9V1011.00H215.3zM318.2 1040.10H326.8V1054.65H318.2zM318.2 1054.65H326.8V1069.20H318.2zM301.1 1069.20H318.3V1083.75H301.1zM387.1 1069.20H395.7V1083.75H387.1zM370.0 1083.75H378.6V1098.30H370.0zM404.5 1083.75H413.1V1098.30H404.5zM240.7 1098.30H249.4V1112.85H240.7zM249.3 1112.85H258.0V1127.40H249.3zM378.8 1112.85H396.1V1127.40H378.8zM292.5 1127.40H301.1V1141.95H292.5zM396.2 1127.40H404.8V1141.95H396.2zM266.6 1141.95H275.2V1156.50H266.6zM448.5 1171.05H457.1V1185.60H448.5zM327.3 1200.15H335.9V1214.70H327.3zM362.0 1200.15H370.7V1214.70H362.0zM292.6 1214.70H301.2V1229.25H292.6zM336.0 1214.70H344.7V1229.25H336.0zM336.0 1229.25H344.7V1243.80H336.0zM431.7 1229.25H440.4V1243.80H431.7zM336.1 1243.80H344.8V1258.35H336.1zM431.9 1243.80H440.6V1258.35H431.9z"/>
<path fill="#f8f00a" d="M300.7 763.65H309.1V778.20H300.7zM342.9 763.65H351.3V778.20H342.9zM342.9 778.20H351.4V792.75H342.9zM241.6 792.75H250.1V807.30H241.6zM351.4 792.75H359.9V807.30H351.4zM334.6 807.30H343.0V821.85H334.6zM360.0 807.30H368.4V821.85H360.0zM393.8 807.30H402.2V821.85H393.8zM419.2 807.30H427.6V821.85H419.2zM309.2 821.85H317.7V836.40H309.2zM368.5 821.85H377.0V836.40H368.5zM402.4 821.85H410.8V836.40H402.4zM317.7 836.40H326.2V850.95H317.7zM351.6 836.40H360.1V850.95H351.6zM377.1 836.40H385.5V850.95H377.1zM402.5 836.40H410.9V850.95H402.5zM427.9 836.40H436.4V850.95H427.9zM317.8 850.95H326.3V865.50H317.8zM385.6 850.95H394.1V865.50H385.6zM411.1 850.95H419.6V865.50H411.1zM377.2 865.50H385.7V880.05H377.2zM394.2 865.50H402.7V880.05H394.2zM411.2 865.50H419.7V880.05H411.2zM385.8 880.05H394.3V894.60H385.8zM402.9 894.60H411.4V909.15H402.9zM249.8 923.70H258.3V938.25H249.8zM411.7 923.70H420.2V938.25H411.7zM420.4 938.25H428.9V952.80H420.4zM445.9 938.25H454.5V952.80H445.9zM429.0 952.80H437.6V967.35H429.0zM181.3 967.35H189.8V981.90H181.3zM429.2 967.35H437.7V981.90H429.2zM266.7 1054.65H275.3V1069.20H266.7zM266.6 1069.20H275.3V1083.75H266.6zM421.6 1069.20H430.2V1083.75H421.6zM275.2 1083.75H283.9V1098.30H275.2zM309.7 1083.75H318.3V1098.30H309.7zM344.2 1083.75H352.8V1098.30H344.2zM387.2 1083.75H395.8V1098.30H387.2zM447.5 1083.75H456.1V1098.30H447.5zM275.2 1098.30H292.5V1112.85H275.2zM318.4 1098.30H327.0V1112.85H318.4zM370.1 1098.30H378.7V1112.85H370.1zM387.3 1098.30H396.0V1112.85H387.3zM413.2 1098.30H421.8V1112.85H413.2zM283.9 1112.85H292.5V1127.40H283.9zM413.3 1112.85H422.0V1127.40H413.3zM378.9 1127.40H387.5V1141.95H378.9zM404.9 1141.95H413.6V1156.50H404.9zM422.2 1141.95H430.9V1156.50H422.2zM387.7 1156.50H396.4V1171.05H387.7zM405.0 1156.50H413.7V1171.05H405.0zM387.8 1171.05H396.5V1185.60H387.8zM396.6 1185.60H405.3V1200.15H396.6zM327.3 1214.70H336.0V1229.25H327.3zM422.9 1214.70H431.6V1229.25H422.9zM301.3 1229.25H310.0V1243.80H301.3zM327.4 1229.25H336.0V1243.80H327.4z"/>
</g>
<line x1="207.0" y1="720" x2="207.0" y2="1302" stroke="#d2c8d4" stroke-width="1.1" stroke-dasharray="1.4 3.4" opacity="0.7"/>
<line x1="292.4" y1="720" x2="292.4" y2="1302" stroke="#d2c8d4" stroke-width="1.1" stroke-dasharray="1.4 3.4" opacity="0.7"/>
<line x1="378.0" y1="720" x2="378.0" y2="1302" stroke="#d2c8d4" stroke-width="1.1" stroke-dasharray="1.4 3.4" opacity="0.7"/>
<line x1="122.61309278350515" y1="866.6" x2="462.06323024054984" y2="866.6" stroke="#d2c8d4" stroke-width="1.1" stroke-dasharray="1.4 3.4" opacity="0.7"/>
<line x1="121.04458762886598" y1="1011.5" x2="463.8060137457045" y2="1011.5" stroke="#d2c8d4" stroke-width="1.1" stroke-dasharray="1.4 3.4" opacity="0.7"/>
<line x1="119.48041237113402" y1="1156.0" x2="465.54398625429553" y2="1156.0" stroke="#d2c8d4" stroke-width="1.1" stroke-dasharray="1.4 3.4" opacity="0.7"/>
<polyline points="270.96,950.18 289.66,950.18 292.39,952.91 293.17,957.97 307.20,958.36 307.98,993.43 314.60,994.99 314.60,1007.46 307.98,1008.24 307.59,1016.81 314.21,1017.98 314.60,1027.72 313.04,1033.56 316.16,1035.51 316.16,1052.65 300.57,1055.77 292.78,1055.38 281.87,1054.99 277.20,1050.31 275.64,1044.08 271.74,1044.47 268.62,1042.91 257.33,1042.13 256.94,1035.12 268.62,1033.95 268.62,1016.81 266.29,1014.86 267.45,1011.35 252.65,1009.01 252.26,988.36 243.69,986.81 242.91,984.47 245.64,980.18 239.79,971.61 246.03,978.62 248.75,967.71 251.48,961.48 255.38,956.42 258.88,954.47 270.18,954.08 270.96,950.18" fill="none" stroke="#000" stroke-width="2.6" stroke-linejoin="round" stroke-linecap="round"/>
<polygon points="124.20,719.60 460.30,719.80 467.30,1302.00 117.90,1301.60" fill="none" stroke="#141414" stroke-width="2.8"/>
<rect x="207.3" y="866.6" width="170.6" height="289.3" fill="none" stroke="#111" stroke-width="2.4" stroke-dasharray="7.5 12.5"/>
<text transform="translate(293.00,710.00) scale(1.0,1.13)" font-size="22.6" text-anchor="middle" font-weight="bold" fill="#111" >2022</text>
<text transform="translate(115.40,728.60) scale(1.0,1.09)" font-size="21" text-anchor="end" font-weight="normal" fill="#383838" >52.0° N</text>
<text transform="translate(113.38,873.80) scale(1.0,1.09)" font-size="21" text-anchor="end" font-weight="normal" fill="#383838" >51.5° N</text>
<text transform="translate(111.39,1019.30) scale(1.0,1.09)" font-size="21" text-anchor="end" font-weight="normal" fill="#383838" >51.0° N</text>
<text transform="translate(109.40,1164.50) scale(1.0,1.09)" font-size="21" text-anchor="end" font-weight="normal" fill="#383838" >50.5° N</text>
<text transform="translate(107.40,1309.50) scale(1.0,1.09)" font-size="21" text-anchor="end" font-weight="normal" fill="#383838" >50.0° N</text>
<text transform="translate(122.60,1328.90) scale(1.0,1.09)" font-size="21" text-anchor="middle" font-weight="normal" fill="#383838" >115.0° W</text>
<text transform="translate(296.40,1328.90) scale(1.0,1.09)" font-size="21" text-anchor="middle" font-weight="normal" fill="#383838" >114.0° W</text>
<text transform="translate(469.40,1328.90) scale(1.0,1.09)" font-size="21" text-anchor="middle" font-weight="normal" fill="#383838" >113.0° W</text>
<defs><linearGradient id="cbc" x1="0" y1="0" x2="0" y2="1"><stop offset="0.000" stop-color="#f8f800"/><stop offset="0.050" stop-color="#f8e810"/><stop offset="0.100" stop-color="#fcd020"/><stop offset="0.150" stop-color="#fbb838"/><stop offset="0.200" stop-color="#f0b020"/><stop offset="0.250" stop-color="#c0bc10"/><stop offset="0.290" stop-color="#90c43a"/><stop offset="0.335" stop-color="#40c850"/><stop offset="0.355" stop-color="#05c870"/><stop offset="0.440" stop-color="#00c098"/><stop offset="0.540" stop-color="#00b4c0"/><stop offset="0.620" stop-color="#06a6d4"/><stop offset="0.700" stop-color="#0a94ec"/><stop offset="0.780" stop-color="#1480fa"/><stop offset="0.830" stop-color="#3a5cf6"/><stop offset="0.880" stop-color="#4848f0"/><stop offset="0.940" stop-color="#4434c8"/><stop offset="1.000" stop-color="#3e26a8"/></linearGradient></defs>
<rect x="484.4" y="720.5" width="23.400000000000034" height="582.3" fill="url(#cbc)" stroke="#444" stroke-width="1"/>
<line x1="504.3" x2="507.8" y1="1302.8" y2="1302.8" stroke="#333" stroke-width="1"/>
<text transform="translate(517.20,1312.10) scale(1.0,1.13)" font-size="20.5" text-anchor="start" font-weight="normal" fill="#383838" >0</text>
<line x1="504.3" x2="507.8" y1="1186.34" y2="1186.34" stroke="#333" stroke-width="1"/>
<text transform="translate(517.20,1195.24) scale(1.0,1.13)" font-size="20.5" text-anchor="start" font-weight="normal" fill="#383838" >5</text>
<line x1="504.3" x2="507.8" y1="1069.88" y2="1069.88" stroke="#333" stroke-width="1"/>
<text transform="translate(517.20,1078.38) scale(1.0,1.13)" font-size="20.5" text-anchor="start" font-weight="normal" fill="#383838" >10</text>
<line x1="504.3" x2="507.8" y1="953.42" y2="953.42" stroke="#333" stroke-width="1"/>
<text transform="translate(517.20,961.52) scale(1.0,1.13)" font-size="20.5" text-anchor="start" font-weight="normal" fill="#383838" >15</text>
<line x1="504.3" x2="507.8" y1="836.96" y2="836.96" stroke="#333" stroke-width="1"/>
<text transform="translate(517.20,844.66) scale(1.0,1.13)" font-size="20.5" text-anchor="start" font-weight="normal" fill="#383838" >20</text>
<line x1="504.3" x2="507.8" y1="720.5" y2="720.5" stroke="#333" stroke-width="1"/>
<text transform="translate(517.20,727.80) scale(1.0,1.13)" font-size="20.5" text-anchor="start" font-weight="normal" fill="#383838" >25</text>
<text transform="translate(567.30,1008.50) rotate(-90) scale(1.056,1.0)" font-size="20.5" text-anchor="middle" font-weight="normal" fill="#383838" >Number of valid observations</text>
<text transform="translate(137.80,756.90)" font-size="34.5" text-anchor="start" font-weight="bold" fill="#000" >(c)</text>
<polygon points="693.40,719.60 1029.50,719.80 1036.50,1302.00 687.10,1301.60" fill="#f5f5fb"/>
<g shape-rendering="crispEdges">
<path fill="#4838d0" d="M691.1 923.70H699.6V938.25H691.1zM691.0 938.25H699.5V952.80H691.0zM716.4 952.80H725.0V967.35H716.4zM707.7 967.35H724.8V981.90H707.7zM707.6 981.90H716.2V996.45H707.6zM749.9 1054.65H758.5V1069.20H749.9zM732.6 1069.20H749.8V1083.75H732.6zM758.4 1069.20H767.0V1083.75H758.4zM758.3 1083.75H766.9V1098.30H758.3zM758.2 1098.30H766.8V1112.85H758.2zM749.5 1112.85H758.1V1127.40H749.5zM766.7 1127.40H775.3V1141.95H766.7zM766.6 1141.95H775.2V1156.50H766.6zM775.0 1185.60H783.7V1200.15H775.0zM800.9 1214.70H809.6V1229.25H800.9zM835.7 1243.80H844.4V1258.35H835.7zM809.5 1258.35H818.2V1272.90H809.5zM835.6 1258.35H844.3V1272.90H835.6zM853.1 1258.35H861.8V1272.90H853.1zM818.2 1272.90H835.6V1287.45H818.2zM861.8 1272.90H870.5V1287.45H861.8z"/>
<path fill="#4a55f0" d="M692.8 763.65H701.3V778.20H692.8zM701.1 778.20H709.6V792.75H701.1zM725.2 923.70H733.7V938.25H725.2zM716.6 938.25H725.1V952.80H716.6zM699.3 952.80H707.9V967.35H699.3zM725.0 952.80H733.5V967.35H725.0zM724.8 967.35H733.4V981.90H724.8zM716.0 996.45H724.6V1011.00H716.0zM733.2 996.45H741.7V1011.00H733.2zM758.6 1040.10H767.2V1054.65H758.6zM758.1 1112.85H766.7V1127.40H758.1zM783.9 1127.40H792.6V1141.95H783.9zM775.2 1141.95H783.9V1156.50H775.2zM775.1 1171.05H783.7V1185.60H775.1zM818.2 1243.80H826.9V1258.35H818.2zM853.1 1272.90H861.8V1287.45H853.1zM896.7 1272.90H905.4V1287.45H896.7z"/>
<path fill="#1e7efb" d="M819.4 720.00H827.8V734.55H819.4zM710.0 734.55H718.4V749.10H710.0zM692.7 778.20H701.1V792.75H692.7zM734.3 850.95H742.8V865.50H734.3zM708.4 894.60H717.0V909.15H708.4zM733.7 923.70H759.3V938.25H733.7zM699.5 938.25H708.0V952.80H699.5zM733.6 938.25H742.1V952.80H733.6zM742.0 952.80H750.6V967.35H742.0zM861.6 952.80H870.1V967.35H861.6zM690.6 967.35H707.7V981.90H690.6zM853.1 967.35H870.2V981.90H853.1zM827.3 1011.00H835.9V1025.55H827.3zM913.1 1011.00H921.6V1025.55H913.1zM1007.4 1011.00H1015.9V1025.55H1007.4zM741.5 1025.55H750.1V1040.10H741.5zM741.4 1040.10H750.0V1054.65H741.4zM921.8 1040.10H930.4V1054.65H921.8zM758.5 1054.65H767.1V1069.20H758.5zM766.8 1098.30H775.5V1112.85H766.8zM766.7 1112.85H775.4V1127.40H766.7zM783.7 1185.60H801.0V1200.15H783.7zM801.0 1200.15H809.7V1214.70H801.0zM879.1 1214.70H887.8V1229.25H879.1zM800.9 1229.25H809.6V1243.80H800.9zM966.1 1229.25H974.8V1243.80H966.1zM809.5 1243.80H818.2V1258.35H809.5zM826.9 1243.80H835.7V1258.35H826.9zM844.4 1243.80H853.1V1258.35H844.4zM861.8 1258.35H879.2V1272.90H861.8zM887.9 1258.35H896.6V1272.90H887.9z"/>
<path fill="#0c9cea" d="M802.6 720.00H811.0V734.55H802.6zM693.0 749.10H701.4V763.65H693.0zM718.3 749.10H726.7V763.65H718.3zM726.6 763.65H735.0V778.20H726.6zM726.5 778.20H734.9V792.75H726.5zM726.3 792.75H743.2V807.30H726.3zM709.3 807.30H717.7V821.85H709.3zM717.6 821.85H726.1V836.40H717.6zM793.7 836.40H802.2V850.95H793.7zM691.6 880.05H700.1V894.60H691.6zM717.0 894.60H725.5V909.15H717.0zM691.3 909.15H708.3V923.70H691.3zM716.8 909.15H733.8V923.70H716.8zM699.6 923.70H708.2V938.25H699.6zM759.3 923.70H767.8V938.25H759.3zM878.6 923.70H887.1V938.25H878.6zM708.0 938.25H716.6V952.80H708.0zM742.1 938.25H750.7V952.80H742.1zM759.2 938.25H767.7V952.80H759.2zM801.9 938.25H810.4V952.80H801.9zM853.1 938.25H870.1V952.80H853.1zM887.2 938.25H895.7V952.80H887.2zM938.4 938.25H946.9V952.80H938.4zM707.9 952.80H716.4V967.35H707.9zM733.5 952.80H742.0V967.35H733.5zM759.1 952.80H767.7V967.35H759.1zM810.4 952.80H818.9V967.35H810.4zM844.5 952.80H861.6V967.35H844.5zM887.2 952.80H895.8V967.35H887.2zM741.9 967.35H750.5V981.90H741.9zM724.7 981.90H733.3V996.45H724.7zM853.1 981.90H861.6V996.45H853.1zM724.6 996.45H733.2V1011.00H724.6zM750.3 996.45H758.8V1011.00H750.3zM827.4 996.45H835.9V1011.00H827.4zM878.7 996.45H887.3V1011.00H878.7zM904.4 996.45H913.0V1011.00H904.4zM750.2 1011.00H758.8V1025.55H750.2zM844.5 1011.00H853.1V1025.55H844.5zM964.5 1011.00H973.1V1025.55H964.5zM758.7 1025.55H767.2V1040.10H758.7zM750.0 1040.10H758.6V1054.65H750.0zM801.5 1040.10H810.1V1054.65H801.5zM1016.3 1040.10H1024.8V1054.65H1016.3zM784.1 1083.75H792.8V1098.30H784.1zM792.7 1098.30H801.3V1112.85H792.7zM775.4 1112.85H784.0V1127.40H775.4zM801.3 1112.85H809.9V1127.40H801.3zM913.5 1112.85H922.1V1127.40H913.5zM887.6 1127.40H904.9V1141.95H887.6zM913.5 1127.40H922.2V1141.95H913.5zM1017.2 1127.40H1025.8V1141.95H1017.2zM896.3 1141.95H904.9V1156.50H896.3zM913.6 1141.95H930.9V1156.50H913.6zM775.2 1156.50H783.8V1171.05H775.2zM792.4 1171.05H801.1V1185.60H792.4zM1018.0 1200.15H1026.7V1214.70H1018.0zM957.3 1214.70H974.7V1229.25H957.3zM1018.2 1214.70H1026.8V1229.25H1018.2zM887.9 1229.25H896.6V1243.80H887.9zM887.9 1243.80H896.6V1258.35H887.9zM940.1 1243.80H966.2V1258.35H940.1zM818.2 1258.35H835.6V1272.90H818.2zM888.0 1272.90H896.7V1287.45H888.0z"/>
<path fill="#02b0cc" d="M693.3 720.00H701.7V734.55H693.3zM794.2 720.00H802.6V734.55H794.2zM811.0 720.00H819.4V734.55H811.0zM693.2 734.55H701.6V749.10H693.2zM718.4 734.55H735.2V749.10H718.4zM785.7 734.55H811.0V749.10H785.7zM726.7 749.10H743.5V763.65H726.7zM701.3 763.65H709.7V778.20H701.3zM718.1 763.65H726.6V778.20H718.1zM734.9 778.20H751.8V792.75H734.9zM853.0 778.20H861.5V792.75H853.0zM701.0 792.75H717.9V807.30H701.0zM743.2 792.75H751.7V807.30H743.2zM692.4 807.30H709.3V821.85H692.4zM743.1 807.30H751.6V821.85H743.1zM692.2 821.85H717.6V836.40H692.2zM759.9 821.85H768.4V836.40H759.9zM692.1 836.40H709.0V850.95H692.1zM717.5 836.40H734.4V850.95H717.5zM751.4 836.40H768.3V850.95H751.4zM836.1 836.40H844.6V850.95H836.1zM988.6 836.40H997.1V850.95H988.6zM691.9 850.95H708.9V865.50H691.9zM717.3 850.95H734.3V865.50H717.3zM759.8 850.95H768.2V865.50H759.8zM776.7 850.95H785.2V865.50H776.7zM802.2 850.95H810.6V865.50H802.2zM691.7 865.50H717.2V880.05H691.7zM734.2 865.50H751.2V880.05H734.2zM802.1 865.50H810.6V880.05H802.1zM700.1 880.05H725.6V894.60H700.1zM734.1 880.05H751.1V894.60H734.1zM691.4 894.60H708.4V909.15H691.4zM725.5 894.60H734.0V909.15H725.5zM742.5 894.60H759.5V909.15H742.5zM819.0 894.60H827.5V909.15H819.0zM870.1 894.60H878.6V909.15H870.1zM708.3 909.15H716.8V923.70H708.3zM750.9 909.15H767.9V923.70H750.9zM708.2 923.70H725.2V938.25H708.2zM801.9 923.70H810.4V938.25H801.9zM827.5 923.70H836.0V938.25H827.5zM844.5 923.70H853.1V938.25H844.5zM725.1 938.25H733.6V952.80H725.1zM750.7 938.25H759.2V952.80H750.7zM767.7 938.25H776.3V952.80H767.7zM827.5 938.25H853.1V952.80H827.5zM870.1 938.25H887.2V952.80H870.1zM767.7 952.80H776.2V967.35H767.7zM870.1 952.80H887.2V967.35H870.1zM921.4 952.80H929.9V967.35H921.4zM767.6 967.35H776.1V981.90H767.6zM784.7 967.35H793.2V981.90H784.7zM810.3 967.35H827.4V981.90H810.3zM836.0 967.35H853.1V981.90H836.0zM870.2 967.35H887.2V981.90H870.2zM793.2 981.90H801.7V996.45H793.2zM818.8 981.90H835.9V996.45H818.8zM844.5 981.90H853.1V996.45H844.5zM861.6 981.90H887.3V996.45H861.6zM793.1 996.45H801.7V1011.00H793.1zM818.8 996.45H827.4V1011.00H818.8zM844.5 996.45H853.1V1011.00H844.5zM861.6 996.45H878.7V1011.00H861.6zM887.3 996.45H895.9V1011.00H887.3zM913.0 996.45H930.1V1011.00H913.0zM981.5 996.45H990.1V1011.00H981.5zM998.7 996.45H1015.8V1011.00H998.7zM741.6 1011.00H750.2V1025.55H741.6zM758.8 1011.00H767.3V1025.55H758.8zM793.0 1011.00H801.6V1025.55H793.0zM853.1 1011.00H861.6V1025.55H853.1zM870.2 1011.00H913.1V1025.55H870.2zM921.6 1011.00H938.8V1025.55H921.6zM947.4 1011.00H955.9V1025.55H947.4zM973.1 1011.00H1007.4V1025.55H973.1zM750.1 1025.55H758.7V1040.10H750.1zM793.0 1025.55H810.2V1040.10H793.0zM844.5 1025.55H870.2V1040.10H844.5zM878.8 1025.55H887.4V1040.10H878.8zM896.0 1025.55H904.5V1040.10H896.0zM913.1 1025.55H938.9V1040.10H913.1zM964.6 1025.55H1024.7V1040.10H964.6zM767.2 1040.10H775.8V1054.65H767.2zM904.6 1040.10H913.2V1054.65H904.6zM930.4 1040.10H939.0V1054.65H930.4zM973.3 1040.10H999.1V1054.65H973.3zM1007.7 1040.10H1016.3V1054.65H1007.7zM775.7 1054.65H784.3V1069.20H775.7zM818.7 1054.65H835.9V1069.20H818.7zM913.2 1054.65H921.8V1069.20H913.2zM982.0 1054.65H990.6V1069.20H982.0zM767.0 1069.20H784.2V1083.75H767.0zM913.3 1069.20H921.9V1083.75H913.3zM766.9 1083.75H775.5V1098.30H766.9zM775.5 1098.30H784.1V1112.85H775.5zM835.8 1098.30H844.4V1112.85H835.8zM784.0 1112.85H792.6V1127.40H784.0zM835.8 1112.85H844.4V1127.40H835.8zM887.6 1112.85H913.5V1127.40H887.6zM922.1 1112.85H930.7V1127.40H922.1zM809.9 1127.40H818.5V1141.95H809.9zM904.9 1127.40H913.5V1141.95H904.9zM922.2 1127.40H939.5V1141.95H922.2zM783.9 1141.95H792.5V1156.50H783.9zM887.7 1141.95H896.3V1156.50H887.7zM904.9 1141.95H913.6V1156.50H904.9zM930.9 1141.95H939.5V1156.50H930.9zM1017.4 1141.95H1026.0V1156.50H1017.4zM783.8 1156.50H827.1V1171.05H783.8zM853.1 1156.50H861.7V1171.05H853.1zM896.3 1156.50H913.7V1171.05H896.3zM922.3 1156.50H931.0V1171.05H922.3zM818.4 1171.05H827.1V1185.60H818.4zM861.7 1171.05H870.4V1185.60H861.7zM801.0 1185.60H809.7V1200.15H801.0zM835.7 1185.60H844.4V1200.15H835.7zM1017.8 1185.60H1026.5V1200.15H1017.8zM827.0 1200.15H835.7V1214.70H827.0zM853.1 1200.15H861.7V1214.70H853.1zM957.2 1200.15H965.9V1214.70H957.2zM1009.3 1200.15H1018.0V1214.70H1009.3zM844.4 1214.70H853.1V1229.25H844.4zM870.4 1214.70H879.1V1229.25H870.4zM887.8 1214.70H896.5V1229.25H887.8zM940.0 1214.70H948.6V1229.25H940.0zM809.6 1229.25H827.0V1243.80H809.6zM844.4 1229.25H853.1V1243.80H844.4zM940.0 1229.25H966.1V1243.80H940.0zM922.8 1258.35H931.5V1272.90H922.8zM948.9 1258.35H975.1V1272.90H948.9zM983.8 1258.35H992.5V1272.90H983.8zM870.5 1272.90H888.0V1287.45H870.5zM949.0 1272.90H957.7V1287.45H949.0zM966.5 1272.90H975.2V1287.45H966.5zM1010.1 1272.90H1018.8V1287.45H1010.1z"/>
<path fill="#08c48c" d="M836.2 720.00H844.6V734.55H836.2zM743.7 734.55H760.5V749.10H743.7zM752.0 749.10H760.4V763.65H752.0zM794.1 749.10H802.5V763.65H794.1zM768.7 763.65H785.6V778.20H768.7zM777.1 778.20H785.5V792.75H777.1zM777.0 792.75H785.5V807.30H777.0zM717.7 807.30H743.1V821.85H717.7zM785.4 807.30H793.9V821.85H785.4zM726.1 821.85H743.0V836.40H726.1zM751.5 821.85H759.9V836.40H751.5zM768.4 821.85H776.9V836.40H768.4zM785.3 821.85H802.3V836.40H785.3zM827.7 821.85H836.1V836.40H827.7zM709.0 836.40H717.5V850.95H709.0zM734.4 836.40H751.4V850.95H734.4zM768.3 836.40H776.8V850.95H768.3zM708.9 850.95H717.3V865.50H708.9zM742.8 850.95H751.3V865.50H742.8zM768.2 850.95H776.7V865.50H768.2zM836.1 850.95H844.6V865.50H836.1zM717.2 865.50H734.2V880.05H717.2zM759.7 865.50H785.1V880.05H759.7zM844.6 865.50H853.1V880.05H844.6zM725.6 880.05H734.1V894.60H725.6zM759.6 880.05H768.1V894.60H759.6zM776.6 880.05H785.1V894.60H776.6zM810.6 880.05H819.1V894.60H810.6zM844.6 880.05H853.1V894.60H844.6zM776.5 894.60H793.5V909.15H776.5zM844.5 894.60H861.6V909.15H844.5zM1014.7 894.60H1023.2V909.15H1014.7zM733.8 909.15H750.9V923.70H733.8zM793.5 909.15H802.0V923.70H793.5zM836.0 909.15H844.5V923.70H836.0zM853.1 909.15H861.6V923.70H853.1zM776.3 923.70H801.9V938.25H776.3zM810.4 923.70H819.0V938.25H810.4zM836.0 923.70H844.5V938.25H836.0zM870.1 923.70H878.6V938.25H870.1zM929.8 923.70H938.3V938.25H929.8zM776.3 938.25H784.8V952.80H776.3zM793.3 938.25H801.9V952.80H793.3zM810.4 938.25H818.9V952.80H810.4zM921.3 938.25H929.8V952.80H921.3zM750.6 952.80H759.1V967.35H750.6zM776.2 952.80H793.3V967.35H776.2zM801.8 952.80H810.4V967.35H801.8zM818.9 952.80H827.4V967.35H818.9zM836.0 952.80H844.5V967.35H836.0zM733.4 967.35H741.9V981.90H733.4zM759.0 967.35H767.6V981.90H759.0zM776.1 967.35H784.7V981.90H776.1zM793.2 967.35H801.8V981.90H793.2zM827.4 967.35H836.0V981.90H827.4zM930.0 967.35H938.5V981.90H930.0zM716.2 981.90H724.7V996.45H716.2zM733.3 981.90H758.9V996.45H733.3zM784.6 981.90H793.2V996.45H784.6zM801.7 981.90H810.3V996.45H801.7zM835.9 981.90H844.5V996.45H835.9zM895.8 981.90H930.1V996.45H895.8zM1015.6 981.90H1024.2V996.45H1015.6zM758.8 996.45H767.4V1011.00H758.8zM801.7 996.45H810.2V1011.00H801.7zM835.9 996.45H844.5V1011.00H835.9zM853.1 996.45H861.6V1011.00H853.1zM964.4 996.45H981.5V1011.00H964.4zM801.6 1011.00H818.8V1025.55H801.6zM835.9 1011.00H844.5V1025.55H835.9zM861.6 1011.00H870.2V1025.55H861.6zM767.2 1025.55H784.4V1040.10H767.2zM810.2 1025.55H844.5V1040.10H810.2zM870.2 1025.55H878.8V1040.10H870.2zM904.5 1025.55H913.1V1040.10H904.5zM947.5 1025.55H956.0V1040.10H947.5zM775.8 1040.10H784.3V1054.65H775.8zM810.1 1040.10H835.9V1054.65H810.1zM844.5 1040.10H870.2V1054.65H844.5zM913.2 1040.10H921.8V1054.65H913.2zM939.0 1040.10H956.1V1054.65H939.0zM999.1 1040.10H1007.7V1054.65H999.1zM767.1 1054.65H775.7V1069.20H767.1zM784.3 1054.65H792.9V1069.20H784.3zM810.1 1054.65H818.7V1069.20H810.1zM853.1 1054.65H870.3V1069.20H853.1zM784.2 1069.20H792.8V1083.75H784.2zM810.0 1069.20H818.6V1083.75H810.0zM775.5 1083.75H784.1V1098.30H775.5zM792.8 1083.75H801.4V1098.30H792.8zM810.0 1083.75H818.6V1098.30H810.0zM827.2 1083.75H844.4V1098.30H827.2zM913.4 1083.75H922.0V1098.30H913.4zM784.1 1098.30H792.7V1112.85H784.1zM801.3 1098.30H809.9V1112.85H801.3zM861.7 1098.30H870.3V1112.85H861.7zM1008.3 1098.30H1016.9V1112.85H1008.3zM792.6 1112.85H801.3V1127.40H792.6zM844.4 1112.85H853.1V1127.40H844.4zM792.6 1127.40H809.9V1141.95H792.6zM844.4 1127.40H853.1V1141.95H844.4zM870.3 1127.40H887.6V1141.95H870.3zM939.5 1127.40H948.1V1141.95H939.5zM999.9 1127.40H1008.6V1141.95H999.9zM792.5 1141.95H818.5V1156.50H792.5zM844.4 1141.95H870.4V1156.50H844.4zM879.0 1141.95H887.7V1156.50H879.0zM783.7 1171.05H792.4V1185.60H783.7zM853.1 1171.05H861.7V1185.60H853.1zM948.4 1171.05H957.0V1185.60H948.4zM948.5 1185.60H957.1V1200.15H948.5zM983.2 1185.60H991.8V1200.15H983.2zM1009.2 1185.60H1017.8V1200.15H1009.2zM809.7 1200.15H818.3V1214.70H809.7zM965.9 1200.15H974.6V1214.70H965.9zM983.3 1200.15H992.0V1214.70H983.3zM809.6 1214.70H818.3V1229.25H809.6zM931.3 1214.70H940.0V1229.25H931.3zM948.6 1214.70H957.3V1229.25H948.6zM983.4 1214.70H992.1V1229.25H983.4zM827.0 1229.25H835.7V1243.80H827.0zM861.8 1229.25H870.5V1243.80H861.8zM879.2 1229.25H887.9V1243.80H879.2zM974.8 1229.25H983.5V1243.80H974.8zM992.2 1229.25H1000.9V1243.80H992.2zM1018.3 1229.25H1027.0V1243.80H1018.3zM922.7 1243.80H931.4V1258.35H922.7zM966.2 1243.80H983.7V1258.35H966.2zM896.6 1258.35H914.1V1272.90H896.6zM940.2 1258.35H948.9V1272.90H940.2zM1001.2 1258.35H1009.9V1272.90H1001.2zM957.7 1272.90H966.5V1287.45H957.7zM992.6 1272.90H1010.1V1287.45H992.6zM1018.8 1272.90H1027.5V1287.45H1018.8z"/>
<path fill="#00c878" d="M827.8 720.00H836.2V734.55H827.8zM1012.8 720.00H1021.2V734.55H1012.8zM701.6 734.55H710.0V749.10H701.6zM844.6 734.55H853.0V749.10H844.6zM979.3 734.55H987.7V749.10H979.3zM701.4 749.10H709.9V763.65H701.4zM768.8 749.10H794.1V763.65H768.8zM844.6 749.10H853.0V763.65H844.6zM945.7 749.10H954.1V763.65H945.7zM735.0 763.65H760.3V778.20H735.0zM853.0 763.65H861.5V778.20H853.0zM988.0 763.65H996.4V778.20H988.0zM1004.8 763.65H1013.2V778.20H1004.8zM709.6 778.20H718.0V792.75H709.6zM827.7 778.20H836.2V792.75H827.7zM971.2 778.20H979.6V792.75H971.2zM996.5 778.20H1005.0V792.75H996.5zM836.2 792.75H844.6V807.30H836.2zM760.0 807.30H768.5V821.85H760.0zM827.7 807.30H836.1V821.85H827.7zM861.5 807.30H870.0V821.85H861.5zM946.1 807.30H954.5V821.85H946.1zM979.9 807.30H988.4V821.85H979.9zM903.8 821.85H912.3V836.40H903.8zM1013.9 821.85H1022.3V836.40H1013.9zM929.3 836.40H937.8V850.95H929.3zM793.7 850.95H802.2V865.50H793.7zM895.5 850.95H903.9V865.50H895.5zM810.6 865.50H819.1V880.05H810.6zM861.5 865.50H870.0V880.05H861.5zM904.0 865.50H912.5V880.05H904.0zM937.9 865.50H946.4V880.05H937.9zM997.4 865.50H1005.9V880.05H997.4zM759.5 894.60H768.0V909.15H759.5zM836.0 894.60H844.5V909.15H836.0zM955.1 894.60H963.6V909.15H955.1zM861.6 909.15H887.1V923.70H861.6zM904.1 909.15H912.7V923.70H904.1zM921.2 909.15H929.7V923.70H921.2zM955.2 909.15H963.7V923.70H955.2zM853.1 923.70H870.1V938.25H853.1zM963.9 923.70H972.4V938.25H963.9zM912.8 938.25H921.3V952.80H912.8zM946.9 938.25H955.4V952.80H946.9zM998.1 938.25H1006.6V952.80H998.1zM938.5 952.80H947.0V967.35H938.5zM1006.8 952.80H1015.3V967.35H1006.8zM895.8 967.35H904.3V981.90H895.8zM758.9 981.90H767.5V996.45H758.9zM810.3 981.90H818.8V996.45H810.3zM930.1 981.90H947.2V996.45H930.1zM972.8 981.90H981.4V996.45H972.8zM998.5 981.90H1007.1V996.45H998.5zM767.4 996.45H776.0V1011.00H767.4zM895.9 996.45H904.4V1011.00H895.9zM938.7 996.45H947.3V1011.00H938.7zM955.8 996.45H964.4V1011.00H955.8zM1015.8 996.45H1024.3V1011.00H1015.8zM956.0 1025.55H964.6V1040.10H956.0zM801.5 1054.65H810.1V1069.20H801.5zM887.4 1054.65H896.0V1069.20H887.4zM956.2 1054.65H964.8V1069.20H956.2zM801.4 1069.20H810.0V1083.75H801.4zM861.7 1069.20H870.3V1083.75H861.7zM964.9 1069.20H973.5V1083.75H964.9zM982.2 1069.20H990.8V1083.75H982.2zM870.3 1083.75H878.9V1098.30H870.3zM896.1 1083.75H904.7V1098.30H896.1zM965.0 1083.75H973.7V1098.30H965.0zM913.4 1098.30H922.0V1112.85H913.4zM973.8 1098.30H982.4V1112.85H973.8zM879.0 1112.85H887.6V1127.40H879.0zM930.7 1112.85H948.0V1127.40H930.7zM1017.1 1112.85H1025.7V1127.40H1017.1zM835.8 1127.40H844.4V1141.95H835.8zM861.7 1156.50H896.3V1171.05H861.7zM939.6 1156.50H948.3V1171.05H939.6zM1008.9 1156.50H1017.5V1171.05H1008.9zM835.7 1171.05H844.4V1185.60H835.7zM905.0 1171.05H913.7V1185.60H905.0zM922.4 1171.05H931.0V1185.60H922.4zM974.4 1171.05H983.0V1185.60H974.4zM1009.0 1171.05H1017.7V1185.60H1009.0zM818.4 1185.60H835.7V1200.15H818.4zM861.7 1185.60H879.1V1200.15H861.7zM905.1 1185.60H913.8V1200.15H905.1zM957.1 1185.60H965.8V1200.15H957.1zM835.7 1200.15H844.4V1214.70H835.7zM879.1 1200.15H887.8V1214.70H879.1zM913.8 1200.15H922.5V1214.70H913.8zM931.2 1200.15H939.9V1214.70H931.2zM948.6 1200.15H957.2V1214.70H948.6zM818.3 1214.70H844.4V1229.25H818.3zM853.1 1214.70H861.8V1229.25H853.1zM913.9 1214.70H922.6V1229.25H913.9zM974.7 1214.70H983.4V1229.25H974.7zM853.1 1243.80H879.2V1258.35H853.1zM879.2 1258.35H887.9V1272.90H879.2zM1018.6 1258.35H1027.3V1272.90H1018.6zM914.1 1272.90H922.8V1287.45H914.1zM931.6 1272.90H940.3V1287.45H931.6z"/>
<path fill="#88c440" d="M735.4 720.00H743.8V734.55H735.4zM979.1 720.00H987.6V734.55H979.1zM777.3 734.55H785.7V749.10H777.3zM878.3 734.55H886.7V749.10H878.3zM920.4 734.55H928.8V749.10H920.4zM945.6 734.55H954.0V749.10H945.6zM709.9 749.10H718.3V763.65H709.9zM802.5 749.10H810.9V763.65H802.5zM987.8 749.10H996.2V763.65H987.8zM794.0 763.65H802.5V778.20H794.0zM827.8 763.65H836.2V778.20H827.8zM903.6 763.65H912.1V778.20H903.6zM996.4 763.65H1004.8V778.20H996.4zM1005.0 778.20H1021.8V792.75H1005.0zM692.5 792.75H701.0V807.30H692.5zM751.7 792.75H760.1V807.30H751.7zM802.4 792.75H810.8V807.30H802.4zM861.5 792.75H869.9V807.30H861.5zM946.0 792.75H954.4V807.30H946.0zM1013.6 792.75H1022.0V807.30H1013.6zM768.5 807.30H776.9V821.85H768.5zM836.1 807.30H844.6V821.85H836.1zM920.7 807.30H929.2V821.85H920.7zM954.5 807.30H963.0V821.85H954.5zM743.0 821.85H751.5V836.40H743.0zM836.1 821.85H844.6V836.40H836.1zM785.3 836.40H793.7V850.95H785.3zM844.6 836.40H853.1V850.95H844.6zM810.6 850.95H819.1V865.50H810.6zM844.6 850.95H853.1V865.50H844.6zM861.5 850.95H870.0V865.50H861.5zM988.8 850.95H997.2V865.50H988.8zM751.2 865.50H759.7V880.05H751.2zM785.1 865.50H793.6V880.05H785.1zM836.1 865.50H844.6V880.05H836.1zM971.9 865.50H980.4V880.05H971.9zM1005.9 865.50H1014.4V880.05H1005.9zM751.1 880.05H759.6V894.60H751.1zM768.1 880.05H776.6V894.60H768.1zM853.1 880.05H878.5V894.60H853.1zM734.0 894.60H742.5V909.15H734.0zM793.5 894.60H802.0V909.15H793.5zM810.5 894.60H819.0V909.15H810.5zM938.1 894.60H946.6V909.15H938.1zM776.4 909.15H793.5V923.70H776.4zM802.0 909.15H827.5V923.70H802.0zM844.5 909.15H853.1V923.70H844.5zM929.7 909.15H938.2V923.70H929.7zM963.7 909.15H972.3V923.70H963.7zM767.8 923.70H776.3V938.25H767.8zM904.2 923.70H921.2V938.25H904.2zM938.3 923.70H955.3V938.25H938.3zM997.9 923.70H1006.5V938.25H997.9zM784.8 938.25H793.3V952.80H784.8zM818.9 938.25H827.5V952.80H818.9zM904.2 938.25H912.8V952.80H904.2zM929.8 938.25H938.4V952.80H929.8zM972.5 938.25H981.0V952.80H972.5zM793.3 952.80H801.8V967.35H793.3zM827.4 952.80H836.0V967.35H827.4zM912.8 952.80H921.4V967.35H912.8zM929.9 952.80H938.5V967.35H929.9zM947.0 952.80H955.5V967.35H947.0zM750.5 967.35H759.0V981.90H750.5zM801.8 967.35H810.3V981.90H801.8zM947.1 967.35H964.2V981.90H947.1zM981.3 967.35H989.8V981.90H981.3zM1006.9 967.35H1024.0V981.90H1006.9zM776.0 981.90H784.6V996.45H776.0zM887.3 981.90H895.8V996.45H887.3zM955.7 981.90H964.3V996.45H955.7zM981.4 981.90H990.0V996.45H981.4zM1007.1 981.90H1015.6V996.45H1007.1zM741.7 996.45H750.3V1011.00H741.7zM776.0 996.45H793.1V1011.00H776.0zM810.2 996.45H818.8V1011.00H810.2zM947.3 996.45H955.8V1011.00H947.3zM767.3 1011.00H793.0V1025.55H767.3zM818.8 1011.00H827.3V1025.55H818.8zM887.4 1025.55H896.0V1040.10H887.4zM938.9 1025.55H947.5V1040.10H938.9zM956.1 1040.10H964.7V1054.65H956.1zM870.3 1054.65H878.9V1069.20H870.3zM921.8 1054.65H947.6V1069.20H921.8zM973.4 1054.65H982.0V1069.20H973.4zM990.6 1054.65H1007.8V1069.20H990.6zM1016.4 1054.65H1025.0V1069.20H1016.4zM827.2 1069.20H835.8V1083.75H827.2zM853.1 1069.20H861.7V1083.75H853.1zM939.1 1069.20H947.7V1083.75H939.1zM922.0 1083.75H930.6V1098.30H922.0zM939.2 1083.75H947.8V1098.30H939.2zM870.3 1098.30H878.9V1112.85H870.3zM930.7 1098.30H939.3V1112.85H930.7zM991.0 1098.30H999.6V1112.85H991.0zM809.9 1112.85H818.5V1127.40H809.9zM861.7 1112.85H879.0V1127.40H861.7zM973.9 1112.85H982.5V1127.40H973.9zM982.7 1127.40H991.3V1141.95H982.7zM818.5 1141.95H827.1V1156.50H818.5zM870.4 1141.95H879.0V1156.50H870.4zM939.5 1141.95H948.2V1156.50H939.5zM1000.1 1141.95H1008.7V1156.50H1000.1zM827.1 1156.50H835.7V1171.05H827.1zM844.4 1156.50H853.1V1171.05H844.4zM913.7 1156.50H922.3V1171.05H913.7zM931.0 1156.50H939.6V1171.05H931.0zM965.6 1156.50H974.2V1171.05H965.6zM801.1 1171.05H818.4V1185.60H801.1zM870.4 1171.05H887.7V1185.60H870.4zM913.7 1171.05H922.4V1185.60H913.7zM853.1 1185.60H861.7V1200.15H853.1zM879.1 1185.60H896.4V1200.15H879.1zM913.8 1185.60H939.8V1200.15H913.8zM974.5 1185.60H983.2V1200.15H974.5zM887.8 1200.15H896.5V1214.70H887.8zM992.0 1200.15H1000.6V1214.70H992.0zM992.1 1214.70H1000.8V1229.25H992.1zM1009.5 1214.70H1018.2V1229.25H1009.5zM835.7 1229.25H844.4V1243.80H835.7zM853.1 1229.25H861.8V1243.80H853.1zM913.9 1229.25H940.0V1243.80H913.9zM983.5 1229.25H992.2V1243.80H983.5zM896.6 1243.80H914.0V1258.35H896.6zM1001.1 1243.80H1009.8V1258.35H1001.1zM1018.5 1243.80H1027.2V1258.35H1018.5zM914.1 1258.35H922.8V1272.90H914.1zM931.5 1258.35H940.2V1272.90H931.5zM975.1 1258.35H983.8V1272.90H975.1zM940.3 1272.90H949.0V1287.45H940.3zM983.9 1272.90H992.6V1287.45H983.9z"/>
<path fill="#c8bc18" d="M785.8 720.00H794.2V734.55H785.8zM996.0 720.00H1004.4V734.55H996.0zM735.2 734.55H743.7V749.10H735.2zM768.9 734.55H777.3V749.10H768.9zM819.4 734.55H836.2V749.10H819.4zM886.7 734.55H895.1V749.10H886.7zM903.5 734.55H920.4V749.10H903.5zM1012.9 734.55H1021.3V749.10H1012.9zM760.4 749.10H768.8V763.65H760.4zM861.5 749.10H869.9V763.65H861.5zM886.7 749.10H895.2V763.65H886.7zM996.2 749.10H1004.7V763.65H996.2zM709.7 763.65H718.1V778.20H709.7zM785.6 763.65H794.0V778.20H785.6zM802.5 763.65H810.9V778.20H802.5zM895.2 763.65H903.6V778.20H895.2zM945.8 763.65H962.7V778.20H945.8zM718.0 778.20H726.5V792.75H718.0zM751.8 778.20H760.2V792.75H751.8zM768.7 778.20H777.1V792.75H768.7zM785.5 778.20H794.0V792.75H785.5zM802.4 778.20H810.8V792.75H802.4zM945.9 778.20H954.3V792.75H945.9zM785.5 792.75H793.9V807.30H785.5zM827.7 792.75H836.2V807.30H827.7zM895.3 792.75H903.7V807.30H895.3zM912.2 792.75H920.6V807.30H912.2zM954.4 792.75H962.9V807.30H954.4zM979.8 792.75H988.2V807.30H979.8zM1005.1 792.75H1013.6V807.30H1005.1zM751.6 807.30H760.0V821.85H751.6zM793.9 807.30H802.3V821.85H793.9zM810.8 807.30H819.2V821.85H810.8zM1013.7 807.30H1022.2V821.85H1013.7zM802.3 821.85H819.2V836.40H802.3zM853.1 821.85H861.5V836.40H853.1zM954.6 821.85H963.1V836.40H954.6zM980.0 821.85H997.0V836.40H980.0zM776.8 836.40H785.3V850.95H776.8zM802.2 836.40H810.7V850.95H802.2zM886.9 836.40H903.9V850.95H886.9zM751.3 850.95H759.8V865.50H751.3zM937.9 850.95H946.3V865.50H937.9zM963.3 850.95H971.8V865.50H963.3zM853.1 865.50H861.5V880.05H853.1zM870.0 865.50H878.5V880.05H870.0zM785.1 880.05H810.6V894.60H785.1zM938.0 880.05H955.0V894.60H938.0zM1006.0 880.05H1023.0V894.60H1006.0zM895.6 894.60H904.1V909.15H895.6zM989.2 894.60H997.7V909.15H989.2zM912.7 909.15H921.2V923.70H912.7zM997.8 909.15H1006.3V923.70H997.8zM1014.8 909.15H1023.3V923.70H1014.8zM895.7 923.70H904.2V938.25H895.7zM955.3 923.70H963.9V938.25H955.3zM972.4 923.70H980.9V938.25H972.4zM989.4 923.70H997.9V938.25H989.4zM964.0 938.25H972.5V952.80H964.0zM1006.6 938.25H1015.1V952.80H1006.6zM895.8 952.80H904.3V967.35H895.8zM955.5 952.80H964.1V967.35H955.5zM904.3 967.35H930.0V981.90H904.3zM930.1 996.45H938.7V1011.00H930.1zM955.9 1011.00H964.5V1025.55H955.9zM1015.9 1011.00H1024.5V1025.55H1015.9zM784.3 1040.10H801.5V1054.65H784.3zM870.2 1040.10H887.4V1054.65H870.2zM896.0 1040.10H904.6V1054.65H896.0zM844.5 1054.65H853.1V1069.20H844.5zM964.8 1054.65H973.4V1069.20H964.8zM878.9 1069.20H887.5V1083.75H878.9zM896.1 1069.20H904.7V1083.75H896.1zM818.6 1083.75H827.2V1098.30H818.6zM878.9 1083.75H887.5V1098.30H878.9zM990.9 1083.75H1016.7V1098.30H990.9zM809.9 1098.30H835.8V1112.85H809.9zM878.9 1098.30H887.6V1112.85H878.9zM904.8 1098.30H913.4V1112.85H904.8zM922.0 1098.30H930.7V1112.85H922.0zM827.2 1112.85H835.8V1127.40H827.2zM965.3 1112.85H973.9V1127.40H965.3zM999.8 1112.85H1017.1V1127.40H999.8zM827.1 1127.40H835.8V1141.95H827.1zM827.1 1141.95H835.8V1156.50H827.1zM965.5 1141.95H974.1V1156.50H965.5zM948.3 1156.50H965.6V1171.05H948.3zM991.6 1156.50H1008.9V1171.05H991.6zM827.1 1171.05H835.7V1185.60H827.1zM887.7 1171.05H905.0V1185.60H887.7zM931.0 1171.05H939.7V1185.60H931.0zM965.7 1171.05H974.4V1185.60H965.7zM991.7 1171.05H1009.0V1185.60H991.7zM809.7 1185.60H818.4V1200.15H809.7zM844.4 1185.60H853.1V1200.15H844.4zM939.8 1185.60H948.5V1200.15H939.8zM1000.5 1185.60H1009.2V1200.15H1000.5zM818.3 1200.15H827.0V1214.70H818.3zM844.4 1200.15H853.1V1214.70H844.4zM861.7 1200.15H879.1V1214.70H861.7zM861.8 1214.70H870.4V1229.25H861.8zM922.6 1214.70H931.3V1229.25H922.6zM1000.8 1214.70H1009.5V1229.25H1000.8zM896.6 1229.25H905.2V1243.80H896.6zM1009.6 1229.25H1018.3V1243.80H1009.6zM914.0 1243.80H922.7V1258.35H914.0zM931.4 1243.80H940.1V1258.35H931.4zM983.7 1243.80H1001.1V1258.35H983.7zM1009.8 1243.80H1018.5V1258.35H1009.8zM1009.9 1258.35H1018.6V1272.90H1009.9zM905.4 1272.90H914.1V1287.45H905.4zM975.2 1272.90H983.9V1287.45H975.2z"/>
<path fill="#f8b830" d="M920.3 720.00H937.1V734.55H920.3zM1004.4 720.00H1012.8V734.55H1004.4zM760.5 734.55H768.9V749.10H760.5zM811.0 734.55H819.4V749.10H811.0zM853.0 734.55H869.9V749.10H853.0zM895.1 734.55H903.5V749.10H895.1zM987.7 734.55H1004.5V749.10H987.7zM743.5 749.10H752.0V763.65H743.5zM827.8 749.10H836.2V763.65H827.8zM853.0 749.10H861.5V763.65H853.0zM895.2 749.10H903.6V763.65H895.2zM920.4 749.10H937.3V763.65H920.4zM962.6 749.10H971.0V763.65H962.6zM979.4 749.10H987.8V763.65H979.4zM810.9 763.65H827.8V778.20H810.9zM861.5 763.65H869.9V778.20H861.5zM878.3 763.65H886.8V778.20H878.3zM971.1 763.65H979.5V778.20H971.1zM760.2 778.20H768.7V792.75H760.2zM836.2 778.20H844.6V792.75H836.2zM861.5 778.20H869.9V792.75H861.5zM878.4 778.20H886.8V792.75H878.4zM903.7 778.20H912.1V792.75H903.7zM929.0 778.20H937.4V792.75H929.0zM954.3 778.20H962.8V792.75H954.3zM717.9 792.75H726.3V807.30H717.9zM760.1 792.75H777.0V807.30H760.1zM819.3 792.75H827.7V807.30H819.3zM853.0 792.75H861.5V807.30H853.0zM903.7 792.75H912.2V807.30H903.7zM929.1 792.75H937.5V807.30H929.1zM971.3 792.75H979.8V807.30H971.3zM776.9 807.30H785.4V821.85H776.9zM802.3 807.30H810.8V821.85H802.3zM903.8 807.30H920.7V821.85H903.8zM1005.3 807.30H1013.7V821.85H1005.3zM861.5 821.85H870.0V836.40H861.5zM886.9 821.85H903.8V836.40H886.9zM912.3 821.85H937.7V836.40H912.3zM946.2 821.85H954.6V836.40H946.2zM997.0 821.85H1005.4V836.40H997.0zM810.7 836.40H836.1V850.95H810.7zM912.4 836.40H920.8V850.95H912.4zM954.7 836.40H971.7V850.95H954.7zM980.1 836.40H988.6V850.95H980.1zM1005.6 836.40H1014.0V850.95H1005.6zM785.2 850.95H793.7V865.50H785.2zM819.1 850.95H836.1V865.50H819.1zM853.1 850.95H861.5V865.50H853.1zM903.9 850.95H912.4V865.50H903.9zM954.8 850.95H963.3V865.50H954.8zM997.2 850.95H1022.7V865.50H997.2zM793.6 865.50H802.1V880.05H793.6zM819.1 865.50H827.6V880.05H819.1zM887.0 865.50H895.5V880.05H887.0zM1014.4 865.50H1022.8V880.05H1014.4zM819.1 880.05H844.6V894.60H819.1zM895.5 880.05H904.0V894.60H895.5zM912.5 880.05H921.0V894.60H912.5zM972.0 880.05H980.5V894.60H972.0zM989.0 880.05H1006.0V894.60H989.0zM768.0 894.60H776.5V909.15H768.0zM802.0 894.60H810.5V909.15H802.0zM827.5 894.60H836.0V909.15H827.5zM861.6 894.60H870.1V909.15H861.6zM904.1 894.60H912.6V909.15H904.1zM921.1 894.60H929.6V909.15H921.1zM963.6 894.60H972.1V909.15H963.6zM997.7 894.60H1006.2V909.15H997.7zM767.9 909.15H776.4V923.70H767.9zM827.5 909.15H836.0V923.70H827.5zM895.6 909.15H904.1V923.70H895.6zM938.2 909.15H955.2V923.70H938.2zM972.3 909.15H980.8V923.70H972.3zM989.3 909.15H997.8V923.70H989.3zM819.0 923.70H827.5V938.25H819.0zM887.1 923.70H895.7V938.25H887.1zM921.2 923.70H929.8V938.25H921.2zM1006.5 923.70H1015.0V938.25H1006.5zM904.3 952.80H912.8V967.35H904.3zM964.1 952.80H981.1V967.35H964.1zM887.2 967.35H895.8V981.90H887.2zM972.7 967.35H981.3V981.90H972.7zM767.5 981.90H776.0V996.45H767.5zM964.3 981.90H972.8V996.45H964.3zM990.0 981.90H998.5V996.45H990.0zM990.1 996.45H998.7V1011.00H990.1zM938.8 1011.00H947.4V1025.55H938.8zM784.4 1025.55H793.0V1040.10H784.4zM835.9 1040.10H844.5V1054.65H835.9zM887.4 1040.10H896.0V1054.65H887.4zM964.7 1040.10H973.3V1054.65H964.7zM792.9 1054.65H801.5V1069.20H792.9zM878.9 1054.65H887.4V1069.20H878.9zM896.0 1054.65H904.6V1069.20H896.0zM792.8 1069.20H801.4V1083.75H792.8zM818.6 1069.20H827.2V1083.75H818.6zM835.8 1069.20H844.5V1083.75H835.8zM870.3 1069.20H878.9V1083.75H870.3zM887.5 1069.20H896.1V1083.75H887.5zM921.9 1069.20H939.1V1083.75H921.9zM973.5 1069.20H982.2V1083.75H973.5zM990.8 1069.20H1008.0V1083.75H990.8zM801.4 1083.75H810.0V1098.30H801.4zM853.1 1083.75H870.3V1098.30H853.1zM930.6 1083.75H939.2V1098.30H930.6zM982.3 1083.75H990.9V1098.30H982.3zM844.4 1098.30H853.1V1112.85H844.4zM896.2 1098.30H904.8V1112.85H896.2zM939.3 1098.30H947.9V1112.85H939.3zM965.2 1098.30H973.8V1112.85H965.2zM999.6 1098.30H1008.3V1112.85H999.6zM818.5 1112.85H827.2V1127.40H818.5zM982.5 1112.85H991.2V1127.40H982.5zM818.5 1127.40H827.1V1141.95H818.5zM853.1 1127.40H870.3V1141.95H853.1zM948.1 1127.40H982.7V1141.95H948.1zM1008.6 1127.40H1017.2V1141.95H1008.6zM835.8 1141.95H844.4V1156.50H835.8zM948.2 1141.95H956.8V1156.50H948.2zM982.8 1141.95H991.4V1156.50H982.8zM1008.7 1141.95H1017.4V1156.50H1008.7zM835.7 1156.50H844.4V1171.05H835.7zM974.2 1156.50H991.6V1171.05H974.2zM1017.5 1156.50H1026.2V1171.05H1017.5zM844.4 1171.05H853.1V1185.60H844.4zM939.7 1171.05H948.4V1185.60H939.7zM983.0 1171.05H991.7V1185.60H983.0zM1017.7 1171.05H1026.3V1185.60H1017.7zM991.8 1185.60H1000.5V1200.15H991.8zM896.5 1200.15H913.8V1214.70H896.5zM922.5 1200.15H931.2V1214.70H922.5zM939.9 1200.15H948.6V1214.70H939.9zM974.6 1200.15H983.3V1214.70H974.6zM1000.6 1200.15H1009.3V1214.70H1000.6zM896.5 1214.70H905.2V1229.25H896.5zM905.2 1229.25H913.9V1243.80H905.2zM879.2 1243.80H887.9V1258.35H879.2zM992.5 1258.35H1001.2V1272.90H992.5zM922.8 1272.90H931.6V1287.45H922.8z"/>
<path fill="#fcd020" d="M953.9 720.00H962.3V734.55H953.9zM987.6 720.00H996.0V734.55H987.6zM836.2 734.55H844.6V749.10H836.2zM869.9 734.55H878.3V749.10H869.9zM928.8 734.55H945.6V749.10H928.8zM970.9 734.55H979.3V749.10H970.9zM1004.5 734.55H1012.9V749.10H1004.5zM836.2 749.10H844.6V763.65H836.2zM869.9 749.10H878.3V763.65H869.9zM903.6 749.10H912.0V763.65H903.6zM937.3 749.10H945.7V763.65H937.3zM954.1 749.10H962.6V763.65H954.1zM1004.7 749.10H1021.5V763.65H1004.7zM760.3 763.65H768.7V778.20H760.3zM836.2 763.65H853.0V778.20H836.2zM920.5 763.65H937.4V778.20H920.5zM962.7 763.65H971.1V778.20H962.7zM1013.2 763.65H1021.7V778.20H1013.2zM794.0 778.20H802.4V792.75H794.0zM810.8 778.20H827.7V792.75H810.8zM869.9 778.20H878.4V792.75H869.9zM886.8 778.20H903.7V792.75H886.8zM937.4 778.20H945.9V792.75H937.4zM937.5 792.75H946.0V807.30H937.5zM996.7 792.75H1005.1V807.30H996.7zM844.6 807.30H853.1V821.85H844.6zM878.4 807.30H903.8V821.85H878.4zM988.4 807.30H996.8V821.85H988.4zM844.6 821.85H853.1V836.40H844.6zM878.4 821.85H886.9V836.40H878.4zM963.1 821.85H971.6V836.40H963.1zM853.1 836.40H878.5V850.95H853.1zM903.9 836.40H912.4V850.95H903.9zM912.4 850.95H920.9V865.50H912.4zM929.4 850.95H937.9V865.50H929.4zM971.8 850.95H980.3V865.50H971.8zM921.0 865.50H929.5V880.05H921.0zM954.9 865.50H971.9V880.05H954.9zM980.4 865.50H997.4V880.05H980.4zM887.0 880.05H895.5V894.60H887.0zM904.0 880.05H912.5V894.60H904.0zM955.0 880.05H972.0V894.60H955.0zM980.5 880.05H989.0V894.60H980.5zM878.6 894.60H887.1V909.15H878.6zM929.6 894.60H938.1V909.15H929.6zM946.6 894.60H955.1V909.15H946.6zM980.6 894.60H989.2V909.15H980.6zM1006.2 894.60H1014.7V909.15H1006.2zM1006.3 909.15H1014.8V923.70H1006.3zM895.7 938.25H904.2V952.80H895.7zM955.4 938.25H964.0V952.80H955.4zM981.1 952.80H989.7V967.35H981.1zM998.2 952.80H1006.8V967.35H998.2zM1015.3 952.80H1023.8V967.35H1015.3zM938.5 967.35H947.1V981.90H938.5zM947.2 981.90H955.7V996.45H947.2zM904.6 1054.65H913.2V1069.20H904.6zM947.6 1054.65H956.2V1069.20H947.6zM904.7 1069.20H913.3V1083.75H904.7zM947.7 1069.20H956.3V1083.75H947.7zM1016.6 1069.20H1025.2V1083.75H1016.6zM904.7 1083.75H913.4V1098.30H904.7zM947.8 1083.75H956.4V1098.30H947.8zM973.7 1083.75H982.3V1098.30H973.7zM853.1 1098.30H861.7V1112.85H853.1zM947.9 1098.30H965.2V1112.85H947.9zM853.1 1112.85H861.7V1127.40H853.1zM948.0 1112.85H965.3V1127.40H948.0zM991.2 1112.85H999.8V1127.40H991.2zM956.8 1141.95H965.5V1156.50H956.8zM974.1 1141.95H982.8V1156.50H974.1zM896.4 1185.60H905.1V1200.15H896.4zM965.8 1185.60H974.5V1200.15H965.8zM1000.9 1229.25H1009.6V1243.80H1000.9z"/>
<path fill="#f8f00a" d="M954.0 734.55H970.9V749.10H954.0zM810.9 749.10H827.8V763.65H810.9zM878.3 749.10H886.7V763.65H878.3zM912.0 749.10H920.4V763.65H912.0zM971.0 749.10H979.4V763.65H971.0zM869.9 763.65H878.3V778.20H869.9zM886.8 763.65H895.2V778.20H886.8zM912.1 763.65H920.5V778.20H912.1zM937.4 763.65H945.8V778.20H937.4zM979.5 763.65H988.0V778.20H979.5zM844.6 778.20H853.0V792.75H844.6zM912.1 778.20H929.0V792.75H912.1zM962.8 778.20H971.2V792.75H962.8zM979.6 778.20H996.5V792.75H979.6zM793.9 792.75H802.4V807.30H793.9zM810.8 792.75H819.3V807.30H810.8zM844.6 792.75H853.0V807.30H844.6zM869.9 792.75H895.3V807.30H869.9zM920.6 792.75H929.1V807.30H920.6zM962.9 792.75H971.3V807.30H962.9zM988.2 792.75H996.7V807.30H988.2zM819.2 807.30H827.7V821.85H819.2zM853.1 807.30H861.5V821.85H853.1zM870.0 807.30H878.4V821.85H870.0zM929.2 807.30H946.1V821.85H929.2zM963.0 807.30H979.9V821.85H963.0zM996.8 807.30H1005.3V821.85H996.8zM776.9 821.85H785.3V836.40H776.9zM819.2 821.85H827.7V836.40H819.2zM870.0 821.85H878.4V836.40H870.0zM937.7 821.85H946.2V836.40H937.7zM971.6 821.85H980.0V836.40H971.6zM1005.4 821.85H1013.9V836.40H1005.4zM878.5 836.40H886.9V850.95H878.5zM920.8 836.40H929.3V850.95H920.8zM937.8 836.40H954.7V850.95H937.8zM971.7 836.40H980.1V850.95H971.7zM997.1 836.40H1005.6V850.95H997.1zM1014.0 836.40H1022.5V850.95H1014.0zM870.0 850.95H895.5V865.50H870.0zM920.9 850.95H929.4V865.50H920.9zM946.3 850.95H954.8V865.50H946.3zM980.3 850.95H988.8V865.50H980.3zM827.6 865.50H836.1V880.05H827.6zM878.5 865.50H887.0V880.05H878.5zM895.5 865.50H904.0V880.05H895.5zM912.5 865.50H921.0V880.05H912.5zM929.5 865.50H937.9V880.05H929.5zM946.4 865.50H954.9V880.05H946.4zM878.5 880.05H887.0V894.60H878.5zM921.0 880.05H938.0V894.60H921.0zM887.1 894.60H895.6V909.15H887.1zM912.6 894.60H921.1V909.15H912.6zM972.1 894.60H980.6V909.15H972.1zM887.1 909.15H895.6V923.70H887.1zM980.8 909.15H989.3V923.70H980.8zM980.9 923.70H989.4V938.25H980.9zM1015.0 923.70H1023.5V938.25H1015.0zM981.0 938.25H998.1V952.80H981.0zM1015.1 938.25H1023.7V952.80H1015.1zM989.7 952.80H998.2V967.35H989.7zM964.2 967.35H972.7V981.90H964.2zM989.8 967.35H1006.9V981.90H989.8zM835.9 1054.65H844.5V1069.20H835.9zM1007.8 1054.65H1016.4V1069.20H1007.8zM844.5 1069.20H853.1V1083.75H844.5zM956.3 1069.20H964.9V1083.75H956.3zM1008.0 1069.20H1016.6V1083.75H1008.0zM844.4 1083.75H853.1V1098.30H844.4zM887.5 1083.75H896.1V1098.30H887.5zM956.4 1083.75H965.0V1098.30H956.4zM1016.7 1083.75H1025.3V1098.30H1016.7zM887.6 1098.30H896.2V1112.85H887.6zM982.4 1098.30H991.0V1112.85H982.4zM1016.9 1098.30H1025.5V1112.85H1016.9zM991.3 1127.40H999.9V1141.95H991.3zM991.4 1141.95H1000.1V1156.50H991.4zM957.0 1171.05H965.7V1185.60H957.0zM905.2 1214.70H913.9V1229.25H905.2zM870.5 1229.25H879.2V1243.80H870.5zM984.0 1287.45H992.8V1302.00H984.0z"/>
</g>
<line x1="776.2" y1="720" x2="776.2" y2="1302" stroke="#d2c8d4" stroke-width="1.1" stroke-dasharray="1.4 3.4" opacity="0.7"/>
<line x1="861.6" y1="720" x2="861.6" y2="1302" stroke="#d2c8d4" stroke-width="1.1" stroke-dasharray="1.4 3.4" opacity="0.7"/>
<line x1="947.2" y1="720" x2="947.2" y2="1302" stroke="#d2c8d4" stroke-width="1.1" stroke-dasharray="1.4 3.4" opacity="0.7"/>
<line x1="691.8130927835052" y1="866.6" x2="1031.26323024055" y2="866.6" stroke="#d2c8d4" stroke-width="1.1" stroke-dasharray="1.4 3.4" opacity="0.7"/>
<line x1="690.244587628866" y1="1011.5" x2="1033.0060137457044" y2="1011.5" stroke="#d2c8d4" stroke-width="1.1" stroke-dasharray="1.4 3.4" opacity="0.7"/>
<line x1="688.680412371134" y1="1156.0" x2="1034.7439862542956" y2="1156.0" stroke="#d2c8d4" stroke-width="1.1" stroke-dasharray="1.4 3.4" opacity="0.7"/>
<polyline points="840.16,950.18 858.86,950.18 861.59,952.91 862.37,957.97 876.40,958.36 877.18,993.43 883.80,994.99 883.80,1007.46 877.18,1008.24 876.79,1016.81 883.41,1017.98 883.80,1027.72 882.24,1033.56 885.36,1035.51 885.36,1052.65 869.77,1055.77 861.98,1055.38 851.07,1054.99 846.40,1050.31 844.84,1044.08 840.94,1044.47 837.82,1042.91 826.53,1042.13 826.14,1035.12 837.82,1033.95 837.82,1016.81 835.49,1014.86 836.65,1011.35 821.85,1009.01 821.46,988.36 812.89,986.81 812.11,984.47 814.84,980.18 808.99,971.61 815.23,978.62 817.95,967.71 820.68,961.48 824.58,956.42 828.08,954.47 839.38,954.08 840.16,950.18" fill="none" stroke="#000" stroke-width="2.6" stroke-linejoin="round" stroke-linecap="round"/>
<polygon points="693.40,719.60 1029.50,719.80 1036.50,1302.00 687.10,1301.60" fill="none" stroke="#141414" stroke-width="2.8"/>
<rect x="776.5" y="866.6" width="170.6" height="289.3" fill="none" stroke="#111" stroke-width="2.4" stroke-dasharray="7.5 12.5"/>
<text transform="translate(862.20,710.00) scale(1.0,1.13)" font-size="22.6" text-anchor="middle" font-weight="bold" fill="#111" >2020-2022</text>
<text transform="translate(684.60,728.60) scale(1.0,1.09)" font-size="21" text-anchor="end" font-weight="normal" fill="#383838" >52.0° N</text>
<text transform="translate(682.58,873.80) scale(1.0,1.09)" font-size="21" text-anchor="end" font-weight="normal" fill="#383838" >51.5° N</text>
<text transform="translate(680.59,1019.30) scale(1.0,1.09)" font-size="21" text-anchor="end" font-weight="normal" fill="#383838" >51.0° N</text>
<text transform="translate(678.60,1164.50) scale(1.0,1.09)" font-size="21" text-anchor="end" font-weight="normal" fill="#383838" >50.5° N</text>
<text transform="translate(676.60,1310.50) scale(1.0,1.09)" font-size="21" text-anchor="end" font-weight="normal" fill="#383838" >50.0° N</text>
<text transform="translate(691.80,1328.90) scale(1.0,1.09)" font-size="21" text-anchor="middle" font-weight="normal" fill="#383838" >115.0° W</text>
<text transform="translate(865.60,1328.90) scale(1.0,1.09)" font-size="21" text-anchor="middle" font-weight="normal" fill="#383838" >114.0° W</text>
<text transform="translate(1038.60,1328.90) scale(1.0,1.09)" font-size="21" text-anchor="middle" font-weight="normal" fill="#383838" >113.0° W</text>
<defs><linearGradient id="cbd" x1="0" y1="0" x2="0" y2="1"><stop offset="0.000" stop-color="#f8f800"/><stop offset="0.050" stop-color="#f8e810"/><stop offset="0.100" stop-color="#fcd020"/><stop offset="0.150" stop-color="#fbb838"/><stop offset="0.200" stop-color="#f0b020"/><stop offset="0.250" stop-color="#c0bc10"/><stop offset="0.290" stop-color="#90c43a"/><stop offset="0.335" stop-color="#40c850"/><stop offset="0.355" stop-color="#05c870"/><stop offset="0.440" stop-color="#00c098"/><stop offset="0.540" stop-color="#00b4c0"/><stop offset="0.620" stop-color="#06a6d4"/><stop offset="0.700" stop-color="#0a94ec"/><stop offset="0.780" stop-color="#1480fa"/><stop offset="0.830" stop-color="#3a5cf6"/><stop offset="0.880" stop-color="#4848f0"/><stop offset="0.940" stop-color="#4434c8"/><stop offset="1.000" stop-color="#3e26a8"/></linearGradient></defs>
<rect x="1053.6" y="720.5" width="23.400000000000034" height="582.3" fill="url(#cbd)" stroke="#444" stroke-width="1"/>
<line x1="1073.5" x2="1077.0" y1="1302.8" y2="1302.8" stroke="#333" stroke-width="1"/>
<text transform="translate(1086.40,1312.10) scale(1.0,1.13)" font-size="20.5" text-anchor="start" font-weight="normal" fill="#383838" >0</text>
<line x1="1073.5" x2="1077.0" y1="1205.75" y2="1205.75" stroke="#333" stroke-width="1"/>
<text transform="translate(1086.40,1214.72) scale(1.0,1.13)" font-size="20.5" text-anchor="start" font-weight="normal" fill="#383838" >10</text>
<line x1="1073.5" x2="1077.0" y1="1108.6999999999998" y2="1108.6999999999998" stroke="#333" stroke-width="1"/>
<text transform="translate(1086.40,1117.33) scale(1.0,1.13)" font-size="20.5" text-anchor="start" font-weight="normal" fill="#383838" >20</text>
<line x1="1073.5" x2="1077.0" y1="1011.65" y2="1011.65" stroke="#333" stroke-width="1"/>
<text transform="translate(1086.40,1019.95) scale(1.0,1.13)" font-size="20.5" text-anchor="start" font-weight="normal" fill="#383838" >30</text>
<line x1="1073.5" x2="1077.0" y1="914.5999999999999" y2="914.5999999999999" stroke="#333" stroke-width="1"/>
<text transform="translate(1086.40,922.57) scale(1.0,1.13)" font-size="20.5" text-anchor="start" font-weight="normal" fill="#383838" >40</text>
<line x1="1073.5" x2="1077.0" y1="817.55" y2="817.55" stroke="#333" stroke-width="1"/>
<text transform="translate(1086.40,825.18) scale(1.0,1.13)" font-size="20.5" text-anchor="start" font-weight="normal" fill="#383838" >50</text>
<line x1="1073.5" x2="1077.0" y1="720.5" y2="720.5" stroke="#333" stroke-width="1"/>
<text transform="translate(1086.40,727.80) scale(1.0,1.13)" font-size="20.5" text-anchor="start" font-weight="normal" fill="#383838" >60</text>
<text transform="translate(1136.50,1008.50) rotate(-90) scale(1.056,1.0)" font-size="20.5" text-anchor="middle" font-weight="normal" fill="#383838" >Number of valid observations</text>
<text transform="translate(714.00,756.90)" font-size="34.5" text-anchor="start" font-weight="bold" fill="#000" >(d)</text>
<text transform="translate(166.30,1820.00) rotate(-64)" font-size="28" text-anchor="end" font-weight="normal" fill="#222" >Jan</text>
<rect x="212.92" y="1690.25" width="14" height="110.55" fill="#1b6fd0"/>
<rect x="230.62" y="1682.88" width="14" height="117.92" fill="#fb7d2a"/>
<rect x="248.02" y="1700.57" width="14" height="100.23" fill="#a5a5a5"/>
<text transform="translate(246.12,1820.00) rotate(-64)" font-size="28" text-anchor="end" font-weight="normal" fill="#222" >Feb</text>
<rect x="310.44" y="1727.10" width="14" height="73.70" fill="#fb7d2a"/>
<rect x="327.84" y="1727.10" width="14" height="73.70" fill="#a5a5a5"/>
<text transform="translate(325.94,1820.00) rotate(-64)" font-size="28" text-anchor="end" font-weight="normal" fill="#222" >Mar</text>
<rect x="390.26" y="1675.51" width="14" height="125.29" fill="#fb7d2a"/>
<rect x="407.66" y="1708.67" width="14" height="92.12" fill="#a5a5a5"/>
<text transform="translate(405.76,1820.00) rotate(-64)" font-size="28" text-anchor="end" font-weight="normal" fill="#222" >Apr</text>
<rect x="470.08" y="1727.10" width="14" height="73.70" fill="#fb7d2a"/>
<rect x="487.48" y="1727.10" width="14" height="73.70" fill="#a5a5a5"/>
<text transform="translate(485.58,1820.00) rotate(-64)" font-size="28" text-anchor="end" font-weight="normal" fill="#222" >May</text>
<rect x="532.20" y="1727.10" width="14" height="73.70" fill="#1b6fd0"/>
<rect x="549.90" y="1727.10" width="14" height="73.70" fill="#fb7d2a"/>
<rect x="567.30" y="1678.46" width="14" height="122.34" fill="#a5a5a5"/>
<text transform="translate(565.40,1820.00) rotate(-64)" font-size="28" text-anchor="end" font-weight="normal" fill="#222" >Jun</text>
<rect x="612.02" y="1690.25" width="14" height="110.55" fill="#1b6fd0"/>
<rect x="629.72" y="1574.54" width="14" height="226.26" fill="#fb7d2a"/>
<rect x="647.12" y="1618.76" width="14" height="182.04" fill="#a5a5a5"/>
<text transform="translate(645.22,1820.00) rotate(-64)" font-size="28" text-anchor="end" font-weight="normal" fill="#222" >Jul</text>
<rect x="691.84" y="1617.29" width="14" height="183.51" fill="#1b6fd0"/>
<rect x="709.54" y="1688.04" width="14" height="112.76" fill="#fb7d2a"/>
<rect x="726.94" y="1705.73" width="14" height="95.07" fill="#a5a5a5"/>
<text transform="translate(725.04,1820.00) rotate(-64)" font-size="28" text-anchor="end" font-weight="normal" fill="#222" >Aug</text>
<rect x="771.66" y="1660.77" width="14" height="140.03" fill="#1b6fd0"/>
<rect x="789.36" y="1644.56" width="14" height="156.24" fill="#fb7d2a"/>
<rect x="806.76" y="1567.17" width="14" height="233.63" fill="#a5a5a5"/>
<text transform="translate(804.86,1820.00) rotate(-64)" font-size="28" text-anchor="end" font-weight="normal" fill="#222" >Sep</text>
<rect x="851.48" y="1690.25" width="14" height="110.55" fill="#1b6fd0"/>
<rect x="869.18" y="1612.87" width="14" height="187.94" fill="#fb7d2a"/>
<rect x="886.58" y="1447.04" width="14" height="353.76" fill="#a5a5a5"/>
<text transform="translate(884.68,1820.00) rotate(-64)" font-size="28" text-anchor="end" font-weight="normal" fill="#222" >Oct</text>
<rect x="931.30" y="1727.10" width="14" height="73.70" fill="#1b6fd0"/>
<rect x="949.00" y="1720.47" width="14" height="80.33" fill="#fb7d2a"/>
<rect x="966.40" y="1701.30" width="14" height="99.50" fill="#a5a5a5"/>
<text transform="translate(964.50,1820.00) rotate(-64)" font-size="28" text-anchor="end" font-weight="normal" fill="#222" >Nov</text>
<text transform="translate(1044.32,1820.00) rotate(-64)" font-size="28" text-anchor="end" font-weight="normal" fill="#222" >Dec</text>
<rect x="117.4" y="1358.6" width="957.3000000000001" height="442.20000000000005" fill="none" stroke="#000" stroke-width="2.2"/>
<text transform="translate(95.00,1810.10)" font-size="26" text-anchor="end" font-weight="normal" fill="#222" >0</text>
<text transform="translate(95.00,1736.40)" font-size="26" text-anchor="end" font-weight="normal" fill="#222" >1</text>
<text transform="translate(95.00,1662.70)" font-size="26" text-anchor="end" font-weight="normal" fill="#222" >2</text>
<text transform="translate(95.00,1589.00)" font-size="26" text-anchor="end" font-weight="normal" fill="#222" >3</text>
<text transform="translate(95.00,1515.30)" font-size="26" text-anchor="end" font-weight="normal" fill="#222" >4</text>
<text transform="translate(95.00,1441.60)" font-size="26" text-anchor="end" font-weight="normal" fill="#222" >5</text>
<text transform="translate(95.00,1367.90)" font-size="26" text-anchor="end" font-weight="normal" fill="#222" >6</text>
<text transform="translate(37.40,1579.00) rotate(-90)" font-size="28.5" text-anchor="middle" font-weight="normal" fill="#222" >Average # of valid observations</text>
<text transform="translate(65.30,1579.50) rotate(-90)" font-size="28.5" text-anchor="middle" font-weight="normal" fill="#222" >in the source region</text>
<text transform="translate(139.00,1403.60) scale(1.0,1.05)" font-size="35" text-anchor="start" font-weight="bold" fill="#111" >(e)</text>
<rect x="391.4" y="1382" width="13" height="13" fill="#1b6fd0"/>
<text transform="translate(410.90,1396.30)" font-size="26.5" text-anchor="start" font-weight="normal" fill="#111" >2020</text>
<rect x="536.5" y="1382" width="13" height="13" fill="#fb7d2a"/>
<text transform="translate(556.00,1396.30)" font-size="26.5" text-anchor="start" font-weight="normal" fill="#111" >2021</text>
<rect x="682" y="1382" width="13" height="13" fill="#a5a5a5"/>
<text transform="translate(701.50,1396.30)" font-size="26.5" text-anchor="start" font-weight="normal" fill="#111" >2022</text>
</g>
</svg></body></html>
